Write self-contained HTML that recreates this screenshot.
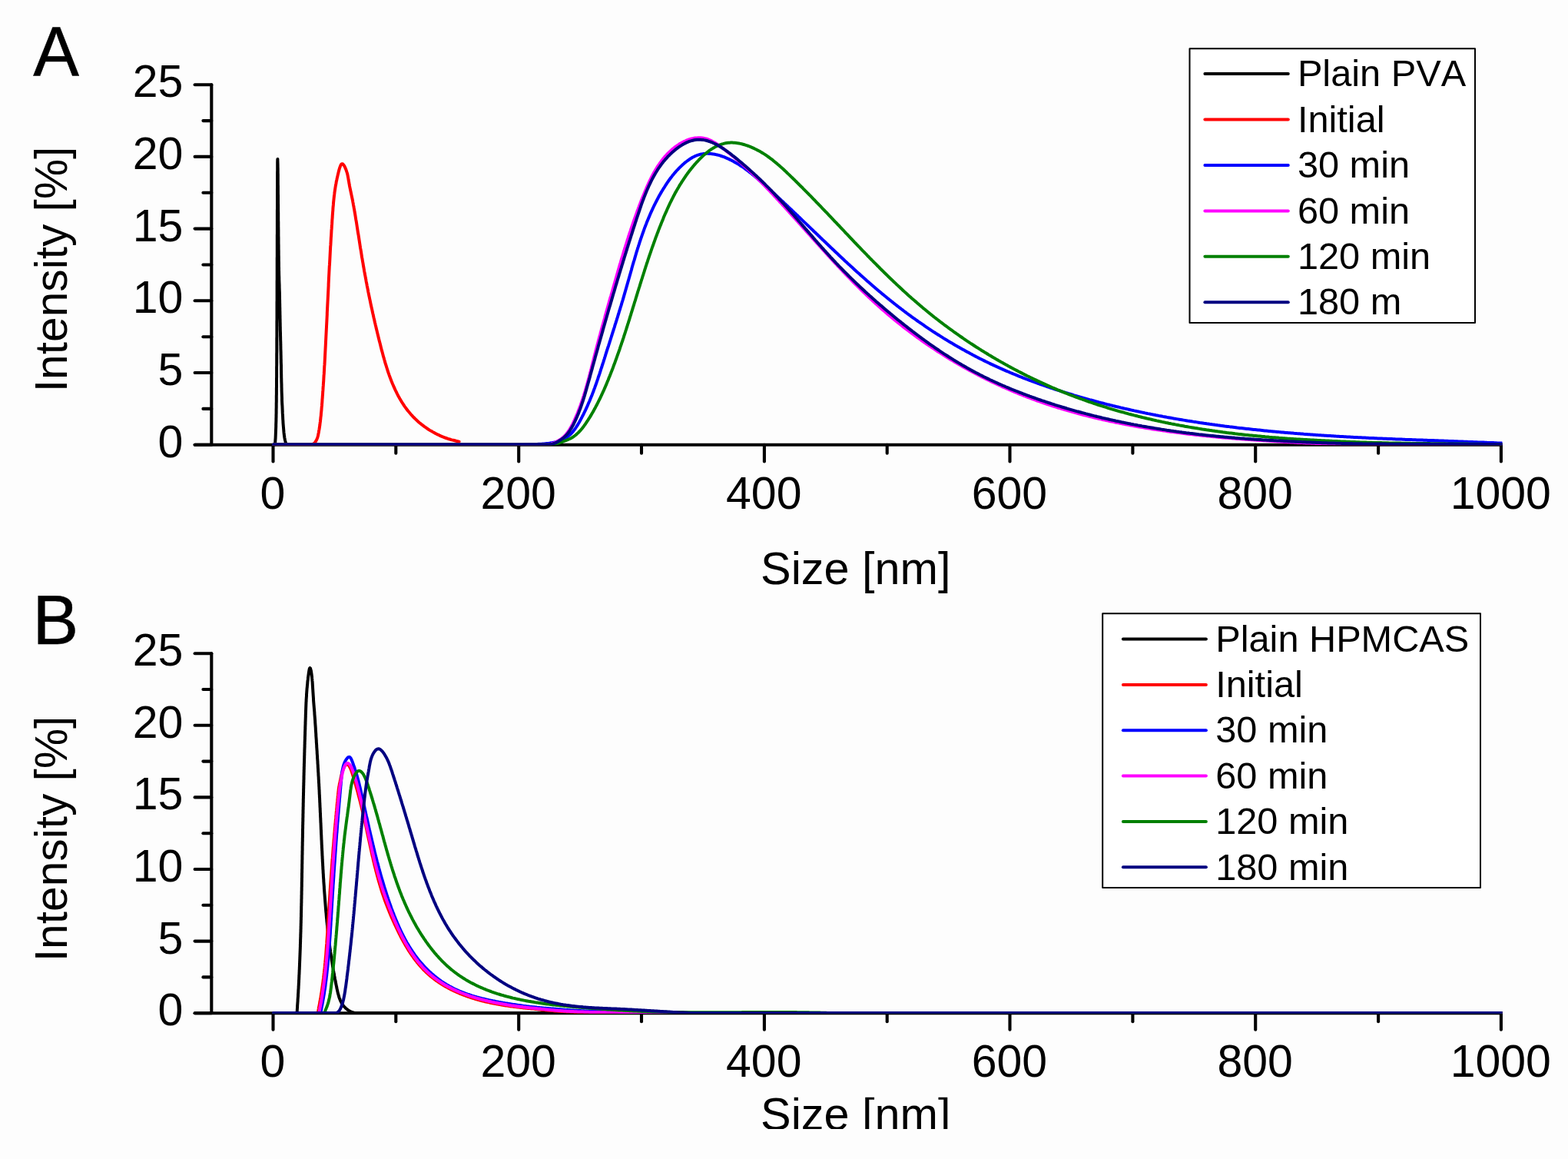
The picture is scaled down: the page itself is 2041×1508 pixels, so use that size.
<!DOCTYPE html>
<html lang="en"><head><meta charset="utf-8"><title>Particle size distributions</title>
<style>
html,body{margin:0;padding:0;background:#fdfdfd;overflow:hidden}
svg{display:block;font-family:"Liberation Sans",sans-serif;font-kerning:none;fill:#000}
.tk{font-size:59.0px}
.lg{font-size:48.7px}
.pl{font-size:89.5px;stroke:#000;stroke-width:0.5px}
.ti{font-size:58.7px}
.xt{font-size:59.4px}
</style></head>
<body>
<svg width="2041" height="1508" viewBox="0 0 2041 1508">
<defs><clipPath id="cb"><rect x="900" y="1427.8" width="440" height="41.2"/></clipPath>
<clipPath id="clipA"><rect x="270" y="100" width="1685.5" height="479.25"/></clipPath>
<clipPath id="clipB"><rect x="270" y="840" width="1685.5" height="478.85"/></clipPath></defs>
<rect width="2041" height="1508" fill="#fdfdfd"/>
<!-- Panel A -->
<g stroke="#000" stroke-width="4.1" stroke-linecap="round" fill="none">
<path d="M253.6,578.8 H1953.9"/>
<path d="M275.3,578.1 V110.2"/>
<path d="M253.6,578.8 H275.3"/>
<path d="M253.6,485.0 H275.3"/>
<path d="M253.6,391.3 H275.3"/>
<path d="M253.6,297.6 H275.3"/>
<path d="M253.6,203.9 H275.3"/>
<path d="M253.6,110.2 H275.3"/>
<path d="M264.4,531.9 H275.3"/>
<path d="M264.4,438.2 H275.3"/>
<path d="M264.4,344.5 H275.3"/>
<path d="M264.4,250.8 H275.3"/>
<path d="M264.4,157.1 H275.3"/>
<path d="M355.5,578.8 V600.4"/>
<path d="M675.2,578.8 V600.4"/>
<path d="M994.9,578.8 V600.4"/>
<path d="M1314.5,578.8 V600.4"/>
<path d="M1634.2,578.8 V600.4"/>
<path d="M1953.9,578.8 V600.4"/>
<path d="M515.3,578.8 V589.8"/>
<path d="M835.0,578.8 V589.8"/>
<path d="M1154.7,578.8 V589.8"/>
<path d="M1474.4,578.8 V589.8"/>
<path d="M1794.1,578.8 V589.8"/>
</g>
<text class="tk" transform="translate(238.30,594.75) scale(1,1.012)" text-anchor="end">0</text>
<text class="tk" transform="translate(238.30,501.04) scale(1,1.012)" text-anchor="end">5</text>
<text class="tk" transform="translate(238.30,407.33) scale(1,1.012)" text-anchor="end">10</text>
<text class="tk" transform="translate(238.30,313.62) scale(1,1.012)" text-anchor="end">15</text>
<text class="tk" transform="translate(238.30,219.91) scale(1,1.012)" text-anchor="end">20</text>
<text class="tk" transform="translate(238.30,126.20) scale(1,1.012)" text-anchor="end">25</text>
<text class="tk" transform="translate(354.90,661.75) scale(1,1.012)" text-anchor="middle">0</text>
<text class="tk" transform="translate(674.58,661.75) scale(1,1.012)" text-anchor="middle">200</text>
<text class="tk" transform="translate(994.26,661.75) scale(1,1.012)" text-anchor="middle">400</text>
<text class="tk" transform="translate(1313.94,661.75) scale(1,1.012)" text-anchor="middle">600</text>
<text class="tk" transform="translate(1633.62,661.75) scale(1,1.012)" text-anchor="middle">800</text>
<text class="tk" transform="translate(1953.30,661.75) scale(1,1.012)" text-anchor="middle">1000</text>
<g fill="none" stroke-width="4.0" stroke-linejoin="round" stroke-linecap="round" clip-path="url(#clipA)">
<path stroke="#000000" d="M358.0,578.5 L358.2,575.3 L358.4,572.4 L358.6,570.0 L358.7,567.5 L358.8,565.0 L358.9,562.5 L359.0,560.0 L359.1,557.5 L359.2,555.1 L359.2,552.6 L359.3,550.1 L359.4,547.6 L359.4,545.1 L359.5,542.6 L359.5,540.1 L359.6,537.6 L359.6,535.2 L359.6,532.7 L359.7,530.2 L359.7,527.7 L359.7,525.2 L359.8,522.7 L359.8,520.2 L359.8,517.7 L359.8,515.3 L359.9,512.8 L359.9,510.3 L359.9,507.8 L359.9,505.3 L360.0,502.8 L360.0,500.3 L360.0,497.8 L360.0,495.4 L360.0,492.9 L360.1,490.4 L360.1,487.9 L360.1,485.4 L360.1,482.9 L360.1,480.4 L360.1,478.0 L360.2,475.5 L360.2,473.0 L360.2,470.5 L360.2,468.0 L360.2,465.5 L360.2,463.0 L360.2,460.5 L360.3,458.1 L360.3,455.6 L360.3,453.1 L360.3,450.6 L360.3,448.1 L360.3,445.6 L360.3,443.1 L360.3,440.6 L360.4,438.2 L360.4,435.7 L360.4,433.2 L360.4,430.7 L360.4,428.2 L360.4,425.7 L360.4,423.2 L360.4,420.7 L360.4,418.3 L360.5,415.8 L360.5,413.3 L360.5,410.8 L360.5,408.3 L360.5,405.8 L360.5,403.3 L360.5,400.8 L360.5,398.4 L360.5,395.9 L360.5,393.4 L360.6,390.9 L360.6,388.4 L360.6,385.9 L360.6,383.4 L360.6,380.9 L360.6,378.5 L360.6,376.0 L360.6,373.5 L360.6,371.0 L360.6,368.5 L360.6,366.0 L360.7,363.5 L360.7,361.1 L360.7,358.6 L360.7,356.1 L360.7,353.6 L360.7,351.1 L360.7,348.6 L360.7,346.1 L360.7,343.6 L360.7,341.2 L360.7,338.7 L360.7,336.2 L360.8,333.7 L360.8,331.2 L360.8,328.7 L360.8,326.2 L360.8,323.7 L360.8,321.3 L360.8,318.8 L360.8,316.3 L360.8,313.8 L360.8,311.3 L360.8,308.8 L360.8,306.3 L360.9,303.8 L360.9,301.4 L360.9,298.9 L360.9,296.4 L360.9,293.9 L360.9,291.4 L360.9,288.9 L360.9,286.4 L360.9,283.9 L360.9,281.5 L360.9,279.0 L360.9,276.5 L360.9,274.0 L361.0,271.5 L361.0,269.0 L361.0,266.5 L361.0,264.0 L361.0,261.6 L361.0,259.1 L361.0,256.6 L361.0,254.1 L361.0,251.6 L361.0,249.1 L361.0,246.6 L361.1,244.1 L361.1,241.7 L361.1,239.2 L361.1,236.7 L361.1,234.2 L361.1,231.7 L361.1,229.2 L361.1,226.7 L361.1,224.3 L361.2,221.8 L361.2,219.3 L361.2,216.8 L361.2,214.2 L361.2,211.1 L361.3,208.2 L361.4,207.0 L361.4,208.5 L361.5,211.5 L361.6,214.6 L361.6,217.1 L361.7,219.6 L361.7,222.1 L361.7,224.6 L361.8,227.1 L361.8,229.5 L361.8,232.0 L361.8,234.5 L361.8,237.0 L361.8,239.5 L361.9,242.0 L361.9,244.5 L361.9,246.9 L361.9,249.4 L361.9,251.9 L362.0,254.4 L362.0,256.9 L362.0,259.4 L362.0,261.9 L362.0,264.4 L362.1,266.8 L362.1,269.3 L362.1,271.8 L362.1,274.3 L362.2,276.8 L362.2,279.3 L362.2,281.8 L362.2,284.3 L362.2,286.7 L362.3,289.2 L362.3,291.7 L362.3,294.2 L362.3,296.7 L362.4,299.2 L362.4,301.7 L362.4,304.2 L362.4,306.6 L362.5,309.1 L362.5,311.6 L362.5,314.1 L362.5,316.6 L362.6,319.1 L362.6,321.6 L362.6,324.1 L362.7,326.5 L362.7,329.0 L362.7,331.5 L362.8,334.0 L362.8,336.5 L362.8,339.0 L362.9,341.5 L362.9,343.9 L362.9,346.4 L363.0,348.9 L363.0,351.4 L363.1,353.9 L363.1,356.4 L363.2,358.9 L363.3,361.4 L363.3,363.8 L363.4,366.3 L363.5,368.8 L363.6,371.3 L363.6,373.8 L363.7,376.3 L363.8,378.8 L363.9,381.2 L363.9,383.7 L364.0,386.2 L364.0,388.7 L364.1,391.2 L364.1,393.7 L364.2,396.2 L364.2,398.7 L364.3,401.1 L364.3,403.6 L364.4,406.1 L364.4,408.6 L364.5,411.1 L364.5,413.6 L364.6,416.1 L364.6,418.5 L364.7,421.0 L364.7,423.5 L364.8,426.0 L364.8,428.5 L364.9,431.0 L365.0,433.5 L365.0,436.0 L365.1,438.4 L365.1,440.9 L365.2,443.4 L365.3,445.9 L365.3,448.4 L365.4,450.9 L365.4,453.4 L365.5,455.8 L365.6,458.3 L365.6,460.8 L365.7,463.3 L365.7,465.8 L365.8,468.3 L365.8,470.8 L365.9,473.3 L366.0,475.7 L366.0,478.2 L366.0,480.7 L366.1,483.2 L366.1,485.7 L366.2,488.2 L366.2,490.7 L366.3,493.1 L366.3,495.6 L366.4,498.1 L366.5,500.6 L366.5,503.1 L366.6,505.6 L366.6,508.1 L366.7,510.6 L366.8,513.0 L366.9,515.5 L367.0,518.0 L367.0,520.5 L367.1,523.0 L367.2,525.5 L367.4,528.0 L367.5,530.4 L367.6,532.9 L367.7,535.4 L367.8,537.9 L368.0,540.4 L368.1,542.9 L368.2,545.3 L368.4,547.8 L368.5,550.3 L368.7,552.8 L368.9,555.3 L369.1,557.7 L369.3,560.2 L369.5,562.7 L369.8,565.2 L370.1,567.7 L370.5,570.1 L371.0,572.6 L371.8,575.9 L373.0,578.0 L375.5,578.5"/>
<path stroke="#ff0000" d="M356.0,578.5 L405.0,578.5 L407.0,577.9 L408.7,576.9 L410.1,575.6 L411.2,573.9 L412.1,572.2 L412.9,570.5 L413.5,568.6 L414.0,566.7 L414.4,564.6 L414.8,562.6 L415.1,560.6 L415.5,558.6 L415.8,556.6 L416.1,554.6 L416.4,552.6 L416.6,550.6 L416.9,548.7 L417.1,546.7 L417.3,544.7 L417.5,542.8 L417.8,540.8 L417.9,538.9 L418.1,536.9 L418.3,535.0 L418.5,533.0 L418.6,531.1 L418.8,529.1 L419.0,527.2 L419.1,525.3 L419.3,523.3 L419.4,521.4 L419.5,519.4 L419.7,517.5 L419.8,515.5 L420.0,513.6 L420.1,511.6 L420.2,509.7 L420.4,507.7 L420.5,505.8 L420.6,503.8 L420.8,501.9 L420.9,499.9 L421.0,498.0 L421.2,496.0 L421.3,494.0 L421.4,492.1 L421.5,490.1 L421.6,488.2 L421.8,486.2 L421.9,484.2 L422.0,482.3 L422.1,480.3 L422.2,478.3 L422.3,476.4 L422.5,474.4 L422.6,472.4 L422.7,470.5 L422.8,468.5 L422.9,466.5 L423.0,464.6 L423.1,462.6 L423.2,460.6 L423.3,458.7 L423.4,456.7 L423.5,454.7 L423.6,452.7 L423.7,450.8 L423.8,448.8 L423.9,446.8 L424.0,444.8 L424.1,442.9 L424.2,440.9 L424.3,438.9 L424.4,436.9 L424.5,435.0 L424.6,433.0 L424.7,431.0 L424.8,429.0 L424.9,427.1 L425.0,425.1 L425.1,423.1 L425.2,421.1 L425.3,419.2 L425.4,417.2 L425.5,415.2 L425.6,413.2 L425.7,411.2 L425.8,409.3 L425.8,407.3 L425.9,405.3 L426.0,403.3 L426.1,401.4 L426.2,399.4 L426.3,397.4 L426.4,395.4 L426.5,393.5 L426.6,391.5 L426.7,389.5 L426.8,387.5 L426.9,385.6 L427.0,383.6 L427.1,381.6 L427.2,379.6 L427.3,377.7 L427.4,375.7 L427.5,373.7 L427.6,371.7 L427.6,369.8 L427.7,367.8 L427.8,365.8 L427.9,363.9 L428.0,361.9 L428.1,359.9 L428.2,357.9 L428.3,356.0 L428.4,354.0 L428.5,352.0 L428.6,350.1 L428.7,348.1 L428.8,346.1 L429.0,344.2 L429.1,342.2 L429.2,340.2 L429.3,338.3 L429.4,336.3 L429.5,334.3 L429.6,332.4 L429.7,330.4 L429.8,328.5 L429.9,326.5 L430.0,324.5 L430.1,322.6 L430.2,320.6 L430.4,318.7 L430.5,316.7 L430.6,314.8 L430.7,312.8 L430.8,310.9 L430.9,308.9 L431.1,307.0 L431.2,305.0 L431.3,303.1 L431.4,301.1 L431.5,299.2 L431.7,297.2 L431.8,295.3 L431.9,293.3 L432.1,291.4 L432.2,289.5 L432.3,287.5 L432.4,285.6 L432.6,283.6 L432.7,281.7 L432.8,279.8 L433.0,277.8 L433.1,275.9 L433.3,274.0 L433.4,272.0 L433.5,270.1 L433.7,268.2 L433.9,266.2 L434.0,264.3 L434.2,262.3 L434.4,260.4 L434.6,258.4 L434.8,256.5 L435.0,254.5 L435.3,252.5 L435.5,250.5 L435.8,248.5 L436.1,246.5 L436.4,244.5 L436.7,242.5 L437.1,240.4 L437.5,238.4 L437.8,236.3 L438.3,234.2 L438.7,232.1 L439.2,230.0 L439.7,227.9 L440.2,225.7 L440.7,223.6 L441.3,221.4 L441.9,219.2 L442.6,217.2 L443.3,215.4 L444.0,214.0 L444.8,213.3 L445.8,213.2 L446.7,213.9 L447.8,215.3 L448.8,217.0 L449.7,219.1 L450.6,221.3 L451.3,223.5 L452.0,225.7 L452.5,227.8 L452.9,229.9 L453.3,232.0 L453.6,234.0 L454.0,236.0 L454.3,238.0 L454.7,239.9 L455.0,241.9 L455.4,243.8 L455.8,245.7 L456.2,247.6 L456.6,249.5 L457.0,251.4 L457.4,253.3 L457.8,255.2 L458.2,257.1 L458.6,259.0 L459.0,260.9 L459.3,262.8 L459.7,264.7 L460.0,266.6 L460.4,268.5 L460.7,270.4 L461.1,272.4 L461.4,274.3 L461.7,276.2 L462.1,278.2 L462.4,280.1 L462.7,282.0 L463.0,284.0 L463.3,285.9 L463.7,287.9 L464.0,289.8 L464.3,291.8 L464.6,293.7 L464.9,295.7 L465.2,297.6 L465.5,299.6 L465.8,301.6 L466.1,303.5 L466.5,305.5 L466.8,307.4 L467.1,309.4 L467.4,311.4 L467.7,313.3 L468.0,315.3 L468.3,317.2 L468.6,319.2 L468.9,321.2 L469.2,323.1 L469.6,325.1 L469.9,327.0 L470.2,329.0 L470.5,330.9 L470.8,332.9 L471.1,334.9 L471.5,336.8 L471.8,338.8 L472.1,340.7 L472.5,342.6 L472.8,344.6 L473.1,346.5 L473.5,348.5 L473.8,350.4 L474.1,352.3 L474.5,354.3 L474.8,356.2 L475.2,358.1 L475.6,360.1 L475.9,362.0 L476.3,363.9 L476.6,365.8 L477.0,367.8 L477.4,369.7 L477.7,371.6 L478.1,373.5 L478.5,375.4 L478.9,377.3 L479.2,379.3 L479.6,381.2 L480.0,383.1 L480.4,385.0 L480.8,386.9 L481.2,388.8 L481.6,390.7 L482.0,392.6 L482.4,394.6 L482.8,396.5 L483.2,398.4 L483.6,400.3 L484.1,402.2 L484.5,404.1 L484.9,406.0 L485.3,407.9 L485.8,409.8 L486.2,411.8 L486.6,413.7 L487.1,415.6 L487.5,417.5 L487.9,419.4 L488.4,421.3 L488.8,423.2 L489.3,425.1 L489.7,427.1 L490.2,429.0 L490.7,430.9 L491.1,432.8 L491.6,434.7 L492.1,436.7 L492.5,438.6 L493.0,440.5 L493.5,442.4 L494.0,444.4 L494.5,446.3 L495.0,448.2 L495.4,450.1 L495.9,452.1 L496.4,454.0 L496.9,455.9 L497.5,457.9 L498.0,459.8 L498.5,461.7 L499.0,463.7 L499.6,465.6 L500.1,467.5 L500.7,469.4 L501.2,471.4 L501.8,473.3 L502.4,475.2 L503.0,477.1 L503.6,479.0 L504.2,480.9 L504.8,482.8 L505.4,484.7 L506.1,486.5 L506.7,488.4 L507.4,490.3 L508.1,492.1 L508.8,494.0 L509.5,495.8 L510.3,497.7 L511.0,499.5 L511.8,501.3 L512.6,503.1 L513.4,504.9 L514.2,506.7 L515.0,508.4 L515.9,510.2 L516.7,511.9 L517.6,513.6 L518.5,515.4 L519.5,517.1 L520.4,518.8 L521.4,520.4 L522.4,522.1 L523.4,523.7 L524.5,525.4 L525.5,527.0 L526.6,528.6 L527.7,530.1 L528.9,531.7 L530.0,533.2 L531.2,534.8 L532.5,536.3 L533.7,537.7 L535.0,539.2 L536.3,540.7 L537.6,542.1 L539.0,543.5 L540.4,544.9 L541.8,546.2 L543.2,547.6 L544.7,548.9 L546.2,550.2 L547.7,551.4 L549.3,552.7 L550.9,553.9 L552.5,555.1 L554.1,556.2 L555.8,557.4 L557.4,558.5 L559.1,559.6 L560.8,560.6 L562.6,561.6 L564.3,562.6 L566.1,563.6 L567.9,564.5 L569.7,565.4 L571.5,566.2 L573.3,567.1 L575.1,567.9 L577.0,568.6 L578.8,569.3 L580.7,570.0 L582.5,570.7 L584.4,571.3 L586.3,571.8 L588.2,572.4 L590.1,572.8 L592.0,573.3 L593.8,573.8 L595.7,574.2 L597.6,574.6"/>
<path stroke="#0000ff" d="M356.0,578.5 L681.0,578.5 L682.8,578.3 L684.6,578.3 L686.4,578.2 L688.2,578.1 L690.0,578.1 L691.8,578.1 L693.6,578.0 L695.4,578.0 L697.3,577.9 L699.1,577.9 L700.9,577.8 L702.7,577.8 L704.5,577.7 L706.3,577.6 L708.1,577.5 L709.9,577.3 L711.8,577.1 L713.6,576.9 L715.4,576.6 L717.3,576.3 L719.1,576.0 L720.9,575.6 L722.8,575.2 L724.6,574.7 L726.4,574.1 L728.2,573.5 L729.9,572.9 L731.6,572.2 L733.3,571.5 L734.9,570.7 L736.4,569.8 L737.9,568.9 L739.3,567.9 L740.6,566.8 L742.0,565.6 L743.2,564.4 L744.4,563.1 L745.6,561.7 L746.7,560.4 L747.8,558.9 L748.9,557.5 L749.9,556.0 L750.9,554.4 L751.9,552.9 L752.8,551.3 L753.8,549.7 L754.7,548.1 L755.6,546.5 L756.4,544.8 L757.3,543.2 L758.1,541.6 L759.0,540.0 L759.8,538.3 L760.6,536.7 L761.4,535.0 L762.2,533.4 L763.0,531.7 L763.7,530.1 L764.5,528.4 L765.2,526.8 L765.9,525.1 L766.6,523.4 L767.4,521.8 L768.1,520.1 L768.7,518.4 L769.4,516.7 L770.1,515.1 L770.8,513.4 L771.4,511.7 L772.1,510.0 L772.7,508.3 L773.3,506.6 L774.0,504.9 L774.6,503.2 L775.2,501.5 L775.8,499.8 L776.4,498.1 L777.0,496.4 L777.6,494.7 L778.2,492.9 L778.7,491.2 L779.3,489.5 L779.9,487.8 L780.5,486.1 L781.0,484.4 L781.6,482.6 L782.1,480.9 L782.7,479.2 L783.3,477.5 L783.8,475.7 L784.4,474.0 L784.9,472.3 L785.5,470.6 L786.0,468.8 L786.6,467.1 L787.1,465.4 L787.7,463.6 L788.2,461.9 L788.7,460.2 L789.3,458.5 L789.8,456.7 L790.4,455.0 L790.9,453.3 L791.5,451.5 L792.1,449.8 L792.6,448.1 L793.2,446.4 L793.7,444.6 L794.3,442.9 L794.8,441.2 L795.4,439.4 L795.9,437.7 L796.5,436.0 L797.0,434.2 L797.6,432.5 L798.1,430.8 L798.7,429.0 L799.2,427.3 L799.8,425.6 L800.3,423.8 L800.8,422.1 L801.4,420.4 L801.9,418.6 L802.5,416.9 L803.0,415.2 L803.6,413.4 L804.1,411.7 L804.6,410.0 L805.2,408.2 L805.7,406.5 L806.2,404.7 L806.8,403.0 L807.3,401.3 L807.8,399.5 L808.4,397.8 L808.9,396.1 L809.4,394.3 L809.9,392.6 L810.5,390.8 L811.0,389.1 L811.5,387.4 L812.0,385.6 L812.5,383.9 L813.0,382.1 L813.5,380.4 L814.0,378.7 L814.5,376.9 L815.0,375.2 L815.5,373.4 L816.0,371.7 L816.5,369.9 L817.0,368.2 L817.5,366.4 L818.0,364.7 L818.5,363.0 L819.0,361.2 L819.5,359.5 L820.0,357.7 L820.5,356.0 L821.0,354.2 L821.5,352.5 L822.0,350.8 L822.4,349.0 L822.9,347.3 L823.4,345.5 L823.9,343.8 L824.4,342.1 L824.9,340.3 L825.5,338.6 L826.0,336.9 L826.5,335.1 L827.0,333.4 L827.5,331.7 L828.0,329.9 L828.5,328.2 L829.1,326.5 L829.6,324.8 L830.1,323.0 L830.7,321.3 L831.2,319.6 L831.8,317.9 L832.3,316.2 L832.9,314.4 L833.5,312.7 L834.0,311.0 L834.6,309.3 L835.2,307.6 L835.8,305.9 L836.4,304.2 L837.0,302.5 L837.6,300.8 L838.2,299.1 L838.8,297.4 L839.4,295.7 L840.1,294.1 L840.7,292.4 L841.4,290.7 L842.0,289.0 L842.7,287.4 L843.4,285.7 L844.1,284.0 L844.8,282.4 L845.5,280.7 L846.2,279.0 L846.9,277.4 L847.7,275.7 L848.4,274.1 L849.2,272.4 L849.9,270.8 L850.7,269.2 L851.5,267.5 L852.3,265.9 L853.1,264.3 L853.9,262.7 L854.8,261.0 L855.6,259.4 L856.5,257.8 L857.3,256.2 L858.2,254.6 L859.1,253.0 L860.0,251.4 L860.9,249.9 L861.9,248.3 L862.8,246.7 L863.8,245.1 L864.8,243.6 L865.8,242.0 L866.8,240.4 L867.8,238.9 L868.8,237.4 L869.9,235.8 L871.0,234.3 L872.1,232.8 L873.2,231.3 L874.3,229.9 L875.4,228.4 L876.6,227.0 L877.8,225.5 L879.0,224.1 L880.2,222.7 L881.5,221.4 L882.8,220.0 L884.1,218.7 L885.4,217.4 L886.7,216.1 L888.1,214.8 L889.5,213.6 L890.9,212.3 L892.3,211.1 L893.8,210.0 L895.3,208.9 L896.8,207.8 L898.3,206.7 L899.9,205.8 L901.5,204.8 L903.1,204.0 L904.7,203.2 L906.3,202.5 L907.9,201.9 L909.6,201.4 L911.3,200.9 L912.9,200.5 L914.6,200.3 L916.3,200.0 L918.1,199.9 L919.8,199.8 L921.5,199.8 L923.2,199.9 L925.0,200.0 L926.7,200.2 L928.4,200.4 L930.2,200.7 L931.9,201.1 L933.6,201.5 L935.4,201.9 L937.1,202.4 L938.8,203.0 L940.5,203.6 L942.3,204.2 L944.0,204.9 L945.6,205.6 L947.3,206.3 L949.0,207.1 L950.6,207.9 L952.3,208.7 L953.9,209.6 L955.5,210.5 L957.1,211.4 L958.7,212.3 L960.3,213.2 L961.8,214.2 L963.3,215.2 L964.9,216.2 L966.4,217.2 L967.9,218.2 L969.3,219.2 L970.8,220.3 L972.3,221.4 L973.7,222.5 L975.2,223.6 L976.6,224.7 L978.0,225.8 L979.4,226.9 L980.8,228.1 L982.2,229.3 L983.6,230.4 L985.0,231.6 L986.4,232.8 L987.7,234.0 L989.1,235.2 L990.5,236.4 L991.8,237.6 L993.2,238.8 L994.5,240.0 L995.9,241.2 L997.3,242.4 L998.6,243.6 L999.9,244.8 L1001.3,246.1 L1002.6,247.3 L1004.0,248.5 L1005.3,249.7 L1006.7,251.0 L1008.0,252.2 L1009.3,253.4 L1010.7,254.7 L1012.0,255.9 L1013.3,257.1 L1014.7,258.4 L1016.0,259.6 L1017.3,260.9 L1018.7,262.1 L1020.0,263.3 L1021.3,264.6 L1022.6,265.8 L1024.0,267.1 L1025.3,268.3 L1026.6,269.6 L1027.9,270.8 L1029.2,272.1 L1030.6,273.3 L1031.9,274.6 L1033.2,275.8 L1034.5,277.1 L1035.8,278.3 L1037.1,279.6 L1038.5,280.8 L1039.8,282.1 L1041.1,283.3 L1042.4,284.6 L1043.7,285.9 L1045.0,287.1 L1046.3,288.4 L1047.6,289.6 L1049.0,290.9 L1050.3,292.1 L1051.6,293.4 L1052.9,294.7 L1054.2,295.9 L1055.5,297.2 L1056.8,298.4 L1058.1,299.7 L1059.4,301.0 L1060.8,302.2 L1062.1,303.5 L1063.4,304.7 L1064.7,306.0 L1066.0,307.2 L1067.3,308.5 L1068.6,309.8 L1069.9,311.0 L1071.2,312.3 L1072.6,313.5 L1073.9,314.8 L1075.2,316.0 L1076.5,317.3 L1077.8,318.5 L1079.1,319.8 L1080.4,321.0 L1081.7,322.3 L1083.1,323.5 L1084.4,324.8 L1085.7,326.0 L1087.0,327.3 L1088.3,328.5 L1089.7,329.8 L1091.0,331.0 L1092.3,332.3 L1093.6,333.5 L1094.9,334.7 L1096.3,336.0 L1097.6,337.2 L1098.9,338.5 L1100.2,339.7 L1101.6,340.9 L1102.9,342.2 L1104.2,343.4 L1105.6,344.6 L1106.9,345.8 L1108.2,347.1 L1109.6,348.3 L1110.9,349.5 L1112.2,350.7 L1113.6,352.0 L1114.9,353.2 L1116.3,354.4 L1117.6,355.6 L1119.0,356.8 L1120.3,358.0 L1121.7,359.2 L1123.0,360.4 L1124.4,361.6 L1125.7,362.8 L1127.1,364.0 L1128.4,365.2 L1129.8,366.4 L1131.2,367.6 L1132.5,368.8 L1133.9,370.0 L1135.3,371.2 L1136.6,372.4 L1138.0,373.5 L1139.4,374.7 L1140.8,375.9 L1142.1,377.1 L1143.5,378.2 L1144.9,379.4 L1146.3,380.5 L1147.7,381.7 L1149.1,382.9 L1150.5,384.0 L1151.9,385.2 L1153.3,386.3 L1154.7,387.5 L1156.1,388.6 L1157.5,389.7 L1158.9,390.9 L1160.3,392.0 L1161.7,393.1 L1163.1,394.3 L1164.5,395.4 L1166.0,396.5 L1167.4,397.6 L1168.8,398.7 L1170.2,399.8 L1171.7,400.9 L1173.1,402.0 L1174.6,403.1 L1176.0,404.2 L1177.4,405.3 L1178.9,406.4 L1180.3,407.5 L1181.8,408.6 L1183.3,409.6 L1184.7,410.7 L1186.2,411.8 L1187.6,412.8 L1189.1,413.9 L1190.6,414.9 L1192.1,416.0 L1193.5,417.0 L1195.0,418.1 L1196.5,419.1 L1198.0,420.2 L1199.5,421.2 L1201.0,422.2 L1202.5,423.2 L1204.0,424.3 L1205.5,425.3 L1207.0,426.3 L1208.5,427.3 L1210.0,428.3 L1211.5,429.3 L1213.0,430.3 L1214.5,431.3 L1216.0,432.3 L1217.6,433.3 L1219.1,434.3 L1220.6,435.2 L1222.2,436.2 L1223.7,437.2 L1225.2,438.1 L1226.8,439.1 L1228.3,440.1 L1229.8,441.0 L1231.4,441.9 L1232.9,442.9 L1234.5,443.8 L1236.0,444.8 L1237.6,445.7 L1239.2,446.6 L1240.7,447.5 L1242.3,448.5 L1243.9,449.4 L1245.4,450.3 L1247.0,451.2 L1248.6,452.1 L1250.2,453.0 L1251.7,453.9 L1253.3,454.7 L1254.9,455.6 L1256.5,456.5 L1258.1,457.4 L1259.7,458.2 L1261.3,459.1 L1262.9,460.0 L1264.5,460.8 L1266.1,461.7 L1267.7,462.5 L1269.3,463.4 L1270.9,464.2 L1272.5,465.0 L1274.1,465.9 L1275.8,466.7 L1277.4,467.5 L1279.0,468.3 L1280.6,469.1 L1282.2,469.9 L1283.9,470.7 L1285.5,471.5 L1287.1,472.3 L1288.8,473.1 L1290.4,473.9 L1292.1,474.6 L1293.7,475.4 L1295.4,476.2 L1297.0,476.9 L1298.7,477.7 L1300.3,478.4 L1302.0,479.2 L1303.6,479.9 L1305.3,480.6 L1307.0,481.4 L1308.6,482.1 L1310.3,482.8 L1312.0,483.5 L1313.6,484.2 L1315.3,485.0 L1317.0,485.7 L1318.7,486.4 L1320.3,487.0 L1322.0,487.7 L1323.7,488.4 L1325.4,489.1 L1327.1,489.8 L1328.8,490.4 L1330.5,491.1 L1332.2,491.8 L1333.8,492.4 L1335.5,493.1 L1337.2,493.7 L1338.9,494.4 L1340.6,495.0 L1342.3,495.7 L1344.1,496.3 L1345.8,496.9 L1347.5,497.5 L1349.2,498.2 L1350.9,498.8 L1352.6,499.4 L1354.3,500.0 L1356.0,500.6 L1357.7,501.2 L1359.5,501.8 L1361.2,502.4 L1362.9,503.0 L1364.6,503.6 L1366.3,504.2 L1368.1,504.7 L1369.8,505.3 L1371.5,505.9 L1373.2,506.5 L1375.0,507.0 L1376.7,507.6 L1378.4,508.1 L1380.1,508.7 L1381.9,509.2 L1383.6,509.8 L1385.3,510.3 L1387.1,510.9 L1388.8,511.4 L1390.5,512.0 L1392.3,512.5 L1394.0,513.0 L1395.7,513.5 L1397.5,514.1 L1399.2,514.6 L1401.0,515.1 L1402.7,515.6 L1404.4,516.1 L1406.2,516.6 L1407.9,517.1 L1409.7,517.6 L1411.4,518.1 L1413.2,518.6 L1414.9,519.1 L1416.6,519.6 L1418.4,520.1 L1420.1,520.5 L1421.9,521.0 L1423.6,521.5 L1425.4,522.0 L1427.1,522.4 L1428.9,522.9 L1430.6,523.4 L1432.4,523.8 L1434.1,524.3 L1435.9,524.7 L1437.6,525.2 L1439.4,525.6 L1441.2,526.1 L1442.9,526.5 L1444.7,527.0 L1446.4,527.4 L1448.2,527.8 L1449.9,528.3 L1451.7,528.7 L1453.5,529.1 L1455.2,529.5 L1457.0,529.9 L1458.7,530.4 L1460.5,530.8 L1462.3,531.2 L1464.0,531.6 L1465.8,532.0 L1467.6,532.4 L1469.3,532.8 L1471.1,533.2 L1472.8,533.6 L1474.6,534.0 L1476.4,534.4 L1478.2,534.7 L1479.9,535.1 L1481.7,535.5 L1483.5,535.9 L1485.2,536.3 L1487.0,536.6 L1488.8,537.0 L1490.5,537.4 L1492.3,537.7 L1494.1,538.1 L1495.9,538.4 L1497.6,538.8 L1499.4,539.1 L1501.2,539.5 L1503.0,539.8 L1504.7,540.2 L1506.5,540.5 L1508.3,540.9 L1510.1,541.2 L1511.8,541.5 L1513.6,541.9 L1515.4,542.2 L1517.2,542.5 L1519.0,542.9 L1520.7,543.2 L1522.5,543.5 L1524.3,543.8 L1526.1,544.1 L1527.9,544.5 L1529.7,544.8 L1531.4,545.1 L1533.2,545.4 L1535.0,545.7 L1536.8,546.0 L1538.6,546.3 L1540.4,546.6 L1542.2,546.9 L1543.9,547.2 L1545.7,547.5 L1547.5,547.7 L1549.3,548.0 L1551.1,548.3 L1552.9,548.6 L1554.7,548.9 L1556.5,549.1 L1558.2,549.4 L1560.0,549.7 L1561.8,550.0 L1563.6,550.2 L1565.4,550.5 L1567.2,550.8 L1569.0,551.0 L1570.8,551.3 L1572.6,551.5 L1574.4,551.8 L1576.2,552.0 L1578.0,552.3 L1579.8,552.5 L1581.6,552.8 L1583.4,553.0 L1585.2,553.3 L1587.0,553.5 L1588.7,553.8 L1590.5,554.0 L1592.3,554.2 L1594.1,554.5 L1595.9,554.7 L1597.7,554.9 L1599.5,555.1 L1601.3,555.4 L1603.1,555.6 L1604.9,555.8 L1606.7,556.0 L1608.5,556.2 L1610.3,556.5 L1612.1,556.7 L1613.9,556.9 L1615.7,557.1 L1617.6,557.3 L1619.4,557.5 L1621.2,557.7 L1623.0,557.9 L1624.8,558.1 L1626.6,558.3 L1628.4,558.5 L1630.2,558.7 L1632.0,558.9 L1633.8,559.1 L1635.6,559.3 L1637.4,559.5 L1639.2,559.6 L1641.0,559.8 L1642.8,560.0 L1644.6,560.2 L1646.4,560.4 L1648.2,560.5 L1650.1,560.7 L1651.9,560.9 L1653.7,561.1 L1655.5,561.2 L1657.3,561.4 L1659.1,561.6 L1660.9,561.7 L1662.7,561.9 L1664.5,562.1 L1666.3,562.2 L1668.1,562.4 L1670.0,562.5 L1671.8,562.7 L1673.6,562.9 L1675.4,563.0 L1677.2,563.2 L1679.0,563.3 L1680.8,563.5 L1682.6,563.6 L1684.4,563.8 L1686.3,563.9 L1688.1,564.1 L1689.9,564.2 L1691.7,564.3 L1693.5,564.5 L1695.3,564.6 L1697.1,564.8 L1698.9,564.9 L1700.8,565.0 L1702.6,565.2 L1704.4,565.3 L1706.2,565.4 L1708.0,565.5 L1709.8,565.7 L1711.6,565.8 L1713.5,565.9 L1715.3,566.1 L1717.1,566.2 L1718.9,566.3 L1720.7,566.4 L1722.5,566.5 L1724.3,566.7 L1726.2,566.8 L1728.0,566.9 L1729.8,567.0 L1731.6,567.1 L1733.4,567.2 L1735.2,567.3 L1737.1,567.4 L1738.9,567.6 L1740.7,567.7 L1742.5,567.8 L1744.3,567.9 L1746.1,568.0 L1748.0,568.1 L1749.8,568.2 L1751.6,568.3 L1753.4,568.4 L1755.2,568.5 L1757.0,568.6 L1758.9,568.7 L1760.7,568.8 L1762.5,568.9 L1764.3,569.0 L1766.1,569.1 L1767.9,569.2 L1769.8,569.3 L1771.6,569.3 L1773.4,569.4 L1775.2,569.5 L1777.0,569.6 L1778.8,569.7 L1780.7,569.8 L1782.5,569.9 L1784.3,570.0 L1786.1,570.0 L1787.9,570.1 L1789.7,570.2 L1791.6,570.3 L1793.4,570.4 L1795.2,570.5 L1797.0,570.5 L1798.8,570.6 L1800.6,570.7 L1802.5,570.8 L1804.3,570.8 L1806.1,570.9 L1807.9,571.0 L1809.7,571.1 L1811.5,571.1 L1813.4,571.2 L1815.2,571.3 L1817.0,571.4 L1818.8,571.4 L1820.6,571.5 L1822.4,571.6 L1824.3,571.6 L1826.1,571.7 L1827.9,571.8 L1829.7,571.9 L1831.5,571.9 L1833.3,572.0 L1835.1,572.1 L1837.0,572.1 L1838.8,572.2 L1840.6,572.3 L1842.4,572.3 L1844.2,572.4 L1846.0,572.4 L1847.9,572.5 L1849.7,572.6 L1851.5,572.6 L1853.3,572.7 L1855.1,572.8 L1856.9,572.8 L1858.7,572.9 L1860.6,572.9 L1862.4,573.0 L1864.2,573.1 L1866.0,573.1 L1867.8,573.2 L1869.6,573.2 L1871.4,573.3 L1873.2,573.4 L1875.1,573.4 L1876.9,573.5 L1878.7,573.6 L1880.5,573.7 L1882.3,573.7 L1884.1,573.8 L1885.9,573.9 L1887.7,573.9 L1889.6,574.0 L1891.4,574.1 L1893.2,574.2 L1895.0,574.2 L1896.8,574.3 L1898.6,574.4 L1900.4,574.4 L1902.2,574.5 L1904.0,574.6 L1905.8,574.7 L1907.7,574.7 L1909.5,574.8 L1911.3,574.9 L1913.1,574.9 L1914.9,575.0 L1916.7,575.1 L1918.5,575.2 L1920.3,575.2 L1922.1,575.3 L1923.9,575.4 L1925.7,575.4 L1927.5,575.5 L1929.3,575.6 L1931.1,575.6 L1933.0,575.7 L1934.8,575.8 L1936.6,575.9 L1938.4,575.9 L1940.2,576.0 L1942.0,576.1 L1943.8,576.1 L1945.6,576.2 L1947.4,576.3 L1949.2,576.4 L1951.0,576.4 L1952.8,576.5 L1954.6,576.6 L1956.4,576.7 L1958.2,576.7 L1960.0,576.8"/>
<path stroke="#ff00ff" d="M356.0,578.5 L711.9,578.4 L713.8,578.3 L715.7,578.0 L717.5,577.6 L719.4,577.0 L721.2,576.3 L722.9,575.6 L724.6,574.7 L726.2,573.7 L727.8,572.7 L729.4,571.8 L730.8,570.7 L732.2,569.6 L733.6,568.4 L734.9,567.2 L736.1,565.9 L737.3,564.5 L738.4,563.1 L739.4,561.7 L740.5,560.2 L741.5,558.6 L742.4,557.0 L743.3,555.4 L744.2,553.8 L745.1,552.2 L745.9,550.5 L746.7,548.8 L747.5,547.1 L748.3,545.5 L749.0,543.8 L749.7,542.1 L750.5,540.4 L751.2,538.7 L751.9,537.0 L752.6,535.3 L753.2,533.5 L753.9,531.8 L754.5,530.1 L755.2,528.4 L755.8,526.7 L756.4,525.0 L757.0,523.2 L757.6,521.5 L758.2,519.8 L758.8,518.0 L759.3,516.3 L759.9,514.6 L760.4,512.8 L760.9,511.1 L761.5,509.4 L762.0,507.6 L762.5,505.9 L763.0,504.1 L763.5,502.4 L764.0,500.6 L764.5,498.9 L765.0,497.1 L765.4,495.3 L765.9,493.6 L766.4,491.8 L766.9,490.1 L767.3,488.3 L767.8,486.5 L768.2,484.8 L768.7,483.0 L769.1,481.2 L769.6,479.5 L770.0,477.7 L770.5,475.9 L770.9,474.2 L771.4,472.4 L771.8,470.6 L772.3,468.8 L772.7,467.1 L773.2,465.3 L773.6,463.5 L774.1,461.7 L774.6,459.9 L775.0,458.2 L775.5,456.4 L775.9,454.6 L776.4,452.8 L776.9,451.1 L777.3,449.3 L777.8,447.5 L778.3,445.7 L778.8,443.9 L779.2,442.2 L779.7,440.4 L780.2,438.6 L780.7,436.8 L781.2,435.0 L781.6,433.2 L782.1,431.5 L782.6,429.7 L783.1,427.9 L783.6,426.1 L784.1,424.3 L784.6,422.6 L785.1,420.8 L785.6,419.0 L786.1,417.2 L786.6,415.5 L787.1,413.7 L787.5,411.9 L788.0,410.1 L788.5,408.3 L789.0,406.6 L789.5,404.8 L790.0,403.0 L790.5,401.2 L791.0,399.5 L791.5,397.7 L792.0,395.9 L792.5,394.2 L793.0,392.4 L793.5,390.6 L794.0,388.9 L794.5,387.1 L795.1,385.3 L795.6,383.6 L796.1,381.8 L796.6,380.1 L797.1,378.3 L797.6,376.5 L798.1,374.8 L798.6,373.0 L799.1,371.3 L799.6,369.5 L800.1,367.8 L800.6,366.0 L801.1,364.3 L801.6,362.5 L802.1,360.8 L802.6,359.0 L803.1,357.3 L803.6,355.5 L804.1,353.8 L804.6,352.0 L805.1,350.3 L805.6,348.6 L806.1,346.8 L806.6,345.1 L807.1,343.3 L807.7,341.6 L808.2,339.9 L808.7,338.1 L809.2,336.4 L809.7,334.7 L810.3,332.9 L810.8,331.2 L811.3,329.5 L811.8,327.7 L812.4,326.0 L812.9,324.3 L813.4,322.5 L814.0,320.8 L814.5,319.1 L815.1,317.3 L815.6,315.6 L816.2,313.9 L816.7,312.1 L817.3,310.4 L817.8,308.7 L818.4,307.0 L818.9,305.2 L819.5,303.5 L820.1,301.8 L820.7,300.1 L821.2,298.3 L821.8,296.6 L822.4,294.9 L823.0,293.1 L823.6,291.4 L824.2,289.7 L824.8,288.0 L825.4,286.2 L826.0,284.5 L826.6,282.8 L827.2,281.1 L827.9,279.3 L828.5,277.6 L829.1,275.9 L829.7,274.1 L830.4,272.4 L831.0,270.7 L831.7,269.0 L832.3,267.2 L833.0,265.5 L833.7,263.8 L834.3,262.0 L835.0,260.3 L835.7,258.6 L836.4,256.8 L837.1,255.1 L837.8,253.4 L838.5,251.6 L839.2,249.9 L839.9,248.2 L840.7,246.5 L841.4,244.7 L842.1,243.0 L842.9,241.3 L843.7,239.6 L844.5,237.9 L845.2,236.2 L846.1,234.5 L846.9,232.8 L847.7,231.2 L848.6,229.5 L849.4,227.8 L850.3,226.2 L851.2,224.6 L852.1,223.0 L853.0,221.4 L854.0,219.8 L854.9,218.2 L855.9,216.6 L856.9,215.1 L858.0,213.6 L859.0,212.1 L860.1,210.6 L861.2,209.1 L862.3,207.7 L863.4,206.2 L864.6,204.8 L865.8,203.4 L867.0,202.1 L868.2,200.7 L869.5,199.4 L870.8,198.1 L872.1,196.9 L873.5,195.6 L874.8,194.4 L876.3,193.2 L877.7,192.1 L879.2,190.9 L880.7,189.9 L882.2,188.8 L883.7,187.8 L885.3,186.8 L886.9,185.9 L888.5,185.0 L890.1,184.2 L891.7,183.5 L893.4,182.7 L895.0,182.1 L896.7,181.5 L898.4,181.0 L900.1,180.5 L901.8,180.1 L903.5,179.8 L905.2,179.5 L907.0,179.4 L908.7,179.3 L910.4,179.2 L912.1,179.3 L913.9,179.5 L915.6,179.7 L917.3,180.1 L919.0,180.5 L920.7,181.0 L922.4,181.6 L924.1,182.3 L925.8,183.1 L927.4,184.0 L929.1,184.9 L930.7,185.8 L932.4,186.9 L934.0,187.9 L935.6,189.0 L937.2,190.2 L938.8,191.3 L940.4,192.5 L942.0,193.7 L943.5,195.0 L945.1,196.2 L946.6,197.4 L948.1,198.6 L949.6,199.8 L951.1,201.0 L952.5,202.2 L954.0,203.4 L955.5,204.5 L956.9,205.7 L958.3,206.9 L959.7,208.1 L961.1,209.3 L962.5,210.4 L963.9,211.6 L965.3,212.8 L966.7,214.0 L968.0,215.3 L969.4,216.5 L970.8,217.7 L972.1,218.9 L973.5,220.2 L974.8,221.4 L976.1,222.7 L977.4,223.9 L978.8,225.2 L980.1,226.4 L981.4,227.7 L982.7,229.0 L984.0,230.2 L985.3,231.5 L986.6,232.8 L987.8,234.1 L989.1,235.4 L990.4,236.7 L991.7,238.0 L992.9,239.3 L994.2,240.6 L995.5,241.9 L996.7,243.2 L998.0,244.5 L999.3,245.8 L1000.5,247.1 L1001.8,248.4 L1003.0,249.8 L1004.3,251.1 L1005.5,252.4 L1006.8,253.7 L1008.0,255.1 L1009.2,256.4 L1010.5,257.7 L1011.7,259.1 L1013.0,260.4 L1014.2,261.7 L1015.4,263.1 L1016.7,264.4 L1017.9,265.8 L1019.1,267.1 L1020.4,268.5 L1021.6,269.8 L1022.8,271.2 L1024.0,272.5 L1025.3,273.9 L1026.5,275.2 L1027.7,276.6 L1028.9,277.9 L1030.2,279.3 L1031.4,280.6 L1032.6,282.0 L1033.8,283.4 L1035.1,284.7 L1036.3,286.1 L1037.5,287.4 L1038.7,288.8 L1039.9,290.2 L1041.2,291.5 L1042.4,292.9 L1043.6,294.3 L1044.8,295.6 L1046.0,297.0 L1047.3,298.3 L1048.5,299.7 L1049.7,301.1 L1050.9,302.4 L1052.1,303.8 L1053.4,305.2 L1054.6,306.5 L1055.8,307.9 L1057.0,309.3 L1058.2,310.6 L1059.5,312.0 L1060.7,313.4 L1061.9,314.7 L1063.1,316.1 L1064.4,317.4 L1065.6,318.8 L1066.8,320.2 L1068.0,321.5 L1069.3,322.9 L1070.5,324.2 L1071.7,325.6 L1073.0,327.0 L1074.2,328.3 L1075.4,329.7 L1076.7,331.0 L1077.9,332.4 L1079.1,333.7 L1080.4,335.1 L1081.6,336.4 L1082.9,337.8 L1084.1,339.1 L1085.3,340.5 L1086.6,341.8 L1087.8,343.1 L1089.1,344.5 L1090.3,345.8 L1091.6,347.2 L1092.8,348.5 L1094.1,349.8 L1095.4,351.2 L1096.6,352.5 L1097.9,353.8 L1099.1,355.1 L1100.4,356.5 L1101.7,357.8 L1103.0,359.1 L1104.2,360.4 L1105.5,361.7 L1106.8,363.0 L1108.1,364.4 L1109.3,365.7 L1110.6,367.0 L1111.9,368.3 L1113.2,369.6 L1114.5,370.9 L1115.8,372.1 L1117.1,373.4 L1118.4,374.7 L1119.7,376.0 L1121.0,377.3 L1122.3,378.6 L1123.6,379.8 L1124.9,381.1 L1126.3,382.4 L1127.6,383.7 L1128.9,384.9 L1130.2,386.2 L1131.6,387.4 L1132.9,388.7 L1134.3,389.9 L1135.6,391.2 L1136.9,392.4 L1138.3,393.6 L1139.6,394.9 L1141.0,396.1 L1142.4,397.3 L1143.7,398.6 L1145.1,399.8 L1146.5,401.0 L1147.8,402.2 L1149.2,403.4 L1150.6,404.6 L1152.0,405.8 L1153.4,407.0 L1154.8,408.2 L1156.2,409.4 L1157.6,410.6 L1159.0,411.7 L1160.4,412.9 L1161.8,414.1 L1163.2,415.2 L1164.6,416.4 L1166.0,417.6 L1167.5,418.7 L1168.9,419.9 L1170.3,421.0 L1171.8,422.2 L1173.2,423.3 L1174.6,424.4 L1176.1,425.6 L1177.5,426.7 L1179.0,427.8 L1180.4,428.9 L1181.9,430.0 L1183.4,431.1 L1184.8,432.2 L1186.3,433.3 L1187.8,434.4 L1189.2,435.5 L1190.7,436.6 L1192.2,437.7 L1193.7,438.8 L1195.2,439.9 L1196.7,440.9 L1198.2,442.0 L1199.6,443.1 L1201.1,444.1 L1202.6,445.2 L1204.2,446.2 L1205.7,447.3 L1207.2,448.3 L1208.7,449.3 L1210.2,450.4 L1211.7,451.4 L1213.2,452.4 L1214.8,453.4 L1216.3,454.4 L1217.8,455.4 L1219.4,456.5 L1220.9,457.5 L1222.5,458.4 L1224.0,459.4 L1225.5,460.4 L1227.1,461.4 L1228.6,462.4 L1230.2,463.4 L1231.8,464.3 L1233.3,465.3 L1234.9,466.3 L1236.4,467.2 L1238.0,468.2 L1239.6,469.1 L1241.2,470.0 L1242.7,471.0 L1244.3,471.9 L1245.9,472.8 L1247.5,473.8 L1249.1,474.7 L1250.7,475.6 L1252.2,476.5 L1253.8,477.4 L1255.4,478.3 L1257.0,479.2 L1258.6,480.1 L1260.3,481.0 L1261.9,481.9 L1263.5,482.7 L1265.1,483.6 L1266.7,484.5 L1268.3,485.3 L1269.9,486.2 L1271.6,487.0 L1273.2,487.9 L1274.8,488.7 L1276.4,489.6 L1278.1,490.4 L1279.7,491.2 L1281.3,492.0 L1283.0,492.9 L1284.6,493.7 L1286.3,494.5 L1287.9,495.3 L1289.6,496.1 L1291.2,496.9 L1292.9,497.7 L1294.5,498.5 L1296.2,499.2 L1297.8,500.0 L1299.5,500.8 L1301.2,501.5 L1302.8,502.3 L1304.5,503.1 L1306.2,503.8 L1307.8,504.5 L1309.5,505.3 L1311.2,506.0 L1312.9,506.7 L1314.5,507.5 L1316.2,508.2 L1317.9,508.9 L1319.6,509.6 L1321.3,510.3 L1323.0,511.0 L1324.6,511.7 L1326.3,512.4 L1328.0,513.1 L1329.7,513.7 L1331.4,514.4 L1333.1,515.1 L1334.8,515.7 L1336.5,516.4 L1338.2,517.1 L1340.0,517.7 L1341.7,518.3 L1343.4,519.0 L1345.1,519.6 L1346.8,520.2 L1348.5,520.9 L1350.2,521.5 L1352.0,522.1 L1353.7,522.7 L1355.4,523.3 L1357.1,523.9 L1358.9,524.5 L1360.6,525.1 L1362.3,525.7 L1364.1,526.2 L1365.8,526.8 L1367.5,527.4 L1369.3,528.0 L1371.0,528.5 L1372.7,529.1 L1374.5,529.6 L1376.2,530.2 L1378.0,530.7 L1379.7,531.2 L1381.5,531.8 L1383.2,532.3 L1385.0,532.8 L1386.7,533.4 L1388.5,533.9 L1390.2,534.4 L1392.0,534.9 L1393.7,535.4 L1395.5,535.9 L1397.2,536.4 L1399.0,536.9 L1400.8,537.4 L1402.5,537.8 L1404.3,538.3 L1406.1,538.8 L1407.8,539.3 L1409.6,539.7 L1411.4,540.2 L1413.1,540.6 L1414.9,541.1 L1416.7,541.5 L1418.5,542.0 L1420.2,542.4 L1422.0,542.9 L1423.8,543.3 L1425.6,543.7 L1427.3,544.1 L1429.1,544.6 L1430.9,545.0 L1432.7,545.4 L1434.5,545.8 L1436.3,546.2 L1438.1,546.6 L1439.8,547.0 L1441.6,547.4 L1443.4,547.8 L1445.2,548.2 L1447.0,548.6 L1448.8,548.9 L1450.6,549.3 L1452.4,549.7 L1454.2,550.1 L1456.0,550.4 L1457.8,550.8 L1459.6,551.1 L1461.4,551.5 L1463.2,551.9 L1465.0,552.2 L1466.8,552.5 L1468.6,552.9 L1470.4,553.2 L1472.2,553.6 L1474.0,553.9 L1475.8,554.2 L1477.6,554.5 L1479.4,554.9 L1481.2,555.2 L1483.0,555.5 L1484.8,555.8 L1486.6,556.1 L1488.4,556.4 L1490.3,556.7 L1492.1,557.0 L1493.9,557.3 L1495.7,557.6 L1497.5,557.9 L1499.3,558.2 L1501.1,558.5 L1502.9,558.8 L1504.8,559.0 L1506.6,559.3 L1508.4,559.6 L1510.2,559.8 L1512.0,560.1 L1513.8,560.4 L1515.7,560.6 L1517.5,560.9 L1519.3,561.2 L1521.1,561.4 L1522.9,561.7 L1524.7,561.9 L1526.6,562.1 L1528.4,562.4 L1530.2,562.6 L1532.0,562.9 L1533.9,563.1 L1535.7,563.3 L1537.5,563.6 L1539.3,563.8 L1541.1,564.0 L1543.0,564.2 L1544.8,564.5 L1546.6,564.7 L1548.4,564.9 L1550.3,565.1 L1552.1,565.3 L1553.9,565.5 L1555.7,565.7 L1557.5,565.9 L1559.4,566.1 L1561.2,566.3 L1563.0,566.5 L1564.8,566.7 L1566.7,566.9 L1568.5,567.1 L1570.3,567.3 L1572.1,567.5 L1574.0,567.6 L1575.8,567.8 L1577.6,568.0 L1579.4,568.2 L1581.3,568.3 L1583.1,568.5 L1584.9,568.7 L1586.7,568.9 L1588.6,569.0 L1590.4,569.2 L1592.2,569.4 L1594.0,569.5 L1595.9,569.7 L1597.7,569.8 L1599.5,570.0 L1601.3,570.1 L1603.2,570.3 L1605.0,570.4 L1606.8,570.6 L1608.6,570.7 L1610.5,570.9 L1612.3,571.0 L1614.1,571.1 L1615.9,571.3 L1617.8,571.4 L1619.6,571.5 L1621.4,571.7 L1623.2,571.8 L1625.1,571.9 L1626.9,572.1 L1628.7,572.2 L1630.5,572.3 L1632.4,572.4 L1634.2,572.5 L1636.0,572.7 L1637.8,572.8 L1639.7,572.9 L1641.5,573.0 L1643.3,573.1 L1645.2,573.2 L1647.0,573.3 L1648.8,573.4 L1650.6,573.6 L1652.5,573.7 L1654.3,573.8 L1656.1,573.9 L1657.9,574.1 L1659.8,574.2 L1661.6,574.3 L1663.4,574.4 L1665.2,574.5 L1667.1,574.7 L1668.9,574.8 L1670.7,574.9 L1672.6,575.0 L1674.4,575.1 L1676.2,575.2 L1678.0,575.3 L1679.9,575.4 L1681.7,575.5 L1683.5,575.6 L1685.3,575.7 L1687.2,575.8 L1689.0,575.9 L1690.8,575.9 L1692.7,576.0 L1694.5,576.1 L1696.3,576.2 L1698.1,576.3 L1700.0,576.4 L1701.8,576.4 L1703.6,576.5 L1705.5,576.6 L1707.3,576.7 L1709.1,576.7 L1710.9,576.8 L1712.8,576.9 L1714.6,577.0 L1716.4,577.0 L1718.3,577.1 L1720.1,577.1 L1721.9,577.2 L1723.7,577.3 L1725.6,577.3 L1727.4,577.4 L1729.2,577.4 L1731.1,577.5 L1732.9,577.6 L1734.7,577.6 L1736.5,577.7 L1738.4,577.7 L1740.2,577.8 L1742.0,577.8 L1743.9,577.8 L1745.7,577.9 L1747.5,577.9 L1749.3,578.0 L1751.2,578.0 L1753.0,578.1 L1754.8,578.1 L1756.7,578.1 L1758.5,578.2 L1760.3,578.2 L1762.2,578.2 L1764.0,578.3 L1765.8,578.3 L1767.6,578.3 L1769.5,578.4 L1771.3,578.4 L1773.1,578.4 L1775.0,578.4 L1776.8,578.5 L1778.6,578.5 L1780.5,578.5 L1782.3,578.5 L1784.1,578.5 L1785.9,578.5 L1787.8,578.5 L1789.6,578.5 L1791.4,578.5 L1793.3,578.5 L1795.1,578.5 L1796.9,578.5 L1798.8,578.5 L1800.6,578.5 L1802.4,578.5 L1804.2,578.5 L1806.1,578.5 L1807.9,578.5 L1809.7,578.5 L1811.6,578.5 L1813.4,578.5 L1815.2,578.5 L1817.1,578.5 L1818.9,578.5 L1820.7,578.5 L1822.6,578.5 L1824.4,578.5 L1826.2,578.5 L1828.0,578.5 L1829.9,578.5 L1831.7,578.5 L1833.5,578.5 L1835.4,578.5 L1837.2,578.5 L1839.0,578.5 L1840.9,578.5 L1842.7,578.5 L1844.5,578.5 L1846.4,578.5 L1848.2,578.5 L1850.0,578.5 L1851.9,578.5 L1853.7,578.5 L1855.5,578.5 L1857.4,578.5 L1859.2,578.5 L1861.0,578.5 L1862.9,578.5 L1864.7,578.5 L1866.5,578.5 L1868.3,578.5 L1870.2,578.5 L1872.0,578.5 L1873.8,578.5 L1875.7,578.5 L1877.5,578.5 L1879.3,578.5 L1881.2,578.5 L1883.0,578.5 L1884.8,578.5 L1886.7,578.5 L1888.5,578.5 L1890.3,578.5 L1892.2,578.5 L1894.0,578.5 L1895.8,578.5 L1897.7,578.5 L1899.5,578.5 L1901.3,578.5 L1903.2,578.5 L1905.0,578.5 L1906.8,578.5 L1908.7,578.5 L1910.5,578.5 L1912.3,578.5 L1914.2,578.5 L1916.0,578.5 L1917.8,578.5 L1919.7,578.5 L1921.5,578.5 L1923.3,578.5 L1925.2,578.5 L1927.0,578.5 L1928.8,578.5 L1930.7,578.5 L1932.5,578.5 L1934.3,578.5 L1936.2,578.5 L1938.0,578.5 L1939.8,578.5 L1941.7,578.5 L1943.5,578.5 L1945.3,578.5 L1947.2,578.5 L1949.0,578.5 L1950.8,578.5 L1952.7,578.4 L1954.5,578.4 L1956.3,578.4 L1958.2,578.4 L1960.0,578.5"/>
<path stroke="#008000" d="M356.0,578.5 L720.9,578.4 L722.6,577.9 L724.3,577.4 L726.1,576.8 L727.8,576.3 L729.6,575.7 L731.4,575.1 L733.1,574.4 L734.9,573.7 L736.6,573.1 L738.3,572.4 L740.0,571.7 L741.6,571.0 L743.2,570.2 L744.8,569.3 L746.2,568.3 L747.7,567.3 L749.1,566.2 L750.4,565.1 L751.7,563.9 L753.0,562.7 L754.2,561.5 L755.4,560.2 L756.6,558.8 L757.7,557.5 L758.8,556.1 L759.9,554.6 L760.9,553.2 L762.0,551.7 L763.0,550.2 L764.0,548.7 L765.0,547.2 L765.9,545.7 L766.9,544.2 L767.9,542.6 L768.8,541.1 L769.7,539.6 L770.6,538.0 L771.5,536.5 L772.4,534.9 L773.3,533.3 L774.1,531.8 L775.0,530.2 L775.8,528.6 L776.7,527.0 L777.5,525.4 L778.3,523.8 L779.1,522.2 L779.9,520.6 L780.7,519.0 L781.5,517.4 L782.2,515.8 L783.0,514.2 L783.7,512.5 L784.5,510.9 L785.2,509.3 L786.0,507.6 L786.7,506.0 L787.4,504.4 L788.1,502.7 L788.8,501.1 L789.5,499.4 L790.2,497.8 L790.9,496.1 L791.6,494.5 L792.2,492.8 L792.9,491.1 L793.6,489.5 L794.2,487.8 L794.9,486.2 L795.5,484.5 L796.2,482.8 L796.8,481.2 L797.5,479.5 L798.1,477.8 L798.7,476.1 L799.3,474.5 L800.0,472.8 L800.6,471.1 L801.2,469.4 L801.8,467.8 L802.4,466.1 L803.0,464.4 L803.6,462.7 L804.2,461.0 L804.8,459.4 L805.4,457.7 L806.0,456.0 L806.6,454.3 L807.1,452.6 L807.7,450.9 L808.3,449.2 L808.9,447.5 L809.4,445.8 L810.0,444.2 L810.6,442.5 L811.1,440.8 L811.7,439.1 L812.2,437.4 L812.8,435.7 L813.3,434.0 L813.9,432.3 L814.4,430.6 L815.0,428.9 L815.5,427.2 L816.1,425.5 L816.6,423.8 L817.1,422.1 L817.7,420.4 L818.2,418.7 L818.8,417.0 L819.3,415.3 L819.8,413.6 L820.3,411.9 L820.9,410.1 L821.4,408.4 L821.9,406.7 L822.5,405.0 L823.0,403.3 L823.5,401.6 L824.0,399.9 L824.6,398.2 L825.1,396.5 L825.6,394.8 L826.1,393.1 L826.7,391.4 L827.2,389.7 L827.7,388.0 L828.2,386.3 L828.8,384.5 L829.3,382.8 L829.8,381.1 L830.3,379.4 L830.9,377.7 L831.4,376.0 L831.9,374.3 L832.5,372.6 L833.0,370.9 L833.5,369.2 L834.1,367.5 L834.6,365.8 L835.1,364.1 L835.7,362.4 L836.2,360.7 L836.7,359.0 L837.3,357.3 L837.8,355.6 L838.4,353.9 L838.9,352.2 L839.4,350.5 L840.0,348.8 L840.5,347.1 L841.1,345.4 L841.6,343.7 L842.2,342.0 L842.8,340.3 L843.3,338.6 L843.9,336.9 L844.5,335.2 L845.0,333.5 L845.6,331.8 L846.2,330.1 L846.8,328.4 L847.3,326.8 L847.9,325.1 L848.5,323.4 L849.1,321.7 L849.7,320.0 L850.3,318.3 L850.9,316.6 L851.5,315.0 L852.1,313.3 L852.7,311.6 L853.3,309.9 L853.9,308.3 L854.6,306.6 L855.2,304.9 L855.8,303.2 L856.5,301.6 L857.1,299.9 L857.7,298.2 L858.4,296.6 L859.0,294.9 L859.7,293.2 L860.4,291.6 L861.0,289.9 L861.7,288.2 L862.4,286.6 L863.1,284.9 L863.7,283.3 L864.4,281.6 L865.1,280.0 L865.8,278.3 L866.6,276.7 L867.3,275.1 L868.0,273.4 L868.7,271.8 L869.5,270.2 L870.2,268.5 L871.0,266.9 L871.7,265.3 L872.5,263.7 L873.3,262.1 L874.1,260.5 L874.9,258.9 L875.7,257.3 L876.5,255.7 L877.4,254.1 L878.2,252.5 L879.0,250.9 L879.9,249.4 L880.8,247.8 L881.7,246.3 L882.6,244.7 L883.5,243.2 L884.4,241.6 L885.3,240.1 L886.3,238.6 L887.2,237.1 L888.2,235.6 L889.2,234.1 L890.2,232.6 L891.2,231.1 L892.2,229.6 L893.2,228.1 L894.3,226.7 L895.3,225.2 L896.4,223.8 L897.5,222.3 L898.6,220.9 L899.7,219.5 L900.9,218.1 L902.0,216.7 L903.2,215.3 L904.4,213.9 L905.6,212.5 L906.8,211.2 L908.1,209.8 L909.3,208.5 L910.6,207.2 L911.9,205.9 L913.2,204.6 L914.5,203.3 L915.9,202.1 L917.2,200.9 L918.6,199.7 L920.0,198.6 L921.4,197.5 L922.8,196.4 L924.2,195.3 L925.7,194.3 L927.2,193.4 L928.7,192.5 L930.2,191.6 L931.7,190.8 L933.2,190.0 L934.8,189.3 L936.4,188.7 L938.0,188.1 L939.6,187.5 L941.2,187.1 L942.8,186.6 L944.5,186.3 L946.2,186.0 L947.9,185.8 L949.6,185.7 L951.3,185.6 L953.0,185.6 L954.8,185.7 L956.5,185.8 L958.3,186.0 L960.0,186.2 L961.8,186.5 L963.6,186.9 L965.4,187.3 L967.1,187.7 L968.9,188.2 L970.7,188.8 L972.4,189.4 L974.2,190.0 L975.9,190.7 L977.6,191.4 L979.3,192.1 L981.0,192.9 L982.7,193.7 L984.4,194.5 L986.0,195.4 L987.7,196.2 L989.3,197.1 L990.8,198.0 L992.4,199.0 L993.9,199.9 L995.5,200.9 L997.0,201.9 L998.5,202.9 L999.9,204.0 L1001.4,205.0 L1002.8,206.1 L1004.3,207.2 L1005.7,208.2 L1007.1,209.4 L1008.4,210.5 L1009.8,211.6 L1011.2,212.7 L1012.5,213.9 L1013.9,215.1 L1015.2,216.2 L1016.5,217.4 L1017.9,218.6 L1019.2,219.8 L1020.5,221.0 L1021.8,222.2 L1023.1,223.4 L1024.3,224.7 L1025.6,225.9 L1026.9,227.1 L1028.2,228.3 L1029.5,229.6 L1030.7,230.8 L1032.0,232.0 L1033.3,233.3 L1034.6,234.5 L1035.8,235.8 L1037.1,237.0 L1038.4,238.3 L1039.6,239.5 L1040.9,240.8 L1042.1,242.0 L1043.4,243.3 L1044.7,244.5 L1045.9,245.8 L1047.2,247.1 L1048.4,248.3 L1049.7,249.6 L1050.9,250.8 L1052.2,252.1 L1053.4,253.4 L1054.7,254.7 L1055.9,255.9 L1057.1,257.2 L1058.4,258.5 L1059.6,259.8 L1060.9,261.0 L1062.1,262.3 L1063.3,263.6 L1064.6,264.9 L1065.8,266.2 L1067.0,267.4 L1068.3,268.7 L1069.5,270.0 L1070.7,271.3 L1072.0,272.6 L1073.2,273.9 L1074.4,275.2 L1075.7,276.4 L1076.9,277.7 L1078.1,279.0 L1079.4,280.3 L1080.6,281.6 L1081.8,282.9 L1083.0,284.2 L1084.3,285.5 L1085.5,286.8 L1086.7,288.1 L1088.0,289.4 L1089.2,290.7 L1090.4,292.0 L1091.6,293.2 L1092.9,294.5 L1094.1,295.8 L1095.3,297.1 L1096.5,298.4 L1097.8,299.7 L1099.0,301.0 L1100.2,302.3 L1101.4,303.6 L1102.7,304.9 L1103.9,306.2 L1105.1,307.5 L1106.4,308.8 L1107.6,310.1 L1108.8,311.4 L1110.0,312.7 L1111.3,314.0 L1112.5,315.3 L1113.7,316.5 L1115.0,317.8 L1116.2,319.1 L1117.4,320.4 L1118.7,321.7 L1119.9,323.0 L1121.2,324.3 L1122.4,325.6 L1123.6,326.8 L1124.9,328.1 L1126.1,329.4 L1127.4,330.7 L1128.6,332.0 L1129.8,333.3 L1131.1,334.5 L1132.3,335.8 L1133.6,337.1 L1134.8,338.4 L1136.1,339.6 L1137.3,340.9 L1138.6,342.2 L1139.9,343.4 L1141.1,344.7 L1142.4,346.0 L1143.6,347.2 L1144.9,348.5 L1146.2,349.8 L1147.4,351.0 L1148.7,352.3 L1150.0,353.5 L1151.2,354.8 L1152.5,356.0 L1153.8,357.3 L1155.1,358.5 L1156.3,359.8 L1157.6,361.0 L1158.9,362.3 L1160.2,363.5 L1161.5,364.7 L1162.8,366.0 L1164.1,367.2 L1165.4,368.4 L1166.7,369.7 L1168.0,370.9 L1169.3,372.1 L1170.6,373.3 L1171.9,374.5 L1173.2,375.7 L1174.5,377.0 L1175.8,378.2 L1177.1,379.4 L1178.4,380.6 L1179.8,381.8 L1181.1,383.0 L1182.4,384.2 L1183.8,385.4 L1185.1,386.5 L1186.4,387.7 L1187.8,388.9 L1189.1,390.1 L1190.5,391.3 L1191.8,392.4 L1193.2,393.6 L1194.5,394.8 L1195.9,395.9 L1197.2,397.1 L1198.6,398.3 L1200.0,399.4 L1201.3,400.6 L1202.7,401.7 L1204.1,402.8 L1205.5,404.0 L1206.9,405.1 L1208.2,406.3 L1209.6,407.4 L1211.0,408.5 L1212.4,409.6 L1213.8,410.7 L1215.2,411.9 L1216.6,413.0 L1218.1,414.1 L1219.5,415.2 L1220.9,416.3 L1222.3,417.4 L1223.7,418.5 L1225.2,419.6 L1226.6,420.6 L1228.0,421.7 L1229.4,422.8 L1230.9,423.9 L1232.3,424.9 L1233.8,426.0 L1235.2,427.1 L1236.7,428.1 L1238.1,429.2 L1239.6,430.2 L1241.0,431.3 L1242.5,432.3 L1244.0,433.4 L1245.4,434.4 L1246.9,435.4 L1248.4,436.5 L1249.8,437.5 L1251.3,438.5 L1252.8,439.5 L1254.3,440.6 L1255.8,441.6 L1257.2,442.6 L1258.7,443.6 L1260.2,444.6 L1261.7,445.6 L1263.2,446.6 L1264.7,447.5 L1266.2,448.5 L1267.7,449.5 L1269.2,450.5 L1270.7,451.5 L1272.3,452.4 L1273.8,453.4 L1275.3,454.4 L1276.8,455.3 L1278.3,456.3 L1279.9,457.2 L1281.4,458.2 L1282.9,459.1 L1284.5,460.0 L1286.0,461.0 L1287.5,461.9 L1289.1,462.8 L1290.6,463.7 L1292.2,464.7 L1293.7,465.6 L1295.3,466.5 L1296.8,467.4 L1298.4,468.3 L1299.9,469.2 L1301.5,470.1 L1303.0,471.0 L1304.6,471.8 L1306.2,472.7 L1307.7,473.6 L1309.3,474.5 L1310.9,475.3 L1312.4,476.2 L1314.0,477.1 L1315.6,477.9 L1317.2,478.8 L1318.8,479.6 L1320.3,480.5 L1321.9,481.3 L1323.5,482.1 L1325.1,483.0 L1326.7,483.8 L1328.3,484.6 L1329.9,485.4 L1331.5,486.2 L1333.1,487.1 L1334.7,487.9 L1336.3,488.7 L1337.9,489.5 L1339.5,490.2 L1341.1,491.0 L1342.7,491.8 L1344.3,492.6 L1345.9,493.4 L1347.6,494.1 L1349.2,494.9 L1350.8,495.7 L1352.4,496.4 L1354.0,497.2 L1355.7,497.9 L1357.3,498.7 L1358.9,499.4 L1360.5,500.1 L1362.2,500.9 L1363.8,501.6 L1365.4,502.3 L1367.1,503.0 L1368.7,503.8 L1370.4,504.5 L1372.0,505.2 L1373.6,505.9 L1375.3,506.6 L1376.9,507.3 L1378.6,507.9 L1380.2,508.6 L1381.9,509.3 L1383.5,510.0 L1385.2,510.6 L1386.8,511.3 L1388.5,512.0 L1390.1,512.6 L1391.8,513.3 L1393.4,513.9 L1395.1,514.6 L1396.8,515.2 L1398.4,515.8 L1400.1,516.5 L1401.8,517.1 L1403.4,517.7 L1405.1,518.3 L1406.8,518.9 L1408.4,519.5 L1410.1,520.1 L1411.8,520.7 L1413.5,521.3 L1415.1,521.9 L1416.8,522.5 L1418.5,523.1 L1420.2,523.6 L1421.9,524.2 L1423.5,524.8 L1425.2,525.3 L1426.9,525.9 L1428.6,526.5 L1430.3,527.0 L1432.0,527.6 L1433.7,528.1 L1435.4,528.6 L1437.0,529.2 L1438.7,529.7 L1440.4,530.2 L1442.1,530.8 L1443.8,531.3 L1445.5,531.8 L1447.2,532.3 L1448.9,532.8 L1450.6,533.3 L1452.3,533.8 L1454.0,534.3 L1455.7,534.8 L1457.4,535.3 L1459.2,535.8 L1460.9,536.2 L1462.6,536.7 L1464.3,537.2 L1466.0,537.6 L1467.7,538.1 L1469.4,538.6 L1471.1,539.0 L1472.9,539.5 L1474.6,539.9 L1476.3,540.4 L1478.0,540.8 L1479.7,541.2 L1481.4,541.7 L1483.2,542.1 L1484.9,542.5 L1486.6,543.0 L1488.3,543.4 L1490.1,543.8 L1491.8,544.2 L1493.5,544.6 L1495.3,545.0 L1497.0,545.4 L1498.7,545.8 L1500.4,546.2 L1502.2,546.6 L1503.9,547.0 L1505.6,547.4 L1507.4,547.7 L1509.1,548.1 L1510.9,548.5 L1512.6,548.9 L1514.3,549.2 L1516.1,549.6 L1517.8,550.0 L1519.6,550.3 L1521.3,550.7 L1523.0,551.0 L1524.8,551.4 L1526.5,551.7 L1528.3,552.0 L1530.0,552.4 L1531.8,552.7 L1533.5,553.0 L1535.3,553.4 L1537.0,553.7 L1538.8,554.0 L1540.5,554.3 L1542.3,554.7 L1544.0,555.0 L1545.8,555.3 L1547.5,555.6 L1549.3,555.9 L1551.1,556.2 L1552.8,556.5 L1554.6,556.8 L1556.3,557.1 L1558.1,557.3 L1559.9,557.6 L1561.6,557.9 L1563.4,558.2 L1565.1,558.5 L1566.9,558.7 L1568.7,559.0 L1570.4,559.3 L1572.2,559.5 L1574.0,559.8 L1575.7,560.1 L1577.5,560.3 L1579.3,560.6 L1581.0,560.8 L1582.8,561.1 L1584.6,561.3 L1586.3,561.6 L1588.1,561.8 L1589.9,562.0 L1591.7,562.3 L1593.4,562.5 L1595.2,562.7 L1597.0,563.0 L1598.8,563.2 L1600.5,563.4 L1602.3,563.6 L1604.1,563.8 L1605.9,564.0 L1607.6,564.3 L1609.4,564.5 L1611.2,564.7 L1613.0,564.9 L1614.8,565.1 L1616.5,565.3 L1618.3,565.5 L1620.1,565.7 L1621.9,565.9 L1623.7,566.0 L1625.4,566.2 L1627.2,566.4 L1629.0,566.6 L1630.8,566.8 L1632.6,567.0 L1634.4,567.1 L1636.2,567.3 L1637.9,567.5 L1639.7,567.6 L1641.5,567.8 L1643.3,568.0 L1645.1,568.1 L1646.9,568.3 L1648.7,568.4 L1650.5,568.6 L1652.2,568.8 L1654.0,568.9 L1655.8,569.1 L1657.6,569.2 L1659.4,569.3 L1661.2,569.5 L1663.0,569.6 L1664.8,569.8 L1666.6,569.9 L1668.4,570.0 L1670.2,570.2 L1671.9,570.3 L1673.7,570.4 L1675.5,570.6 L1677.3,570.7 L1679.1,570.8 L1680.9,570.9 L1682.7,571.0 L1684.5,571.2 L1686.3,571.3 L1688.1,571.4 L1689.9,571.5 L1691.7,571.6 L1693.5,571.7 L1695.3,571.8 L1697.1,571.9 L1698.9,572.0 L1700.7,572.1 L1702.5,572.2 L1704.3,572.3 L1706.1,572.4 L1707.9,572.5 L1709.7,572.6 L1711.5,572.7 L1713.3,572.8 L1715.1,572.9 L1716.9,573.0 L1718.7,573.1 L1720.5,573.2 L1722.3,573.2 L1724.0,573.3 L1725.8,573.4 L1727.6,573.5 L1729.4,573.6 L1731.2,573.7 L1733.0,573.8 L1734.8,573.9 L1736.6,574.0 L1738.4,574.0 L1740.2,574.1 L1742.0,574.2 L1743.8,574.3 L1745.6,574.4 L1747.4,574.5 L1749.2,574.5 L1751.0,574.6 L1752.8,574.7 L1754.6,574.8 L1756.4,574.8 L1758.2,574.9 L1760.0,575.0 L1761.8,575.1 L1763.6,575.1 L1765.4,575.2 L1767.2,575.2 L1769.0,575.3 L1770.8,575.4 L1772.6,575.4 L1774.4,575.5 L1776.2,575.5 L1778.0,575.6 L1779.8,575.7 L1781.6,575.7 L1783.4,575.8 L1785.2,575.8 L1787.0,575.9 L1788.8,575.9 L1790.6,576.0 L1792.4,576.0 L1794.2,576.0 L1796.0,576.1 L1797.8,576.1 L1799.6,576.2 L1801.4,576.2 L1803.2,576.3 L1805.0,576.3 L1806.8,576.3 L1808.6,576.4 L1810.4,576.4 L1812.2,576.4 L1814.0,576.5 L1815.8,576.5 L1817.6,576.5 L1819.4,576.6 L1821.2,576.6 L1823.0,576.6 L1824.8,576.7 L1826.6,576.7 L1828.4,576.7 L1830.2,576.8 L1832.0,576.8 L1833.8,576.8 L1835.6,576.8 L1837.3,576.9 L1839.1,576.9 L1840.9,576.9 L1842.7,576.9 L1844.5,577.0 L1846.3,577.0 L1848.1,577.0 L1849.9,577.0 L1851.7,577.0 L1853.5,577.1 L1855.3,577.1 L1857.1,577.1 L1858.8,577.1 L1860.6,577.1 L1862.4,577.2 L1864.2,577.2 L1866.0,577.2 L1867.8,577.2 L1869.6,577.2 L1871.4,577.3 L1873.1,577.3 L1874.9,577.3 L1876.7,577.3 L1878.5,577.3 L1880.3,577.3 L1882.1,577.4 L1883.9,577.4 L1885.6,577.4 L1887.4,577.4 L1889.2,577.4 L1891.0,577.4 L1892.8,577.5 L1894.5,577.5 L1896.3,577.5 L1898.1,577.5 L1899.9,577.5 L1901.7,577.5 L1903.4,577.6 L1905.2,577.6 L1907.0,577.6 L1908.8,577.6 L1910.5,577.6 L1912.3,577.7 L1914.1,577.7 L1915.9,577.7 L1917.6,577.7 L1919.4,577.7 L1921.2,577.8 L1923.0,577.8 L1924.7,577.8 L1926.5,577.8 L1928.3,577.8 L1930.0,577.9 L1931.8,577.9 L1933.6,577.9 L1935.3,577.9 L1937.1,578.0 L1938.9,578.0 L1940.6,578.0 L1942.4,578.0 L1944.2,578.1 L1945.9,578.1 L1947.7,578.1 L1949.4,578.1 L1951.2,578.2 L1953.0,578.2 L1954.7,578.2 L1956.5,578.3 L1958.2,578.3 L1960.0,578.3"/>
<path stroke="#000080" d="M356.0,578.5 L713.3,578.4 L715.2,578.3 L717.2,578.0 L719.0,577.6 L720.9,577.0 L722.6,576.4 L724.4,575.6 L726.0,574.7 L727.6,573.6 L729.2,572.7 L730.7,571.7 L732.1,570.7 L733.5,569.6 L734.8,568.4 L736.1,567.2 L737.3,565.9 L738.5,564.6 L739.6,563.2 L740.7,561.7 L741.7,560.3 L742.7,558.7 L743.7,557.2 L744.6,555.6 L745.5,554.0 L746.4,552.4 L747.2,550.7 L748.0,549.0 L748.8,547.4 L749.6,545.7 L750.3,544.0 L751.1,542.3 L751.8,540.6 L752.5,538.9 L753.2,537.2 L753.8,535.5 L754.5,533.8 L755.2,532.0 L755.8,530.3 L756.4,528.6 L757.0,526.8 L757.6,525.1 L758.2,523.4 L758.8,521.6 L759.3,519.9 L759.9,518.1 L760.4,516.4 L761.0,514.6 L761.5,512.8 L762.0,511.1 L762.5,509.3 L763.0,507.6 L763.5,505.8 L764.0,504.0 L764.5,502.3 L765.0,500.5 L765.5,498.7 L766.0,497.0 L766.5,495.2 L767.0,493.4 L767.5,491.7 L768.0,489.9 L768.4,488.1 L768.9,486.4 L769.4,484.6 L769.9,482.8 L770.4,481.1 L770.9,479.3 L771.3,477.6 L771.8,475.8 L772.3,474.1 L772.8,472.3 L773.3,470.5 L773.8,468.8 L774.3,467.0 L774.7,465.3 L775.2,463.5 L775.7,461.8 L776.2,460.0 L776.7,458.3 L777.2,456.5 L777.7,454.8 L778.2,453.0 L778.6,451.3 L779.1,449.5 L779.6,447.8 L780.1,446.1 L780.6,444.3 L781.1,442.6 L781.6,440.8 L782.1,439.1 L782.6,437.3 L783.1,435.6 L783.6,433.8 L784.1,432.1 L784.6,430.4 L785.0,428.6 L785.5,426.9 L786.0,425.1 L786.5,423.4 L787.0,421.7 L787.5,419.9 L788.0,418.2 L788.5,416.4 L789.0,414.7 L789.5,413.0 L790.0,411.2 L790.5,409.5 L791.0,407.7 L791.5,406.0 L792.0,404.3 L792.5,402.5 L793.0,400.8 L793.5,399.1 L794.1,397.3 L794.6,395.6 L795.1,393.8 L795.6,392.1 L796.1,390.4 L796.6,388.6 L797.1,386.9 L797.6,385.2 L798.1,383.4 L798.6,381.7 L799.2,379.9 L799.7,378.2 L800.2,376.5 L800.7,374.7 L801.2,373.0 L801.7,371.2 L802.3,369.5 L802.8,367.8 L803.3,366.0 L803.8,364.3 L804.3,362.5 L804.9,360.8 L805.4,359.1 L805.9,357.3 L806.4,355.6 L807.0,353.8 L807.5,352.1 L808.0,350.3 L808.6,348.6 L809.1,346.9 L809.6,345.1 L810.2,343.4 L810.7,341.6 L811.2,339.9 L811.8,338.1 L812.3,336.4 L812.8,334.6 L813.4,332.9 L813.9,331.1 L814.5,329.4 L815.0,327.6 L815.6,325.9 L816.1,324.1 L816.6,322.4 L817.2,320.6 L817.7,318.9 L818.3,317.1 L818.8,315.4 L819.4,313.6 L820.0,311.8 L820.5,310.1 L821.1,308.3 L821.6,306.6 L822.2,304.8 L822.8,303.0 L823.3,301.3 L823.9,299.5 L824.4,297.8 L825.0,296.0 L825.6,294.2 L826.2,292.5 L826.7,290.7 L827.3,288.9 L827.9,287.1 L828.4,285.4 L829.0,283.6 L829.6,281.8 L830.2,280.1 L830.8,278.3 L831.4,276.5 L832.0,274.8 L832.6,273.0 L833.2,271.2 L833.8,269.5 L834.4,267.7 L835.0,265.9 L835.6,264.2 L836.3,262.4 L836.9,260.7 L837.6,259.0 L838.2,257.2 L838.9,255.5 L839.6,253.8 L840.3,252.1 L841.0,250.3 L841.7,248.6 L842.4,247.0 L843.1,245.3 L843.9,243.6 L844.6,241.9 L845.4,240.3 L846.2,238.6 L847.0,237.0 L847.8,235.3 L848.6,233.7 L849.5,232.1 L850.3,230.5 L851.2,228.9 L852.1,227.4 L853.0,225.8 L853.9,224.3 L854.9,222.7 L855.8,221.2 L856.8,219.7 L857.8,218.2 L858.8,216.8 L859.9,215.3 L860.9,213.9 L862.0,212.4 L863.1,211.0 L864.2,209.6 L865.4,208.3 L866.6,206.9 L867.8,205.6 L869.0,204.2 L870.2,202.9 L871.5,201.7 L872.8,200.4 L874.1,199.2 L875.4,197.9 L876.8,196.7 L878.2,195.6 L879.6,194.4 L881.0,193.3 L882.5,192.2 L884.0,191.1 L885.5,190.1 L887.1,189.1 L888.6,188.1 L890.2,187.3 L891.8,186.4 L893.4,185.6 L895.1,184.9 L896.7,184.2 L898.4,183.6 L900.1,183.1 L901.8,182.7 L903.5,182.3 L905.2,182.0 L906.9,181.8 L908.7,181.7 L910.4,181.7 L912.1,181.8 L913.9,181.9 L915.6,182.1 L917.4,182.4 L919.1,182.8 L920.8,183.2 L922.5,183.8 L924.3,184.4 L926.0,185.0 L927.7,185.7 L929.3,186.5 L931.0,187.3 L932.7,188.1 L934.3,189.0 L936.0,190.0 L937.6,191.0 L939.2,192.0 L940.8,193.0 L942.4,194.1 L944.0,195.2 L945.6,196.3 L947.1,197.4 L948.6,198.5 L950.2,199.7 L951.7,200.8 L953.1,202.0 L954.6,203.1 L956.1,204.3 L957.5,205.4 L959.0,206.6 L960.4,207.8 L961.8,209.0 L963.2,210.2 L964.7,211.3 L966.1,212.5 L967.5,213.7 L968.9,214.9 L970.3,216.1 L971.6,217.3 L973.0,218.5 L974.4,219.7 L975.7,220.9 L977.1,222.2 L978.5,223.4 L979.8,224.6 L981.1,225.8 L982.5,227.1 L983.8,228.3 L985.1,229.5 L986.4,230.8 L987.8,232.0 L989.1,233.2 L990.4,234.5 L991.7,235.8 L993.0,237.0 L994.3,238.3 L995.6,239.5 L996.8,240.8 L998.1,242.1 L999.4,243.4 L1000.7,244.6 L1001.9,245.9 L1003.2,247.2 L1004.5,248.5 L1005.7,249.8 L1007.0,251.1 L1008.2,252.4 L1009.5,253.8 L1010.7,255.1 L1011.9,256.4 L1013.2,257.7 L1014.4,259.1 L1015.6,260.4 L1016.9,261.7 L1018.1,263.1 L1019.3,264.4 L1020.5,265.7 L1021.8,267.1 L1023.0,268.4 L1024.2,269.8 L1025.4,271.2 L1026.6,272.5 L1027.8,273.9 L1029.0,275.2 L1030.2,276.6 L1031.4,278.0 L1032.6,279.3 L1033.8,280.7 L1035.0,282.1 L1036.2,283.5 L1037.4,284.8 L1038.6,286.2 L1039.8,287.6 L1041.0,289.0 L1042.2,290.3 L1043.4,291.7 L1044.6,293.1 L1045.8,294.5 L1047.0,295.9 L1048.2,297.3 L1049.4,298.6 L1050.6,300.0 L1051.8,301.4 L1053.0,302.8 L1054.2,304.2 L1055.4,305.5 L1056.6,306.9 L1057.8,308.3 L1059.0,309.7 L1060.2,311.1 L1061.4,312.5 L1062.6,313.8 L1063.8,315.2 L1065.0,316.6 L1066.2,318.0 L1067.5,319.3 L1068.7,320.7 L1069.9,322.1 L1071.1,323.4 L1072.3,324.8 L1073.5,326.2 L1074.8,327.5 L1076.0,328.9 L1077.2,330.2 L1078.5,331.6 L1079.7,332.9 L1080.9,334.3 L1082.2,335.6 L1083.4,337.0 L1084.7,338.3 L1085.9,339.7 L1087.2,341.0 L1088.4,342.3 L1089.7,343.6 L1090.9,345.0 L1092.2,346.3 L1093.5,347.6 L1094.8,348.9 L1096.0,350.2 L1097.3,351.5 L1098.6,352.8 L1099.9,354.1 L1101.2,355.4 L1102.5,356.7 L1103.8,358.0 L1105.1,359.3 L1106.4,360.6 L1107.7,361.9 L1109.0,363.1 L1110.3,364.4 L1111.6,365.7 L1112.9,366.9 L1114.2,368.2 L1115.6,369.5 L1116.9,370.7 L1118.2,372.0 L1119.5,373.2 L1120.9,374.5 L1122.2,375.7 L1123.6,377.0 L1124.9,378.2 L1126.2,379.5 L1127.6,380.7 L1128.9,381.9 L1130.3,383.1 L1131.6,384.4 L1133.0,385.6 L1134.4,386.8 L1135.7,388.0 L1137.1,389.2 L1138.5,390.4 L1139.8,391.7 L1141.2,392.9 L1142.6,394.1 L1144.0,395.3 L1145.3,396.5 L1146.7,397.6 L1148.1,398.8 L1149.5,400.0 L1150.9,401.2 L1152.3,402.4 L1153.7,403.6 L1155.1,404.7 L1156.5,405.9 L1157.9,407.1 L1159.3,408.3 L1160.7,409.4 L1162.1,410.6 L1163.5,411.7 L1164.9,412.9 L1166.3,414.1 L1167.7,415.2 L1169.1,416.4 L1170.6,417.5 L1172.0,418.6 L1173.4,419.8 L1174.8,420.9 L1176.3,422.1 L1177.7,423.2 L1179.1,424.3 L1180.5,425.4 L1182.0,426.6 L1183.4,427.7 L1184.9,428.8 L1186.3,429.9 L1187.7,431.0 L1189.2,432.1 L1190.6,433.2 L1192.1,434.3 L1193.5,435.4 L1195.0,436.5 L1196.5,437.6 L1197.9,438.7 L1199.4,439.8 L1200.8,440.9 L1202.3,441.9 L1203.8,443.0 L1205.3,444.1 L1206.7,445.1 L1208.2,446.2 L1209.7,447.3 L1211.2,448.3 L1212.7,449.3 L1214.2,450.4 L1215.7,451.4 L1217.1,452.5 L1218.6,453.5 L1220.2,454.5 L1221.7,455.5 L1223.2,456.6 L1224.7,457.6 L1226.2,458.6 L1227.7,459.6 L1229.2,460.6 L1230.7,461.6 L1232.3,462.5 L1233.8,463.5 L1235.3,464.5 L1236.9,465.5 L1238.4,466.4 L1240.0,467.4 L1241.5,468.4 L1243.1,469.3 L1244.6,470.3 L1246.2,471.2 L1247.7,472.1 L1249.3,473.1 L1250.9,474.0 L1252.4,474.9 L1254.0,475.8 L1255.6,476.7 L1257.2,477.6 L1258.7,478.5 L1260.3,479.4 L1261.9,480.3 L1263.5,481.2 L1265.1,482.1 L1266.7,482.9 L1268.3,483.8 L1270.0,484.7 L1271.6,485.5 L1273.2,486.3 L1274.8,487.2 L1276.4,488.0 L1278.1,488.8 L1279.7,489.7 L1281.3,490.5 L1283.0,491.3 L1284.6,492.1 L1286.3,492.9 L1287.9,493.7 L1289.6,494.5 L1291.2,495.2 L1292.9,496.0 L1294.6,496.8 L1296.2,497.5 L1297.9,498.3 L1299.6,499.1 L1301.2,499.8 L1302.9,500.5 L1304.6,501.3 L1306.3,502.0 L1308.0,502.7 L1309.7,503.5 L1311.4,504.2 L1313.0,504.9 L1314.7,505.6 L1316.4,506.3 L1318.1,507.0 L1319.8,507.7 L1321.5,508.3 L1323.3,509.0 L1325.0,509.7 L1326.7,510.4 L1328.4,511.0 L1330.1,511.7 L1331.8,512.4 L1333.5,513.0 L1335.3,513.7 L1337.0,514.3 L1338.7,514.9 L1340.4,515.6 L1342.1,516.2 L1343.9,516.8 L1345.6,517.4 L1347.3,518.0 L1349.1,518.7 L1350.8,519.3 L1352.5,519.9 L1354.3,520.5 L1356.0,521.1 L1357.7,521.6 L1359.5,522.2 L1361.2,522.8 L1362.9,523.4 L1364.7,524.0 L1366.4,524.5 L1368.2,525.1 L1369.9,525.7 L1371.6,526.2 L1373.4,526.8 L1375.1,527.3 L1376.9,527.9 L1378.6,528.4 L1380.4,528.9 L1382.1,529.5 L1383.9,530.0 L1385.6,530.5 L1387.4,531.0 L1389.1,531.6 L1390.9,532.1 L1392.6,532.6 L1394.4,533.1 L1396.1,533.6 L1397.9,534.1 L1399.6,534.6 L1401.4,535.1 L1403.1,535.5 L1404.9,536.0 L1406.7,536.5 L1408.4,537.0 L1410.2,537.4 L1411.9,537.9 L1413.7,538.4 L1415.5,538.8 L1417.2,539.3 L1419.0,539.7 L1420.8,540.2 L1422.5,540.6 L1424.3,541.1 L1426.1,541.5 L1427.8,542.0 L1429.6,542.4 L1431.4,542.8 L1433.1,543.2 L1434.9,543.7 L1436.7,544.1 L1438.4,544.5 L1440.2,544.9 L1442.0,545.3 L1443.8,545.7 L1445.5,546.1 L1447.3,546.5 L1449.1,546.9 L1450.9,547.3 L1452.6,547.7 L1454.4,548.0 L1456.2,548.4 L1458.0,548.8 L1459.8,549.2 L1461.5,549.5 L1463.3,549.9 L1465.1,550.3 L1466.9,550.6 L1468.7,551.0 L1470.5,551.3 L1472.2,551.7 L1474.0,552.0 L1475.8,552.4 L1477.6,552.7 L1479.4,553.0 L1481.2,553.4 L1483.0,553.7 L1484.7,554.0 L1486.5,554.4 L1488.3,554.7 L1490.1,555.0 L1491.9,555.3 L1493.7,555.6 L1495.5,555.9 L1497.3,556.2 L1499.1,556.5 L1500.9,556.8 L1502.7,557.1 L1504.5,557.4 L1506.3,557.7 L1508.1,558.0 L1509.8,558.3 L1511.6,558.6 L1513.4,558.9 L1515.2,559.1 L1517.0,559.4 L1518.8,559.7 L1520.6,559.9 L1522.4,560.2 L1524.2,560.5 L1526.0,560.7 L1527.8,561.0 L1529.6,561.2 L1531.4,561.5 L1533.3,561.7 L1535.1,562.0 L1536.9,562.2 L1538.7,562.5 L1540.5,562.7 L1542.3,562.9 L1544.1,563.2 L1545.9,563.4 L1547.7,563.6 L1549.5,563.9 L1551.3,564.1 L1553.1,564.3 L1554.9,564.5 L1556.7,564.7 L1558.5,564.9 L1560.4,565.2 L1562.2,565.4 L1564.0,565.6 L1565.8,565.8 L1567.6,566.0 L1569.4,566.2 L1571.2,566.4 L1573.0,566.6 L1574.9,566.7 L1576.7,566.9 L1578.5,567.1 L1580.3,567.3 L1582.1,567.5 L1583.9,567.7 L1585.7,567.8 L1587.6,568.0 L1589.4,568.2 L1591.2,568.3 L1593.0,568.5 L1594.8,568.7 L1596.6,568.8 L1598.5,569.0 L1600.3,569.2 L1602.1,569.3 L1603.9,569.5 L1605.7,569.6 L1607.6,569.8 L1609.4,569.9 L1611.2,570.1 L1613.0,570.2 L1614.8,570.4 L1616.7,570.5 L1618.5,570.6 L1620.3,570.8 L1622.1,570.9 L1624.0,571.0 L1625.8,571.2 L1627.6,571.3 L1629.4,571.4 L1631.2,571.5 L1633.1,571.7 L1634.9,571.8 L1636.7,571.9 L1638.5,572.0 L1640.4,572.1 L1642.2,572.2 L1644.0,572.4 L1645.8,572.5 L1647.7,572.6 L1649.5,572.7 L1651.3,572.8 L1653.1,572.9 L1655.0,573.0 L1656.8,573.1 L1658.6,573.2 L1660.5,573.3 L1662.3,573.4 L1664.1,573.5 L1665.9,573.6 L1667.8,573.7 L1669.6,573.8 L1671.4,573.9 L1673.3,574.0 L1675.1,574.1 L1676.9,574.2 L1678.7,574.3 L1680.6,574.4 L1682.4,574.5 L1684.2,574.6 L1686.1,574.7 L1687.9,574.8 L1689.7,574.9 L1691.6,575.0 L1693.4,575.1 L1695.2,575.2 L1697.0,575.2 L1698.9,575.3 L1700.7,575.4 L1702.5,575.5 L1704.4,575.5 L1706.2,575.6 L1708.0,575.7 L1709.9,575.8 L1711.7,575.8 L1713.5,575.9 L1715.4,576.0 L1717.2,576.0 L1719.0,576.1 L1720.9,576.2 L1722.7,576.2 L1724.5,576.3 L1726.4,576.3 L1728.2,576.4 L1730.0,576.4 L1731.9,576.5 L1733.7,576.5 L1735.5,576.6 L1737.4,576.6 L1739.2,576.7 L1741.0,576.7 L1742.8,576.8 L1744.7,576.8 L1746.5,576.9 L1748.3,576.9 L1750.2,576.9 L1752.0,577.0 L1753.8,577.0 L1755.7,577.0 L1757.5,577.1 L1759.3,577.1 L1761.2,577.2 L1763.0,577.2 L1764.8,577.2 L1766.7,577.2 L1768.5,577.3 L1770.3,577.3 L1772.2,577.3 L1774.0,577.4 L1775.8,577.4 L1777.7,577.4 L1779.5,577.4 L1781.3,577.4 L1783.2,577.5 L1785.0,577.5 L1786.8,577.5 L1788.7,577.5 L1790.5,577.5 L1792.3,577.6 L1794.2,577.6 L1796.0,577.6 L1797.8,577.6 L1799.7,577.6 L1801.5,577.6 L1803.3,577.6 L1805.2,577.7 L1807.0,577.7 L1808.8,577.7 L1810.6,577.7 L1812.5,577.7 L1814.3,577.7 L1816.1,577.7 L1818.0,577.7 L1819.8,577.7 L1821.6,577.7 L1823.5,577.7 L1825.3,577.8 L1827.1,577.8 L1828.9,577.8 L1830.8,577.8 L1832.6,577.8 L1834.4,577.8 L1836.3,577.8 L1838.1,577.8 L1839.9,577.8 L1841.8,577.8 L1843.6,577.8 L1845.4,577.8 L1847.2,577.8 L1849.1,577.8 L1850.9,577.8 L1852.7,577.8 L1854.5,577.8 L1856.4,577.8 L1858.2,577.8 L1860.0,577.8 L1861.8,577.8 L1863.7,577.8 L1865.5,577.8 L1867.3,577.8 L1869.2,577.8 L1871.0,577.8 L1872.8,577.8 L1874.6,577.8 L1876.4,577.8 L1878.3,577.8 L1880.1,577.8 L1881.9,577.8 L1883.7,577.8 L1885.6,577.8 L1887.4,577.8 L1889.2,577.8 L1891.0,577.8 L1892.9,577.9 L1894.7,577.9 L1896.5,577.9 L1898.3,577.9 L1900.1,577.9 L1902.0,577.9 L1903.8,577.9 L1905.6,577.9 L1907.4,577.9 L1909.2,577.9 L1911.1,577.9 L1912.9,577.9 L1914.7,577.9 L1916.5,577.9 L1918.3,577.9 L1920.1,577.9 L1922.0,578.0 L1923.8,578.0 L1925.6,578.0 L1927.4,578.0 L1929.2,578.0 L1931.0,578.0 L1932.8,578.0 L1934.7,578.0 L1936.5,578.1 L1938.3,578.1 L1940.1,578.1 L1941.9,578.1 L1943.7,578.1 L1945.5,578.1 L1947.3,578.2 L1949.1,578.2 L1951.0,578.2 L1952.8,578.2 L1954.6,578.2 L1956.4,578.3 L1958.2,578.3 L1960.0,578.3"/>
</g>
<text class="pl" transform="translate(43.30,98.40) scale(1,1.008)">A</text>
<text class="ti" transform="translate(87.20,350.40) rotate(-90) scale(1,1.02)" text-anchor="middle">Intensity [%]</text>
<text class="xt" transform="translate(1113.80,760.30) scale(1,1.012)" text-anchor="middle">Size [nm]</text>
<rect x="1548.5" y="63.2" width="371.5" height="356.8" fill="#fff" stroke="#000" stroke-width="2" stroke-linejoin="round"/>
<path d="M1568.4,96.0 H1676.8" stroke="#000000" stroke-width="4.0" stroke-linecap="round"/>
<text class="lg" transform="translate(1688.90,112.20)">Plain PVA</text>
<path d="M1568.4,155.4 H1676.8" stroke="#ff0000" stroke-width="4.0" stroke-linecap="round"/>
<text class="lg" transform="translate(1688.90,171.65)">Initial</text>
<path d="M1568.4,214.9 H1676.8" stroke="#0000ff" stroke-width="4.0" stroke-linecap="round"/>
<text class="lg" transform="translate(1688.90,231.10)">30 min</text>
<path d="M1568.4,274.4 H1676.8" stroke="#ff00ff" stroke-width="4.0" stroke-linecap="round"/>
<text class="lg" transform="translate(1688.90,290.55)">60 min</text>
<path d="M1568.4,333.8 H1676.8" stroke="#008000" stroke-width="4.0" stroke-linecap="round"/>
<text class="lg" transform="translate(1688.90,350.00)">120 min</text>
<path d="M1568.4,393.2 H1676.8" stroke="#000080" stroke-width="4.0" stroke-linecap="round"/>
<text class="lg" transform="translate(1688.90,409.45)">180 m</text>
<!-- Panel B -->
<g stroke="#000" stroke-width="4.1" stroke-linecap="round" fill="none">
<path d="M253.6,1318.2 H1953.9"/>
<path d="M275.3,1317.7 V850.2"/>
<path d="M253.6,1318.2 H275.3"/>
<path d="M253.6,1224.6 H275.3"/>
<path d="M253.6,1131.0 H275.3"/>
<path d="M253.6,1037.4 H275.3"/>
<path d="M253.6,943.8 H275.3"/>
<path d="M253.6,850.2 H275.3"/>
<path d="M264.4,1271.4 H275.3"/>
<path d="M264.4,1177.8 H275.3"/>
<path d="M264.4,1084.2 H275.3"/>
<path d="M264.4,990.6 H275.3"/>
<path d="M264.4,897.0 H275.3"/>
<path d="M355.5,1318.2 V1339.8"/>
<path d="M675.2,1318.2 V1339.8"/>
<path d="M994.9,1318.2 V1339.8"/>
<path d="M1314.5,1318.2 V1339.8"/>
<path d="M1634.2,1318.2 V1339.8"/>
<path d="M1953.9,1318.2 V1339.8"/>
<path d="M515.3,1318.2 V1329.2"/>
<path d="M835.0,1318.2 V1329.2"/>
<path d="M1154.7,1318.2 V1329.2"/>
<path d="M1474.4,1318.2 V1329.2"/>
<path d="M1794.1,1318.2 V1329.2"/>
</g>
<text class="tk" transform="translate(238.30,1334.25) scale(1,1.012)" text-anchor="end">0</text>
<text class="tk" transform="translate(238.30,1240.64) scale(1,1.012)" text-anchor="end">5</text>
<text class="tk" transform="translate(238.30,1147.03) scale(1,1.012)" text-anchor="end">10</text>
<text class="tk" transform="translate(238.30,1053.42) scale(1,1.012)" text-anchor="end">15</text>
<text class="tk" transform="translate(238.30,959.81) scale(1,1.012)" text-anchor="end">20</text>
<text class="tk" transform="translate(238.30,866.20) scale(1,1.012)" text-anchor="end">25</text>
<text class="tk" transform="translate(354.90,1401.25) scale(1,1.012)" text-anchor="middle">0</text>
<text class="tk" transform="translate(674.58,1401.25) scale(1,1.012)" text-anchor="middle">200</text>
<text class="tk" transform="translate(994.26,1401.25) scale(1,1.012)" text-anchor="middle">400</text>
<text class="tk" transform="translate(1313.94,1401.25) scale(1,1.012)" text-anchor="middle">600</text>
<text class="tk" transform="translate(1633.62,1401.25) scale(1,1.012)" text-anchor="middle">800</text>
<text class="tk" transform="translate(1953.30,1401.25) scale(1,1.012)" text-anchor="middle">1000</text>
<g fill="none" stroke-width="4.0" stroke-linejoin="round" stroke-linecap="round" clip-path="url(#clipB)">
<path stroke="#000000" d="M356.0,1318.0 L386.6,1318.0 L386.7,1316.2 L386.8,1314.5 L386.9,1312.7 L387.0,1311.4 L387.1,1310.1 L387.1,1308.8 L387.2,1307.5 L387.3,1306.2 L387.4,1304.9 L387.5,1303.6 L387.6,1302.3 L387.6,1301.0 L387.7,1299.7 L387.8,1298.4 L387.9,1297.1 L388.0,1295.8 L388.0,1294.5 L388.1,1293.2 L388.2,1291.8 L388.3,1290.5 L388.3,1289.2 L388.4,1287.9 L388.5,1286.6 L388.6,1285.3 L388.6,1284.0 L388.7,1282.7 L388.8,1281.4 L388.8,1280.1 L388.9,1278.8 L389.0,1277.5 L389.0,1276.2 L389.1,1274.9 L389.2,1273.6 L389.2,1272.3 L389.3,1271.0 L389.3,1269.7 L389.4,1268.4 L389.5,1267.1 L389.5,1265.8 L389.6,1264.5 L389.6,1263.2 L389.7,1261.9 L389.8,1260.6 L389.8,1259.2 L389.9,1257.9 L389.9,1256.6 L390.0,1255.3 L390.0,1254.0 L390.1,1252.7 L390.1,1251.4 L390.2,1250.1 L390.2,1248.8 L390.3,1247.5 L390.3,1246.2 L390.4,1244.9 L390.4,1243.6 L390.5,1242.3 L390.5,1241.0 L390.6,1239.7 L390.6,1238.4 L390.7,1237.1 L390.7,1235.8 L390.8,1234.5 L390.8,1233.1 L390.9,1231.8 L390.9,1230.5 L390.9,1229.2 L391.0,1227.9 L391.0,1226.6 L391.1,1225.3 L391.1,1224.0 L391.1,1222.7 L391.2,1221.4 L391.2,1220.1 L391.3,1218.8 L391.3,1217.5 L391.3,1216.2 L391.4,1214.9 L391.4,1213.6 L391.5,1212.3 L391.5,1210.9 L391.5,1209.6 L391.6,1208.3 L391.6,1207.0 L391.6,1205.7 L391.7,1204.4 L391.7,1203.1 L391.7,1201.8 L391.8,1200.5 L391.8,1199.2 L391.8,1197.9 L391.9,1196.6 L391.9,1195.3 L391.9,1194.0 L392.0,1192.7 L392.0,1191.4 L392.0,1190.1 L392.0,1188.7 L392.1,1187.4 L392.1,1186.1 L392.1,1184.8 L392.2,1183.5 L392.2,1182.2 L392.2,1180.9 L392.2,1179.6 L392.3,1178.3 L392.3,1177.0 L392.3,1175.7 L392.4,1174.4 L392.4,1173.1 L392.4,1171.8 L392.4,1170.5 L392.5,1169.1 L392.5,1167.8 L392.5,1166.5 L392.5,1165.2 L392.6,1163.9 L392.6,1162.6 L392.6,1161.3 L392.6,1160.0 L392.7,1158.7 L392.7,1157.4 L392.7,1156.1 L392.7,1154.8 L392.8,1153.5 L392.8,1152.2 L392.8,1150.9 L392.8,1149.6 L392.8,1148.2 L392.9,1146.9 L392.9,1145.6 L392.9,1144.3 L392.9,1143.0 L393.0,1141.7 L393.0,1140.4 L393.0,1139.1 L393.0,1137.8 L393.0,1136.5 L393.1,1135.2 L393.1,1133.9 L393.1,1132.6 L393.1,1131.3 L393.2,1130.0 L393.2,1128.6 L393.2,1127.3 L393.2,1126.0 L393.2,1124.7 L393.3,1123.4 L393.3,1122.1 L393.3,1120.8 L393.3,1119.5 L393.4,1118.2 L393.4,1116.9 L393.4,1115.6 L393.4,1114.3 L393.4,1113.0 L393.5,1111.7 L393.5,1110.4 L393.5,1109.1 L393.5,1107.7 L393.6,1106.4 L393.6,1105.1 L393.6,1103.8 L393.6,1102.5 L393.6,1101.2 L393.7,1099.9 L393.7,1098.6 L393.7,1097.3 L393.7,1096.0 L393.8,1094.7 L393.8,1093.4 L393.8,1092.1 L393.8,1090.8 L393.9,1089.5 L393.9,1088.2 L393.9,1086.8 L393.9,1085.5 L394.0,1084.2 L394.0,1082.9 L394.0,1081.6 L394.0,1080.3 L394.0,1079.0 L394.1,1077.7 L394.1,1076.4 L394.1,1075.1 L394.1,1073.8 L394.2,1072.5 L394.2,1071.2 L394.2,1069.9 L394.3,1068.6 L394.3,1067.3 L394.3,1066.0 L394.3,1064.7 L394.4,1063.3 L394.4,1062.0 L394.4,1060.7 L394.4,1059.4 L394.5,1058.1 L394.5,1056.8 L394.5,1055.5 L394.5,1054.2 L394.6,1052.9 L394.6,1051.6 L394.6,1050.3 L394.7,1049.0 L394.7,1047.7 L394.7,1046.4 L394.7,1045.1 L394.8,1043.8 L394.8,1042.5 L394.8,1041.2 L394.8,1039.9 L394.9,1038.5 L394.9,1037.2 L394.9,1035.9 L395.0,1034.6 L395.0,1033.3 L395.0,1032.0 L395.1,1030.7 L395.1,1029.4 L395.1,1028.1 L395.1,1026.8 L395.2,1025.5 L395.2,1024.2 L395.2,1022.9 L395.3,1021.6 L395.3,1020.3 L395.3,1019.0 L395.4,1017.7 L395.4,1016.4 L395.4,1015.1 L395.5,1013.8 L395.5,1012.5 L395.5,1011.1 L395.5,1009.8 L395.6,1008.5 L395.6,1007.2 L395.6,1005.9 L395.7,1004.6 L395.7,1003.3 L395.7,1002.0 L395.8,1000.7 L395.8,999.4 L395.8,998.1 L395.9,996.8 L395.9,995.5 L395.9,994.2 L396.0,992.9 L396.0,991.6 L396.1,990.3 L396.1,989.0 L396.1,987.7 L396.2,986.4 L396.2,985.1 L396.2,983.8 L396.3,982.5 L396.3,981.2 L396.3,979.9 L396.4,978.5 L396.4,977.2 L396.4,975.9 L396.5,974.6 L396.5,973.3 L396.6,972.0 L396.6,970.7 L396.6,969.4 L396.7,968.1 L396.7,966.8 L396.7,965.5 L396.8,964.2 L396.8,962.9 L396.9,961.6 L396.9,960.3 L396.9,959.0 L397.0,957.7 L397.0,956.4 L397.1,955.1 L397.1,953.8 L397.1,952.5 L397.2,951.2 L397.2,949.9 L397.3,948.6 L397.3,947.3 L397.3,946.0 L397.4,944.7 L397.4,943.4 L397.5,942.1 L397.5,940.8 L397.5,939.5 L397.6,938.2 L397.6,936.9 L397.7,935.6 L397.7,934.2 L397.8,932.9 L397.8,931.6 L397.8,930.3 L397.9,929.0 L397.9,927.7 L398.0,926.4 L398.0,925.1 L398.1,923.8 L398.1,922.5 L398.2,921.2 L398.2,919.9 L398.3,918.6 L398.3,917.3 L398.4,915.9 L398.4,914.6 L398.5,913.3 L398.6,912.0 L398.6,910.6 L398.7,909.3 L398.8,907.9 L398.9,906.6 L399.0,905.2 L399.0,903.9 L399.1,902.5 L399.2,901.1 L399.3,899.7 L399.4,898.3 L399.5,896.9 L399.6,895.5 L399.8,894.1 L399.9,892.7 L400.0,891.3 L400.2,889.8 L400.3,888.4 L400.4,886.9 L400.6,885.5 L400.8,884.0 L400.9,882.5 L401.1,881.0 L401.3,879.5 L401.5,878.0 L401.7,876.6 L401.9,875.1 L402.1,873.8 L402.3,872.6 L402.5,871.5 L402.7,870.6 L402.9,869.9 L403.2,869.4 L403.4,869.1 L403.6,869.1 L403.9,869.3 L404.1,869.8 L404.3,870.4 L404.5,871.3 L404.8,872.3 L405.0,873.4 L405.2,874.7 L405.4,876.1 L405.6,877.5 L405.8,879.1 L406.0,880.6 L406.1,882.2 L406.3,883.8 L406.4,885.4 L406.6,887.0 L406.7,888.7 L406.8,890.3 L406.9,892.0 L407.0,893.6 L407.1,895.3 L407.2,896.9 L407.3,898.5 L407.4,900.1 L407.5,901.7 L407.6,903.2 L407.7,904.7 L407.8,906.2 L407.9,907.6 L408.0,909.0 L408.0,910.3 L408.1,911.7 L408.2,913.0 L408.3,914.3 L408.4,915.5 L408.5,916.8 L408.6,918.0 L408.7,919.2 L408.8,920.4 L408.9,921.6 L409.0,922.7 L409.1,923.9 L409.2,925.1 L409.3,926.3 L409.4,927.4 L409.4,928.6 L409.5,929.8 L409.6,931.0 L409.7,932.2 L409.8,933.4 L409.9,934.7 L410.0,935.9 L410.1,937.2 L410.2,938.5 L410.2,939.7 L410.3,941.0 L410.4,942.3 L410.5,943.6 L410.6,945.0 L410.7,946.3 L410.8,947.6 L410.8,948.9 L410.9,950.3 L411.0,951.6 L411.1,952.9 L411.2,954.3 L411.3,955.6 L411.3,957.0 L411.4,958.3 L411.5,959.6 L411.6,961.0 L411.7,962.3 L411.8,963.6 L411.8,965.0 L411.9,966.3 L412.0,967.6 L412.1,968.9 L412.2,970.3 L412.2,971.6 L412.3,972.9 L412.4,974.2 L412.5,975.5 L412.6,976.8 L412.7,978.1 L412.7,979.5 L412.8,980.8 L412.9,982.1 L413.0,983.4 L413.1,984.7 L413.1,986.0 L413.2,987.3 L413.3,988.6 L413.4,989.9 L413.5,991.2 L413.5,992.5 L413.6,993.8 L413.7,995.1 L413.8,996.4 L413.8,997.6 L413.9,998.9 L414.0,1000.2 L414.1,1001.5 L414.1,1002.8 L414.2,1004.1 L414.3,1005.4 L414.4,1006.7 L414.4,1008.0 L414.5,1009.3 L414.6,1010.6 L414.7,1011.9 L414.7,1013.2 L414.8,1014.5 L414.9,1015.8 L414.9,1017.0 L415.0,1018.3 L415.1,1019.6 L415.2,1020.9 L415.2,1022.2 L415.3,1023.5 L415.4,1024.8 L415.4,1026.1 L415.5,1027.4 L415.6,1028.7 L415.6,1030.0 L415.7,1031.3 L415.7,1032.6 L415.8,1033.9 L415.9,1035.2 L415.9,1036.5 L416.0,1037.8 L416.1,1039.1 L416.1,1040.4 L416.2,1041.7 L416.2,1043.0 L416.3,1044.4 L416.4,1045.7 L416.4,1047.0 L416.5,1048.3 L416.5,1049.6 L416.6,1050.9 L416.7,1052.2 L416.7,1053.5 L416.8,1054.8 L416.8,1056.1 L416.9,1057.4 L417.0,1058.7 L417.0,1060.0 L417.1,1061.3 L417.1,1062.6 L417.2,1063.9 L417.3,1065.3 L417.3,1066.6 L417.4,1067.9 L417.4,1069.2 L417.5,1070.5 L417.6,1071.8 L417.6,1073.1 L417.7,1074.4 L417.7,1075.7 L417.8,1077.0 L417.8,1078.3 L417.9,1079.7 L418.0,1081.0 L418.0,1082.3 L418.1,1083.6 L418.1,1084.9 L418.2,1086.2 L418.3,1087.5 L418.3,1088.8 L418.4,1090.1 L418.4,1091.5 L418.5,1092.8 L418.6,1094.1 L418.6,1095.4 L418.7,1096.7 L418.7,1098.0 L418.8,1099.3 L418.9,1100.6 L418.9,1101.9 L419.0,1103.3 L419.1,1104.6 L419.1,1105.9 L419.2,1107.2 L419.3,1108.5 L419.3,1109.8 L419.4,1111.1 L419.4,1112.4 L419.5,1113.7 L419.6,1115.0 L419.6,1116.4 L419.7,1117.7 L419.8,1119.0 L419.8,1120.3 L419.9,1121.6 L420.0,1122.9 L420.1,1124.2 L420.1,1125.5 L420.2,1126.8 L420.3,1128.1 L420.3,1129.4 L420.4,1130.8 L420.5,1132.1 L420.6,1133.4 L420.6,1134.7 L420.7,1136.0 L420.8,1137.3 L420.9,1138.6 L420.9,1139.9 L421.0,1141.2 L421.1,1142.5 L421.2,1143.8 L421.3,1145.1 L421.3,1146.4 L421.4,1147.7 L421.5,1149.0 L421.6,1150.3 L421.7,1151.7 L421.8,1153.0 L421.9,1154.3 L421.9,1155.6 L422.0,1156.9 L422.1,1158.2 L422.2,1159.5 L422.3,1160.8 L422.4,1162.1 L422.5,1163.4 L422.6,1164.7 L422.7,1166.0 L422.8,1167.3 L422.9,1168.6 L423.0,1169.9 L423.1,1171.2 L423.2,1172.5 L423.3,1173.8 L423.4,1175.1 L423.5,1176.4 L423.6,1177.6 L423.7,1178.9 L423.8,1180.2 L423.9,1181.5 L424.0,1182.8 L424.1,1184.1 L424.2,1185.4 L424.3,1186.7 L424.5,1188.0 L424.6,1189.3 L424.7,1190.6 L424.8,1191.9 L424.9,1193.2 L425.0,1194.4 L425.2,1195.7 L425.3,1197.0 L425.4,1198.3 L425.5,1199.6 L425.7,1200.9 L425.8,1202.2 L425.9,1203.5 L426.1,1204.7 L426.2,1206.0 L426.3,1207.3 L426.5,1208.6 L426.6,1209.9 L426.8,1211.2 L426.9,1212.5 L427.0,1213.7 L427.2,1215.0 L427.3,1216.3 L427.5,1217.6 L427.6,1218.9 L427.8,1220.2 L427.9,1221.5 L428.1,1222.8 L428.3,1224.0 L428.4,1225.3 L428.6,1226.6 L428.7,1227.9 L428.9,1229.2 L429.1,1230.5 L429.2,1231.8 L429.4,1233.1 L429.6,1234.3 L429.8,1235.6 L430.0,1236.9 L430.1,1238.2 L430.3,1239.5 L430.5,1240.8 L430.7,1242.1 L430.9,1243.4 L431.1,1244.7 L431.3,1246.0 L431.5,1247.3 L431.7,1248.6 L431.9,1249.9 L432.1,1251.2 L432.3,1252.5 L432.5,1253.8 L432.7,1255.1 L432.9,1256.4 L433.1,1257.7 L433.4,1259.0 L433.6,1260.3 L433.8,1261.6 L434.0,1262.9 L434.3,1264.2 L434.5,1265.5 L434.7,1266.8 L435.0,1268.1 L435.2,1269.4 L435.5,1270.7 L435.7,1272.1 L435.9,1273.4 L436.2,1274.7 L436.5,1276.0 L436.7,1277.3 L437.0,1278.6 L437.2,1280.0 L437.5,1281.3 L437.8,1282.6 L438.1,1283.9 L438.3,1285.3 L438.6,1286.6 L438.9,1287.9 L439.2,1289.2 L439.5,1290.6 L439.8,1291.9 L440.1,1293.2 L440.5,1294.4 L440.9,1295.7 L441.2,1297.0 L441.6,1298.2 L442.1,1299.4 L442.5,1300.6 L443.0,1301.8 L443.5,1302.9 L444.1,1304.0 L444.6,1305.1 L445.2,1306.1 L445.9,1307.1 L446.6,1308.1 L447.3,1309.0 L448.1,1309.9 L448.9,1310.7 L449.7,1311.5 L450.6,1312.3 L451.6,1313.1 L452.6,1313.9 L453.7,1314.7 L454.8,1315.4 L456.0,1316.0 L457.2,1316.6 L458.5,1317.0 L459.9,1317.4 L461.3,1317.7 L462.8,1317.9 L464.4,1318.0 L466.0,1318.0 L1960.0,1318.0"/>
<path stroke="#ff0000" d="M356.0,1318.0 L413.8,1318.0 L414.1,1316.1 L414.4,1314.3 L414.7,1312.5 L414.9,1311.1 L415.2,1309.7 L415.5,1308.4 L415.8,1307.0 L416.0,1305.6 L416.3,1304.2 L416.5,1302.9 L416.8,1301.5 L417.0,1300.1 L417.2,1298.7 L417.5,1297.4 L417.7,1296.0 L417.9,1294.6 L418.2,1293.2 L418.4,1291.8 L418.6,1290.5 L418.8,1289.1 L419.0,1287.7 L419.2,1286.3 L419.4,1284.9 L419.6,1283.6 L419.8,1282.2 L420.0,1280.8 L420.2,1279.4 L420.4,1278.0 L420.6,1276.6 L420.7,1275.2 L420.9,1273.9 L421.1,1272.5 L421.2,1271.1 L421.4,1269.7 L421.6,1268.3 L421.7,1266.9 L421.9,1265.5 L422.0,1264.2 L422.2,1262.8 L422.3,1261.4 L422.5,1260.0 L422.6,1258.6 L422.8,1257.2 L422.9,1255.8 L423.0,1254.4 L423.2,1253.0 L423.3,1251.6 L423.4,1250.3 L423.6,1248.9 L423.7,1247.5 L423.8,1246.1 L423.9,1244.7 L424.1,1243.3 L424.2,1241.9 L424.3,1240.5 L424.4,1239.1 L424.5,1237.7 L424.6,1236.3 L424.7,1234.9 L424.8,1233.5 L424.9,1232.1 L425.0,1230.7 L425.1,1229.4 L425.3,1228.0 L425.4,1226.6 L425.4,1225.2 L425.5,1223.8 L425.6,1222.4 L425.7,1221.0 L425.8,1219.6 L425.9,1218.2 L426.0,1216.8 L426.1,1215.4 L426.2,1214.0 L426.3,1212.6 L426.4,1211.2 L426.5,1209.8 L426.6,1208.4 L426.6,1207.0 L426.7,1205.6 L426.8,1204.2 L426.9,1202.8 L427.0,1201.4 L427.1,1200.0 L427.2,1198.6 L427.2,1197.2 L427.3,1195.8 L427.4,1194.4 L427.5,1193.0 L427.6,1191.6 L427.7,1190.2 L427.8,1188.8 L427.8,1187.4 L427.9,1186.0 L428.0,1184.7 L428.1,1183.3 L428.2,1181.9 L428.3,1180.5 L428.4,1179.1 L428.5,1177.7 L428.5,1176.3 L428.6,1174.9 L428.7,1173.5 L428.8,1172.1 L428.9,1170.7 L429.0,1169.3 L429.1,1167.9 L429.2,1166.5 L429.3,1165.1 L429.4,1163.7 L429.5,1162.3 L429.5,1160.9 L429.6,1159.5 L429.7,1158.1 L429.8,1156.7 L429.9,1155.3 L430.0,1153.9 L430.1,1152.5 L430.2,1151.1 L430.3,1149.7 L430.4,1148.3 L430.5,1146.9 L430.6,1145.5 L430.7,1144.1 L430.8,1142.7 L430.9,1141.3 L431.0,1139.9 L431.1,1138.6 L431.2,1137.2 L431.3,1135.8 L431.4,1134.4 L431.5,1133.0 L431.6,1131.6 L431.7,1130.2 L431.8,1128.8 L431.9,1127.4 L432.0,1126.0 L432.1,1124.6 L432.2,1123.2 L432.3,1121.8 L432.4,1120.4 L432.5,1119.0 L432.6,1117.6 L432.8,1116.2 L432.9,1114.8 L433.0,1113.4 L433.1,1112.0 L433.2,1110.7 L433.3,1109.3 L433.4,1107.9 L433.5,1106.5 L433.6,1105.1 L433.7,1103.7 L433.8,1102.3 L434.0,1100.9 L434.1,1099.5 L434.2,1098.1 L434.3,1096.7 L434.4,1095.3 L434.5,1093.9 L434.6,1092.5 L434.8,1091.1 L434.9,1089.8 L435.0,1088.4 L435.1,1087.0 L435.2,1085.6 L435.3,1084.2 L435.5,1082.8 L435.6,1081.4 L435.7,1080.0 L435.8,1078.6 L435.9,1077.2 L436.1,1075.8 L436.2,1074.4 L436.3,1073.1 L436.4,1071.7 L436.6,1070.3 L436.7,1068.9 L436.8,1067.5 L436.9,1066.1 L437.1,1064.7 L437.2,1063.3 L437.3,1061.9 L437.4,1060.5 L437.6,1059.2 L437.7,1057.8 L437.8,1056.4 L438.0,1055.0 L438.1,1053.6 L438.2,1052.2 L438.4,1050.8 L438.5,1049.4 L438.6,1048.0 L438.7,1046.7 L438.9,1045.3 L439.0,1043.9 L439.2,1042.5 L439.3,1041.1 L439.4,1039.7 L439.6,1038.3 L439.7,1036.9 L439.8,1035.6 L440.0,1034.2 L440.1,1032.8 L440.3,1031.4 L440.4,1030.0 L440.6,1028.6 L440.7,1027.3 L440.9,1025.9 L441.1,1024.5 L441.3,1023.2 L441.6,1021.9 L441.8,1020.5 L442.1,1019.2 L442.4,1017.9 L442.7,1016.5 L443.0,1015.1 L443.3,1013.6 L443.6,1012.1 L444.0,1010.6 L444.3,1009.1 L444.7,1007.5 L445.1,1005.9 L445.6,1004.3 L446.1,1002.8 L446.7,1001.2 L447.3,999.8 L447.9,998.4 L448.6,997.1 L449.3,996.1 L450.0,995.2 L450.8,994.7 L451.5,994.5 L452.3,994.6 L453.1,995.0 L453.8,995.8 L454.5,996.8 L455.2,998.0 L455.9,999.3 L456.5,1000.7 L457.1,1002.2 L457.6,1003.7 L458.2,1005.2 L458.6,1006.7 L459.1,1008.1 L459.5,1009.6 L460.0,1011.0 L460.4,1012.5 L460.8,1013.9 L461.2,1015.3 L461.6,1016.7 L462.1,1018.1 L462.5,1019.5 L462.9,1020.9 L463.3,1022.3 L463.6,1023.7 L464.0,1025.0 L464.4,1026.4 L464.8,1027.8 L465.2,1029.1 L465.5,1030.4 L465.9,1031.8 L466.2,1033.1 L466.6,1034.5 L466.9,1035.8 L467.3,1037.1 L467.6,1038.4 L468.0,1039.8 L468.3,1041.1 L468.7,1042.4 L469.0,1043.7 L469.3,1045.0 L469.6,1046.3 L470.0,1047.6 L470.3,1049.0 L470.6,1050.3 L470.9,1051.6 L471.2,1052.9 L471.6,1054.2 L471.9,1055.6 L472.2,1056.9 L472.5,1058.2 L472.8,1059.5 L473.1,1060.9 L473.4,1062.2 L473.7,1063.5 L474.0,1064.9 L474.3,1066.2 L474.6,1067.6 L474.9,1068.9 L475.2,1070.2 L475.5,1071.6 L475.8,1072.9 L476.1,1074.3 L476.4,1075.6 L476.7,1077.0 L477.0,1078.4 L477.3,1079.7 L477.6,1081.1 L477.8,1082.4 L478.1,1083.8 L478.4,1085.1 L478.7,1086.5 L479.0,1087.9 L479.3,1089.2 L479.6,1090.6 L479.9,1092.0 L480.2,1093.3 L480.5,1094.7 L480.8,1096.1 L481.1,1097.4 L481.4,1098.8 L481.7,1100.2 L482.0,1101.6 L482.3,1102.9 L482.6,1104.3 L482.9,1105.7 L483.2,1107.0 L483.5,1108.4 L483.8,1109.8 L484.1,1111.2 L484.4,1112.5 L484.7,1113.9 L485.1,1115.3 L485.4,1116.6 L485.7,1118.0 L486.0,1119.4 L486.3,1120.7 L486.7,1122.1 L487.0,1123.5 L487.3,1124.9 L487.6,1126.2 L488.0,1127.6 L488.3,1128.9 L488.7,1130.3 L489.0,1131.7 L489.3,1133.0 L489.7,1134.4 L490.1,1135.8 L490.4,1137.1 L490.8,1138.5 L491.1,1139.8 L491.5,1141.2 L491.9,1142.5 L492.2,1143.9 L492.6,1145.2 L493.0,1146.6 L493.4,1147.9 L493.8,1149.3 L494.2,1150.6 L494.6,1152.0 L495.0,1153.3 L495.4,1154.6 L495.8,1156.0 L496.2,1157.3 L496.6,1158.6 L497.0,1159.9 L497.4,1161.3 L497.9,1162.6 L498.3,1163.9 L498.8,1165.2 L499.2,1166.5 L499.7,1167.8 L500.1,1169.2 L500.6,1170.5 L501.0,1171.8 L501.5,1173.1 L502.0,1174.4 L502.5,1175.7 L503.0,1176.9 L503.5,1178.2 L504.0,1179.5 L504.5,1180.8 L505.0,1182.1 L505.5,1183.4 L506.0,1184.6 L506.5,1185.9 L507.0,1187.2 L507.6,1188.5 L508.1,1189.7 L508.6,1191.0 L509.2,1192.3 L509.7,1193.6 L510.3,1194.8 L510.9,1196.1 L511.4,1197.4 L512.0,1198.6 L512.6,1199.9 L513.1,1201.1 L513.7,1202.4 L514.3,1203.7 L514.9,1204.9 L515.5,1206.2 L516.1,1207.5 L516.7,1208.7 L517.3,1210.0 L517.9,1211.2 L518.5,1212.5 L519.1,1213.7 L519.7,1215.0 L520.4,1216.2 L521.0,1217.5 L521.6,1218.7 L522.3,1220.0 L522.9,1221.2 L523.6,1222.4 L524.3,1223.7 L524.9,1224.9 L525.6,1226.1 L526.3,1227.3 L527.0,1228.5 L527.7,1229.7 L528.4,1230.9 L529.1,1232.1 L529.8,1233.3 L530.6,1234.5 L531.3,1235.7 L532.0,1236.9 L532.8,1238.1 L533.6,1239.2 L534.3,1240.4 L535.1,1241.5 L535.9,1242.7 L536.7,1243.8 L537.5,1244.9 L538.3,1246.1 L539.1,1247.2 L539.9,1248.3 L540.8,1249.4 L541.6,1250.5 L542.5,1251.6 L543.3,1252.7 L544.2,1253.7 L545.1,1254.8 L546.0,1255.8 L546.9,1256.9 L547.8,1257.9 L548.8,1258.9 L549.7,1260.0 L550.6,1261.0 L551.6,1262.0 L552.6,1262.9 L553.5,1263.9 L554.5,1264.9 L555.5,1265.8 L556.6,1266.8 L557.6,1267.7 L558.6,1268.6 L559.7,1269.5 L560.7,1270.4 L561.8,1271.3 L562.9,1272.2 L564.0,1273.0 L565.1,1273.9 L566.2,1274.7 L567.4,1275.6 L568.5,1276.4 L569.7,1277.2 L570.8,1278.0 L572.0,1278.7 L573.2,1279.5 L574.4,1280.3 L575.6,1281.0 L576.8,1281.8 L578.0,1282.5 L579.2,1283.2 L580.4,1283.9 L581.7,1284.6 L582.9,1285.3 L584.1,1285.9 L585.4,1286.6 L586.7,1287.2 L587.9,1287.9 L589.2,1288.5 L590.5,1289.1 L591.7,1289.7 L593.0,1290.3 L594.3,1290.9 L595.6,1291.5 L596.9,1292.0 L598.2,1292.6 L599.5,1293.1 L600.8,1293.6 L602.1,1294.1 L603.4,1294.7 L604.7,1295.2 L606.0,1295.6 L607.3,1296.1 L608.7,1296.6 L610.0,1297.0 L611.3,1297.5 L612.6,1297.9 L613.9,1298.4 L615.3,1298.8 L616.6,1299.2 L617.9,1299.6 L619.3,1300.0 L620.6,1300.4 L621.9,1300.8 L623.3,1301.1 L624.6,1301.5 L625.9,1301.9 L627.3,1302.2 L628.6,1302.5 L630.0,1302.9 L631.3,1303.2 L632.7,1303.5 L634.0,1303.8 L635.4,1304.1 L636.7,1304.4 L638.1,1304.7 L639.4,1305.0 L640.8,1305.3 L642.1,1305.6 L643.5,1305.8 L644.8,1306.1 L646.2,1306.3 L647.6,1306.6 L648.9,1306.8 L650.3,1307.1 L651.7,1307.3 L653.0,1307.5 L654.4,1307.8 L655.8,1308.0 L657.1,1308.2 L658.5,1308.4 L659.9,1308.6 L661.2,1308.8 L662.6,1309.0 L664.0,1309.2 L665.4,1309.4 L666.7,1309.6 L668.1,1309.7 L669.5,1309.9 L670.9,1310.1 L672.2,1310.3 L673.6,1310.4 L675.0,1310.6 L676.4,1310.8 L677.8,1310.9 L679.1,1311.1 L680.5,1311.2 L681.9,1311.4 L683.3,1311.5 L684.7,1311.7 L686.1,1311.8 L687.4,1312.0 L688.8,1312.1 L690.2,1312.2 L691.6,1312.4 L693.0,1312.5 L694.4,1312.6 L695.8,1312.8 L697.2,1313.0 L698.5,1313.1 L699.9,1313.3 L701.3,1313.4 L702.7,1313.6 L704.1,1313.7 L705.5,1313.9 L706.9,1314.0 L708.3,1314.1 L709.7,1314.3 L711.1,1314.4 L712.5,1314.5 L713.8,1314.7 L715.2,1314.8 L716.6,1314.9 L718.0,1315.0 L719.4,1315.1 L720.8,1315.3 L722.2,1315.4 L723.6,1315.5 L725.0,1315.6 L726.4,1315.7 L727.8,1315.8 L729.2,1315.9 L730.6,1316.0 L732.0,1316.0 L733.4,1316.1 L734.8,1316.2 L736.2,1316.3 L737.6,1316.4 L739.0,1316.4 L740.4,1316.5 L741.8,1316.6 L743.2,1316.7 L744.6,1316.7 L746.0,1316.8 L747.4,1316.9 L748.8,1316.9 L750.2,1317.0 L751.6,1317.0 L753.0,1317.1 L754.4,1317.1 L755.8,1317.2 L757.2,1317.2 L758.6,1317.3 L760.0,1317.3 L761.4,1317.4 L762.8,1317.4 L764.2,1317.5 L765.6,1317.5 L767.0,1317.5 L768.4,1317.6 L769.8,1317.6 L771.2,1317.6 L772.6,1317.7 L774.1,1317.7 L775.5,1317.7 L776.9,1317.7 L778.3,1317.8 L779.7,1317.8 L781.1,1317.8 L782.5,1317.8 L783.9,1317.8 L785.3,1317.9 L786.7,1317.9 L788.1,1317.9 L789.5,1317.9 L790.9,1317.9 L792.3,1317.9 L793.7,1317.9 L795.1,1317.9 L796.5,1318.0 L797.9,1318.0 L799.3,1318.0 L800.7,1318.0 L802.2,1318.0 L803.6,1318.0 L805.0,1318.0 L806.4,1318.0 L807.8,1318.0 L809.2,1318.0 L810.6,1318.0 L812.0,1318.0 L813.4,1318.0 L814.8,1318.0 L816.2,1318.0 L817.6,1318.0 L819.0,1318.0 L820.4,1318.0 L821.8,1318.0 L823.2,1317.9 L824.6,1317.9 L826.0,1317.9 L827.4,1317.9 L828.8,1317.9 L830.2,1317.9 L831.6,1317.9 L833.0,1317.9 L834.4,1317.9 L835.8,1317.9 L837.2,1317.9 L838.7,1317.9 L840.1,1317.9 L841.5,1317.8 L842.9,1317.8 L844.3,1317.8 L845.7,1317.8 L847.1,1317.8 L848.5,1317.8 L849.9,1317.8 L851.3,1317.8 L852.7,1317.8 L854.1,1317.8 L855.5,1317.8 L856.8,1317.8 L858.2,1317.8 L859.6,1317.8 L861.0,1317.7 L862.4,1317.7 L863.8,1317.7 L865.2,1317.7 L866.6,1317.7 L868.0,1317.7 L869.4,1317.7 L870.8,1317.7 L872.2,1317.7 L873.6,1317.7 L875.0,1317.7 L876.4,1317.7 L877.8,1317.7 L879.2,1317.7 L880.6,1317.8 L882.0,1317.8 L883.3,1317.8 L884.7,1317.8 L886.1,1317.8 L887.5,1317.8 L888.9,1317.8 L890.3,1317.8 L891.7,1317.8 L893.1,1317.9 L894.5,1317.9 L895.8,1317.9 L897.2,1317.9 L898.6,1317.9 L900.0,1318.0 L1960.0,1318.0"/>
<path stroke="#0000ff" d="M356.0,1318.0 L417.5,1317.9 L417.8,1316.1 L418.1,1314.3 L418.4,1312.5 L418.6,1311.1 L418.9,1309.7 L419.2,1308.3 L419.5,1306.9 L419.7,1305.5 L420.0,1304.1 L420.2,1302.7 L420.5,1301.3 L420.7,1299.9 L421.0,1298.5 L421.2,1297.2 L421.4,1295.8 L421.7,1294.4 L421.9,1293.0 L422.1,1291.6 L422.3,1290.2 L422.5,1288.8 L422.8,1287.4 L423.0,1286.0 L423.2,1284.6 L423.4,1283.2 L423.6,1281.7 L423.7,1280.3 L423.9,1278.9 L424.1,1277.5 L424.3,1276.1 L424.5,1274.7 L424.7,1273.3 L424.8,1271.9 L425.0,1270.5 L425.2,1269.1 L425.3,1267.7 L425.5,1266.3 L425.6,1264.8 L425.8,1263.4 L425.9,1262.0 L426.1,1260.6 L426.2,1259.2 L426.4,1257.8 L426.5,1256.4 L426.7,1254.9 L426.8,1253.5 L426.9,1252.1 L427.1,1250.7 L427.2,1249.3 L427.3,1247.9 L427.4,1246.5 L427.6,1245.0 L427.7,1243.6 L427.8,1242.2 L427.9,1240.8 L428.0,1239.4 L428.2,1237.9 L428.3,1236.5 L428.4,1235.1 L428.5,1233.7 L428.6,1232.3 L428.7,1230.9 L428.8,1229.4 L428.9,1228.0 L429.0,1226.6 L429.1,1225.2 L429.2,1223.8 L429.3,1222.3 L429.4,1220.9 L429.5,1219.5 L429.6,1218.1 L429.7,1216.7 L429.8,1215.3 L429.9,1213.8 L429.9,1212.4 L430.0,1211.0 L430.1,1209.6 L430.2,1208.2 L430.3,1206.8 L430.4,1205.3 L430.5,1203.9 L430.6,1202.5 L430.6,1201.1 L430.7,1199.7 L430.8,1198.3 L430.9,1196.8 L431.0,1195.4 L431.1,1194.0 L431.1,1192.6 L431.2,1191.2 L431.3,1189.8 L431.4,1188.4 L431.5,1187.0 L431.6,1185.5 L431.6,1184.1 L431.7,1182.7 L431.8,1181.3 L431.9,1179.9 L432.0,1178.5 L432.1,1177.1 L432.1,1175.7 L432.2,1174.3 L432.3,1172.9 L432.4,1171.5 L432.5,1170.1 L432.6,1168.6 L432.7,1167.2 L432.7,1165.8 L432.8,1164.4 L432.9,1163.0 L433.0,1161.6 L433.1,1160.2 L433.2,1158.8 L433.3,1157.4 L433.4,1156.0 L433.5,1154.6 L433.5,1153.2 L433.6,1151.8 L433.7,1150.4 L433.8,1149.0 L433.9,1147.6 L434.0,1146.2 L434.1,1144.8 L434.2,1143.4 L434.3,1142.0 L434.4,1140.6 L434.5,1139.2 L434.5,1137.8 L434.6,1136.4 L434.7,1135.0 L434.8,1133.6 L434.9,1132.2 L435.0,1130.8 L435.1,1129.4 L435.2,1128.0 L435.3,1126.6 L435.4,1125.2 L435.5,1123.8 L435.6,1122.4 L435.7,1121.0 L435.8,1119.6 L435.9,1118.2 L436.0,1116.8 L436.1,1115.4 L436.2,1114.0 L436.3,1112.6 L436.4,1111.2 L436.5,1109.8 L436.6,1108.4 L436.7,1107.0 L436.8,1105.6 L436.9,1104.2 L437.0,1102.8 L437.1,1101.3 L437.2,1099.9 L437.3,1098.5 L437.4,1097.1 L437.5,1095.7 L437.6,1094.3 L437.7,1092.9 L437.8,1091.5 L437.9,1090.1 L438.0,1088.7 L438.1,1087.3 L438.2,1085.9 L438.3,1084.5 L438.5,1083.1 L438.6,1081.6 L438.7,1080.2 L438.8,1078.8 L438.9,1077.4 L439.0,1076.0 L439.1,1074.6 L439.2,1073.2 L439.3,1071.8 L439.4,1070.3 L439.6,1068.9 L439.7,1067.5 L439.8,1066.1 L439.9,1064.7 L440.0,1063.3 L440.1,1061.8 L440.2,1060.4 L440.4,1059.0 L440.5,1057.6 L440.6,1056.2 L440.7,1054.7 L440.8,1053.3 L440.9,1051.9 L441.1,1050.5 L441.2,1049.0 L441.3,1047.6 L441.4,1046.2 L441.5,1044.8 L441.7,1043.3 L441.8,1041.9 L441.9,1040.5 L442.0,1039.0 L442.2,1037.6 L442.3,1036.2 L442.4,1034.7 L442.5,1033.3 L442.7,1031.9 L442.8,1030.4 L442.9,1029.0 L443.0,1027.5 L443.2,1026.1 L443.3,1024.7 L443.4,1023.2 L443.6,1021.8 L443.7,1020.3 L443.8,1018.9 L444.0,1017.4 L444.1,1016.0 L444.2,1014.5 L444.4,1013.1 L444.5,1011.6 L444.6,1010.2 L444.8,1008.7 L444.9,1007.3 L445.1,1005.8 L445.3,1004.4 L445.5,1003.0 L445.8,1001.6 L446.1,1000.2 L446.4,998.8 L446.7,997.5 L447.1,996.1 L447.5,994.8 L448.0,993.5 L448.5,992.2 L449.1,991.0 L449.7,989.7 L450.4,988.6 L451.2,987.4 L452.0,986.4 L452.8,985.6 L453.7,985.1 L454.5,984.9 L455.4,985.2 L456.3,986.1 L457.1,987.5 L457.9,989.2 L458.7,991.2 L459.4,993.2 L460.0,995.0 L460.6,996.7 L461.2,998.3 L461.7,999.7 L462.1,1001.1 L462.6,1002.5 L463.0,1003.8 L463.4,1005.1 L463.8,1006.4 L464.2,1007.7 L464.6,1009.0 L465.0,1010.4 L465.3,1011.7 L465.7,1013.0 L466.1,1014.3 L466.4,1015.7 L466.8,1017.0 L467.1,1018.4 L467.5,1019.7 L467.8,1021.1 L468.1,1022.4 L468.4,1023.8 L468.8,1025.1 L469.1,1026.5 L469.4,1027.9 L469.7,1029.2 L470.0,1030.6 L470.3,1032.0 L470.6,1033.4 L471.0,1034.7 L471.3,1036.1 L471.6,1037.5 L471.9,1038.9 L472.2,1040.2 L472.5,1041.6 L472.8,1043.0 L473.1,1044.4 L473.4,1045.7 L473.7,1047.1 L474.0,1048.5 L474.3,1049.8 L474.6,1051.2 L474.9,1052.6 L475.2,1054.0 L475.5,1055.3 L475.8,1056.7 L476.1,1058.1 L476.4,1059.5 L476.7,1060.8 L477.0,1062.2 L477.4,1063.6 L477.7,1065.0 L478.0,1066.3 L478.3,1067.7 L478.6,1069.1 L478.9,1070.4 L479.2,1071.8 L479.5,1073.2 L479.8,1074.6 L480.1,1075.9 L480.4,1077.3 L480.7,1078.7 L481.0,1080.0 L481.4,1081.4 L481.7,1082.8 L482.0,1084.1 L482.3,1085.5 L482.6,1086.9 L482.9,1088.3 L483.3,1089.6 L483.6,1091.0 L483.9,1092.4 L484.2,1093.7 L484.5,1095.1 L484.9,1096.5 L485.2,1097.8 L485.5,1099.2 L485.8,1100.6 L486.2,1101.9 L486.5,1103.3 L486.8,1104.7 L487.2,1106.0 L487.5,1107.4 L487.8,1108.7 L488.2,1110.1 L488.5,1111.5 L488.9,1112.8 L489.2,1114.2 L489.5,1115.6 L489.9,1116.9 L490.2,1118.3 L490.6,1119.6 L490.9,1121.0 L491.3,1122.4 L491.7,1123.7 L492.0,1125.1 L492.4,1126.4 L492.7,1127.8 L493.1,1129.2 L493.5,1130.5 L493.8,1131.9 L494.2,1133.2 L494.6,1134.6 L495.0,1135.9 L495.3,1137.3 L495.7,1138.6 L496.1,1140.0 L496.5,1141.3 L496.9,1142.7 L497.3,1144.0 L497.7,1145.4 L498.1,1146.7 L498.5,1148.1 L498.9,1149.4 L499.3,1150.8 L499.7,1152.1 L500.1,1153.5 L500.5,1154.8 L500.9,1156.2 L501.4,1157.5 L501.8,1158.9 L502.2,1160.2 L502.6,1161.5 L503.1,1162.9 L503.5,1164.2 L504.0,1165.6 L504.4,1166.9 L504.9,1168.2 L505.3,1169.6 L505.8,1170.9 L506.2,1172.2 L506.7,1173.6 L507.1,1174.9 L507.6,1176.3 L508.1,1177.6 L508.6,1178.9 L509.0,1180.2 L509.5,1181.6 L510.0,1182.9 L510.5,1184.2 L511.0,1185.6 L511.5,1186.9 L512.0,1188.2 L512.5,1189.5 L513.0,1190.9 L513.5,1192.2 L514.1,1193.5 L514.6,1194.8 L515.1,1196.1 L515.7,1197.4 L516.2,1198.7 L516.8,1200.0 L517.3,1201.3 L517.9,1202.6 L518.5,1203.9 L519.0,1205.2 L519.6,1206.5 L520.2,1207.8 L520.8,1209.1 L521.4,1210.4 L522.0,1211.7 L522.6,1212.9 L523.2,1214.2 L523.9,1215.5 L524.5,1216.7 L525.1,1218.0 L525.8,1219.2 L526.4,1220.5 L527.1,1221.7 L527.8,1223.0 L528.5,1224.2 L529.1,1225.4 L529.8,1226.7 L530.5,1227.9 L531.3,1229.1 L532.0,1230.3 L532.7,1231.5 L533.4,1232.7 L534.2,1233.9 L535.0,1235.1 L535.7,1236.3 L536.5,1237.4 L537.3,1238.6 L538.1,1239.8 L538.9,1240.9 L539.7,1242.1 L540.5,1243.2 L541.4,1244.3 L542.2,1245.5 L543.1,1246.6 L543.9,1247.7 L544.8,1248.8 L545.7,1249.9 L546.6,1251.0 L547.5,1252.1 L548.4,1253.1 L549.4,1254.2 L550.3,1255.2 L551.3,1256.3 L552.2,1257.3 L553.2,1258.4 L554.2,1259.4 L555.2,1260.4 L556.2,1261.4 L557.2,1262.4 L558.2,1263.4 L559.3,1264.4 L560.3,1265.3 L561.4,1266.3 L562.4,1267.2 L563.5,1268.1 L564.6,1269.1 L565.7,1270.0 L566.8,1270.9 L567.9,1271.7 L569.0,1272.6 L570.1,1273.5 L571.3,1274.3 L572.4,1275.2 L573.6,1276.0 L574.7,1276.8 L575.9,1277.6 L577.1,1278.4 L578.3,1279.1 L579.5,1279.9 L580.7,1280.6 L581.9,1281.4 L583.1,1282.1 L584.3,1282.8 L585.5,1283.5 L586.8,1284.1 L588.0,1284.8 L589.3,1285.4 L590.5,1286.1 L591.8,1286.7 L593.1,1287.3 L594.3,1287.9 L595.6,1288.4 L596.9,1289.0 L598.2,1289.6 L599.5,1290.1 L600.8,1290.6 L602.1,1291.2 L603.4,1291.7 L604.7,1292.2 L606.0,1292.7 L607.4,1293.1 L608.7,1293.6 L610.0,1294.0 L611.4,1294.5 L612.7,1294.9 L614.0,1295.4 L615.4,1295.8 L616.7,1296.2 L618.1,1296.6 L619.5,1297.0 L620.8,1297.4 L622.2,1297.7 L623.6,1298.1 L624.9,1298.5 L626.3,1298.8 L627.7,1299.2 L629.1,1299.5 L630.4,1299.8 L631.8,1300.1 L633.2,1300.5 L634.6,1300.8 L636.0,1301.1 L637.4,1301.4 L638.8,1301.7 L640.1,1302.0 L641.5,1302.3 L642.9,1302.5 L644.3,1302.8 L645.7,1303.1 L647.1,1303.4 L648.5,1303.6 L649.9,1303.9 L651.3,1304.1 L652.7,1304.4 L654.1,1304.6 L655.5,1304.9 L656.9,1305.1 L658.3,1305.4 L659.7,1305.6 L661.1,1305.8 L662.5,1306.1 L663.9,1306.3 L665.3,1306.5 L666.7,1306.7 L668.1,1306.9 L669.5,1307.1 L670.9,1307.3 L672.3,1307.5 L673.7,1307.7 L675.1,1307.9 L676.5,1308.1 L677.9,1308.3 L679.3,1308.5 L680.7,1308.7 L682.1,1308.9 L683.5,1309.0 L684.9,1309.2 L686.3,1309.4 L687.7,1309.5 L689.1,1309.7 L690.5,1309.9 L692.0,1310.0 L693.4,1310.2 L694.8,1310.3 L696.2,1310.5 L697.6,1310.6 L699.0,1310.8 L700.4,1310.9 L701.8,1311.0 L703.2,1311.2 L704.6,1311.3 L706.0,1311.4 L707.4,1311.6 L708.9,1311.7 L710.3,1311.8 L711.7,1311.9 L713.1,1312.0 L714.5,1312.2 L715.9,1312.3 L717.3,1312.4 L718.7,1312.5 L720.1,1312.6 L721.6,1312.7 L723.0,1312.8 L724.4,1313.0 L725.8,1313.1 L727.2,1313.2 L728.6,1313.3 L730.0,1313.5 L731.4,1313.6 L732.9,1313.7 L734.3,1313.8 L735.7,1313.9 L737.1,1314.0 L738.5,1314.1 L739.9,1314.2 L741.3,1314.3 L742.8,1314.4 L744.2,1314.5 L745.6,1314.5 L747.0,1314.6 L748.4,1314.7 L749.8,1314.8 L751.2,1314.9 L752.7,1314.9 L754.1,1315.0 L755.5,1315.1 L756.9,1315.2 L758.3,1315.2 L759.7,1315.3 L761.2,1315.4 L762.6,1315.4 L764.0,1315.5 L765.4,1315.5 L766.8,1315.6 L768.2,1315.6 L769.7,1315.7 L771.1,1315.7 L772.5,1315.8 L773.9,1315.8 L775.3,1315.9 L776.7,1315.9 L778.2,1315.9 L779.6,1316.0 L781.0,1316.0 L782.4,1316.1 L783.8,1316.1 L785.3,1316.1 L786.7,1316.2 L788.1,1316.2 L789.5,1316.2 L790.9,1316.2 L792.3,1316.3 L793.8,1316.3 L795.2,1316.3 L796.6,1316.3 L798.0,1316.4 L799.4,1316.4 L800.9,1316.4 L802.3,1316.4 L803.7,1316.5 L805.1,1316.5 L806.5,1316.5 L808.0,1316.5 L809.4,1316.5 L810.8,1316.5 L812.2,1316.5 L813.6,1316.6 L815.0,1316.6 L816.5,1316.6 L817.9,1316.6 L819.3,1316.6 L820.7,1316.6 L822.1,1316.6 L823.6,1316.7 L825.0,1316.7 L826.4,1316.7 L827.8,1316.7 L829.2,1316.7 L830.6,1316.7 L832.1,1316.7 L833.5,1316.7 L834.9,1316.7 L836.3,1316.7 L837.7,1316.8 L839.2,1316.8 L840.6,1316.8 L842.0,1316.8 L843.4,1316.8 L844.8,1316.8 L846.2,1316.8 L847.7,1316.8 L849.1,1316.9 L850.5,1316.9 L851.9,1316.9 L853.3,1316.9 L854.7,1316.9 L856.2,1316.9 L857.6,1316.9 L859.0,1317.0 L860.4,1317.0 L861.8,1317.0 L863.2,1317.0 L864.7,1317.0 L866.1,1317.1 L867.5,1317.1 L868.9,1317.1 L870.3,1317.1 L871.7,1317.2 L873.2,1317.2 L874.6,1317.2 L876.0,1317.2 L877.4,1317.3 L878.8,1317.3 L880.2,1317.3 L881.6,1317.4 L883.1,1317.4 L884.5,1317.4 L885.9,1317.5 L887.3,1317.5 L888.7,1317.6 L890.1,1317.6 L891.5,1317.6 L892.9,1317.7 L894.4,1317.7 L895.8,1317.8 L897.2,1317.8 L898.6,1317.9 L900.0,1318.0 L1960.0,1318.0"/>
<path stroke="#ff00ff" d="M356.0,1318.0 L415.4,1318.0 L415.7,1316.1 L416.0,1314.3 L416.3,1312.5 L416.5,1311.1 L416.8,1309.8 L417.1,1308.4 L417.3,1307.0 L417.6,1305.6 L417.9,1304.3 L418.1,1302.9 L418.3,1301.5 L418.6,1300.1 L418.8,1298.8 L419.0,1297.4 L419.3,1296.0 L419.5,1294.6 L419.7,1293.2 L419.9,1291.8 L420.1,1290.4 L420.3,1289.1 L420.5,1287.7 L420.7,1286.3 L420.9,1284.9 L421.1,1283.5 L421.3,1282.1 L421.5,1280.7 L421.7,1279.3 L421.8,1278.0 L422.0,1276.6 L422.2,1275.2 L422.4,1273.8 L422.5,1272.4 L422.7,1271.0 L422.9,1269.6 L423.0,1268.2 L423.2,1266.8 L423.3,1265.4 L423.5,1264.1 L423.6,1262.7 L423.8,1261.3 L423.9,1259.9 L424.1,1258.5 L424.2,1257.1 L424.4,1255.7 L424.5,1254.3 L424.6,1252.9 L424.8,1251.5 L424.9,1250.1 L425.0,1248.8 L425.2,1247.4 L425.3,1246.0 L425.4,1244.6 L425.5,1243.2 L425.7,1241.8 L425.8,1240.4 L425.9,1239.0 L426.0,1237.6 L426.1,1236.2 L426.2,1234.8 L426.4,1233.4 L426.5,1232.1 L426.6,1230.7 L426.7,1229.3 L426.8,1227.9 L426.9,1226.5 L427.0,1225.1 L427.1,1223.7 L427.2,1222.3 L427.3,1220.9 L427.4,1219.5 L427.5,1218.1 L427.6,1216.7 L427.7,1215.3 L427.8,1213.9 L427.9,1212.5 L428.0,1211.1 L428.1,1209.7 L428.2,1208.4 L428.3,1207.0 L428.4,1205.6 L428.5,1204.2 L428.5,1202.8 L428.6,1201.4 L428.7,1200.0 L428.8,1198.6 L428.9,1197.2 L429.0,1195.8 L429.1,1194.4 L429.2,1193.0 L429.3,1191.6 L429.3,1190.2 L429.4,1188.8 L429.5,1187.4 L429.6,1186.0 L429.7,1184.6 L429.8,1183.2 L429.9,1181.8 L430.0,1180.4 L430.0,1179.0 L430.1,1177.6 L430.2,1176.2 L430.3,1174.8 L430.4,1173.4 L430.5,1172.0 L430.6,1170.6 L430.6,1169.2 L430.7,1167.8 L430.8,1166.4 L430.9,1165.0 L431.0,1163.6 L431.1,1162.2 L431.2,1160.8 L431.3,1159.4 L431.3,1158.0 L431.4,1156.6 L431.5,1155.2 L431.6,1153.8 L431.7,1152.4 L431.8,1151.0 L431.9,1149.6 L432.0,1148.2 L432.1,1146.8 L432.1,1145.4 L432.2,1144.0 L432.3,1142.6 L432.4,1141.2 L432.5,1139.8 L432.6,1138.4 L432.7,1137.0 L432.8,1135.6 L432.9,1134.2 L433.0,1132.8 L433.1,1131.4 L433.2,1130.0 L433.2,1128.6 L433.3,1127.2 L433.4,1125.8 L433.5,1124.4 L433.6,1123.0 L433.7,1121.6 L433.8,1120.2 L433.9,1118.8 L434.0,1117.4 L434.1,1116.0 L434.2,1114.6 L434.3,1113.2 L434.4,1111.8 L434.5,1110.4 L434.6,1109.0 L434.7,1107.6 L434.8,1106.2 L434.9,1104.8 L435.0,1103.4 L435.1,1102.0 L435.2,1100.6 L435.3,1099.2 L435.4,1097.8 L435.5,1096.4 L435.6,1095.0 L435.8,1093.6 L435.9,1092.2 L436.0,1090.8 L436.1,1089.4 L436.2,1088.0 L436.3,1086.6 L436.4,1085.2 L436.5,1083.8 L436.6,1082.4 L436.8,1081.0 L436.9,1079.6 L437.0,1078.3 L437.1,1076.9 L437.2,1075.5 L437.3,1074.1 L437.5,1072.7 L437.6,1071.3 L437.7,1069.9 L437.8,1068.5 L437.9,1067.1 L438.1,1065.7 L438.2,1064.3 L438.3,1062.9 L438.5,1061.6 L438.6,1060.2 L438.7,1058.8 L438.8,1057.4 L439.0,1056.0 L439.1,1054.6 L439.2,1053.2 L439.4,1051.9 L439.5,1050.5 L439.6,1049.1 L439.8,1047.7 L439.9,1046.3 L440.0,1044.9 L440.2,1043.5 L440.3,1042.2 L440.5,1040.8 L440.6,1039.4 L440.8,1038.0 L440.9,1036.6 L441.1,1035.3 L441.2,1033.9 L441.4,1032.5 L441.5,1031.1 L441.7,1029.8 L441.8,1028.4 L442.0,1027.0 L442.2,1025.6 L442.4,1024.3 L442.6,1022.9 L442.8,1021.6 L443.0,1020.2 L443.3,1018.9 L443.5,1017.5 L443.8,1016.1 L444.1,1014.7 L444.3,1013.3 L444.6,1011.8 L444.9,1010.2 L445.2,1008.7 L445.5,1007.1 L445.8,1005.5 L446.2,1003.9 L446.6,1002.4 L447.1,1000.8 L447.6,999.3 L448.2,997.9 L448.8,996.5 L449.4,995.3 L450.1,994.4 L450.8,993.6 L451.5,993.1 L452.3,993.0 L453.1,993.1 L453.9,993.6 L454.7,994.3 L455.5,995.2 L456.2,996.4 L457.0,997.6 L457.7,999.0 L458.3,1000.5 L458.9,1002.0 L459.5,1003.6 L460.0,1005.2 L460.5,1006.7 L461.0,1008.2 L461.5,1009.7 L462.0,1011.2 L462.4,1012.7 L462.8,1014.1 L463.3,1015.5 L463.7,1016.9 L464.1,1018.3 L464.4,1019.6 L464.8,1021.0 L465.2,1022.3 L465.5,1023.6 L465.9,1024.9 L466.2,1026.2 L466.5,1027.5 L466.9,1028.8 L467.2,1030.1 L467.5,1031.4 L467.8,1032.6 L468.1,1033.9 L468.4,1035.2 L468.7,1036.5 L469.0,1037.7 L469.3,1039.0 L469.6,1040.3 L469.9,1041.6 L470.2,1042.9 L470.5,1044.2 L470.8,1045.5 L471.1,1046.8 L471.4,1048.1 L471.7,1049.5 L472.0,1050.8 L472.3,1052.1 L472.6,1053.5 L472.9,1054.8 L473.2,1056.1 L473.5,1057.5 L473.8,1058.8 L474.1,1060.2 L474.4,1061.5 L474.7,1062.9 L475.0,1064.3 L475.3,1065.6 L475.6,1067.0 L475.9,1068.4 L476.1,1069.7 L476.4,1071.1 L476.7,1072.5 L477.0,1073.9 L477.3,1075.2 L477.6,1076.6 L477.9,1078.0 L478.2,1079.4 L478.6,1080.8 L478.9,1082.2 L479.2,1083.6 L479.5,1084.9 L479.8,1086.3 L480.1,1087.7 L480.4,1089.1 L480.7,1090.5 L481.0,1091.9 L481.3,1093.3 L481.6,1094.7 L481.9,1096.1 L482.3,1097.5 L482.6,1098.9 L482.9,1100.3 L483.2,1101.7 L483.5,1103.1 L483.9,1104.5 L484.2,1105.9 L484.5,1107.3 L484.8,1108.6 L485.2,1110.0 L485.5,1111.4 L485.8,1112.8 L486.2,1114.2 L486.5,1115.6 L486.8,1117.0 L487.2,1118.3 L487.5,1119.7 L487.9,1121.1 L488.2,1122.5 L488.6,1123.8 L488.9,1125.2 L489.3,1126.6 L489.6,1127.9 L490.0,1129.3 L490.4,1130.7 L490.7,1132.0 L491.1,1133.4 L491.5,1134.7 L491.8,1136.0 L492.2,1137.4 L492.6,1138.7 L493.0,1140.1 L493.3,1141.4 L493.7,1142.7 L494.1,1144.0 L494.5,1145.3 L494.9,1146.6 L495.3,1148.0 L495.7,1149.3 L496.1,1150.6 L496.5,1151.9 L496.9,1153.1 L497.3,1154.4 L497.7,1155.7 L498.2,1157.0 L498.6,1158.3 L499.0,1159.6 L499.4,1160.8 L499.9,1162.1 L500.3,1163.4 L500.8,1164.7 L501.2,1165.9 L501.6,1167.2 L502.1,1168.5 L502.6,1169.7 L503.0,1171.0 L503.5,1172.3 L504.0,1173.5 L504.4,1174.8 L504.9,1176.1 L505.4,1177.3 L505.9,1178.6 L506.4,1179.9 L506.8,1181.1 L507.3,1182.4 L507.9,1183.7 L508.4,1185.0 L508.9,1186.2 L509.4,1187.5 L509.9,1188.8 L510.4,1190.1 L511.0,1191.4 L511.5,1192.6 L512.0,1193.9 L512.6,1195.2 L513.1,1196.5 L513.7,1197.8 L514.3,1199.1 L514.8,1200.4 L515.4,1201.7 L516.0,1203.0 L516.6,1204.3 L517.2,1205.6 L517.7,1206.9 L518.3,1208.2 L519.0,1209.4 L519.6,1210.7 L520.2,1212.0 L520.8,1213.3 L521.4,1214.6 L522.1,1215.9 L522.7,1217.2 L523.4,1218.4 L524.0,1219.7 L524.7,1221.0 L525.4,1222.3 L526.1,1223.5 L526.7,1224.8 L527.4,1226.0 L528.1,1227.3 L528.9,1228.5 L529.6,1229.8 L530.3,1231.0 L531.0,1232.2 L531.8,1233.4 L532.5,1234.7 L533.3,1235.9 L534.0,1237.1 L534.8,1238.3 L535.6,1239.5 L536.4,1240.6 L537.2,1241.8 L538.0,1243.0 L538.8,1244.1 L539.6,1245.3 L540.4,1246.4 L541.3,1247.5 L542.1,1248.7 L543.0,1249.8 L543.8,1250.9 L544.7,1252.0 L545.6,1253.0 L546.5,1254.1 L547.4,1255.2 L548.3,1256.2 L549.2,1257.2 L550.1,1258.3 L551.1,1259.3 L552.0,1260.3 L553.0,1261.2 L553.9,1262.2 L554.9,1263.2 L555.9,1264.1 L556.9,1265.1 L557.9,1266.0 L558.9,1266.9 L559.9,1267.8 L561.0,1268.7 L562.0,1269.5 L563.1,1270.4 L564.1,1271.2 L565.2,1272.1 L566.3,1272.9 L567.4,1273.7 L568.5,1274.5 L569.6,1275.3 L570.7,1276.1 L571.8,1276.8 L573.0,1277.6 L574.1,1278.3 L575.2,1279.0 L576.4,1279.8 L577.6,1280.5 L578.7,1281.2 L579.9,1281.9 L581.1,1282.5 L582.3,1283.2 L583.5,1283.9 L584.7,1284.5 L585.9,1285.1 L587.1,1285.8 L588.3,1286.4 L589.6,1287.0 L590.8,1287.6 L592.0,1288.1 L593.3,1288.7 L594.5,1289.3 L595.8,1289.8 L597.1,1290.4 L598.3,1290.9 L599.6,1291.5 L600.9,1292.0 L602.2,1292.5 L603.5,1293.0 L604.8,1293.5 L606.1,1294.0 L607.4,1294.4 L608.7,1294.9 L610.0,1295.4 L611.4,1295.8 L612.7,1296.3 L614.0,1296.7 L615.3,1297.1 L616.7,1297.5 L618.0,1298.0 L619.4,1298.4 L620.7,1298.8 L622.1,1299.1 L623.4,1299.5 L624.8,1299.9 L626.2,1300.3 L627.5,1300.6 L628.9,1301.0 L630.3,1301.3 L631.7,1301.7 L633.0,1302.0 L634.4,1302.3 L635.8,1302.7 L637.2,1303.0 L638.6,1303.3 L640.0,1303.6 L641.4,1303.9 L642.8,1304.2 L644.2,1304.5 L645.6,1304.7 L647.0,1305.0 L648.4,1305.3 L649.8,1305.6 L651.2,1305.8 L652.6,1306.1 L654.0,1306.3 L655.4,1306.6 L656.8,1306.8 L658.2,1307.0 L659.6,1307.3 L661.0,1307.5 L662.4,1307.7 L663.9,1307.9 L665.3,1308.2 L666.7,1308.4 L668.1,1308.6 L669.5,1308.8 L670.9,1309.0 L672.3,1309.2 L673.7,1309.4 L675.1,1309.5 L676.5,1309.7 L678.0,1309.9 L679.4,1310.1 L680.8,1310.3 L682.2,1310.4 L683.6,1310.6 L685.0,1310.8 L686.4,1310.9 L687.8,1311.1 L689.2,1311.2 L690.6,1311.4 L692.0,1311.5 L693.4,1311.7 L694.8,1311.8 L696.2,1312.0 L697.6,1312.1 L699.0,1312.2 L700.4,1312.4 L701.8,1312.5 L703.2,1312.6 L704.6,1312.8 L706.0,1312.9 L707.4,1313.1 L708.8,1313.2 L710.2,1313.4 L711.6,1313.5 L713.0,1313.7 L714.4,1313.8 L715.8,1313.9 L717.2,1314.1 L718.5,1314.2 L719.9,1314.3 L721.3,1314.4 L722.7,1314.6 L724.1,1314.7 L725.5,1314.8 L726.9,1314.9 L728.3,1315.0 L729.7,1315.1 L731.1,1315.2 L732.5,1315.3 L733.9,1315.4 L735.3,1315.5 L736.6,1315.6 L738.0,1315.7 L739.4,1315.7 L740.8,1315.8 L742.2,1315.9 L743.6,1316.0 L745.0,1316.0 L746.4,1316.1 L747.8,1316.2 L749.1,1316.2 L750.5,1316.3 L751.9,1316.4 L753.3,1316.4 L754.7,1316.5 L756.1,1316.5 L757.5,1316.6 L758.9,1316.6 L760.3,1316.7 L761.6,1316.7 L763.0,1316.8 L764.4,1316.8 L765.8,1316.8 L767.2,1316.9 L768.6,1316.9 L770.0,1316.9 L771.4,1317.0 L772.7,1317.0 L774.1,1317.0 L775.5,1317.1 L776.9,1317.1 L778.3,1317.1 L779.7,1317.1 L781.1,1317.2 L782.4,1317.2 L783.8,1317.2 L785.2,1317.2 L786.6,1317.2 L788.0,1317.2 L789.4,1317.2 L790.8,1317.3 L792.2,1317.3 L793.6,1317.3 L794.9,1317.3 L796.3,1317.3 L797.7,1317.3 L799.1,1317.3 L800.5,1317.3 L801.9,1317.3 L803.3,1317.3 L804.7,1317.3 L806.0,1317.3 L807.4,1317.3 L808.8,1317.3 L810.2,1317.3 L811.6,1317.3 L813.0,1317.3 L814.4,1317.3 L815.8,1317.3 L817.2,1317.3 L818.6,1317.3 L820.0,1317.3 L821.3,1317.3 L822.7,1317.3 L824.1,1317.3 L825.5,1317.3 L826.9,1317.3 L828.3,1317.3 L829.7,1317.3 L831.1,1317.3 L832.5,1317.3 L833.9,1317.2 L835.3,1317.2 L836.7,1317.2 L838.1,1317.2 L839.5,1317.2 L840.9,1317.2 L842.3,1317.2 L843.7,1317.2 L845.1,1317.2 L846.5,1317.2 L847.9,1317.2 L849.3,1317.2 L850.7,1317.2 L852.1,1317.2 L853.5,1317.2 L854.9,1317.2 L856.3,1317.2 L857.7,1317.2 L859.1,1317.2 L860.5,1317.2 L861.9,1317.3 L863.3,1317.3 L864.7,1317.3 L866.1,1317.3 L867.5,1317.3 L868.9,1317.3 L870.3,1317.3 L871.7,1317.3 L873.1,1317.3 L874.5,1317.4 L875.9,1317.4 L877.4,1317.4 L878.8,1317.4 L880.2,1317.4 L881.6,1317.5 L883.0,1317.5 L884.4,1317.5 L885.8,1317.6 L887.2,1317.6 L888.7,1317.6 L890.1,1317.7 L891.5,1317.7 L892.9,1317.7 L894.3,1317.8 L895.7,1317.8 L897.2,1317.9 L898.6,1317.9 L900.0,1318.0 L1960.0,1318.0"/>
<path stroke="#008000" d="M356.0,1318.0 L422.3,1318.0 L423.0,1316.1 L423.7,1314.3 L424.4,1312.5 L425.0,1311.0 L425.6,1309.6 L426.1,1308.1 L426.6,1306.7 L427.1,1305.2 L427.5,1303.7 L427.9,1302.1 L428.3,1300.6 L428.6,1299.1 L429.0,1297.5 L429.3,1296.0 L429.5,1294.4 L429.8,1292.8 L430.1,1291.3 L430.3,1289.7 L430.5,1288.1 L430.7,1286.5 L430.9,1284.9 L431.1,1283.3 L431.3,1281.7 L431.5,1280.1 L431.7,1278.5 L431.9,1276.9 L432.0,1275.3 L432.2,1273.7 L432.4,1272.1 L432.6,1270.5 L432.7,1268.9 L432.9,1267.3 L433.1,1265.7 L433.2,1264.2 L433.4,1262.6 L433.6,1261.0 L433.7,1259.4 L433.9,1257.8 L434.0,1256.2 L434.2,1254.6 L434.4,1253.1 L434.5,1251.5 L434.7,1249.9 L434.8,1248.3 L435.0,1246.7 L435.1,1245.2 L435.3,1243.6 L435.4,1242.0 L435.6,1240.4 L435.7,1238.8 L435.8,1237.3 L436.0,1235.7 L436.1,1234.1 L436.3,1232.5 L436.4,1230.9 L436.6,1229.4 L436.7,1227.8 L436.8,1226.2 L437.0,1224.6 L437.1,1223.1 L437.2,1221.5 L437.4,1219.9 L437.5,1218.3 L437.6,1216.8 L437.8,1215.2 L437.9,1213.6 L438.0,1212.0 L438.2,1210.5 L438.3,1208.9 L438.4,1207.3 L438.5,1205.7 L438.7,1204.1 L438.8,1202.6 L438.9,1201.0 L439.1,1199.4 L439.2,1197.8 L439.3,1196.2 L439.4,1194.7 L439.6,1193.1 L439.7,1191.5 L439.8,1189.9 L439.9,1188.3 L440.0,1186.8 L440.2,1185.2 L440.3,1183.6 L440.4,1182.0 L440.5,1180.4 L440.6,1178.8 L440.8,1177.2 L440.9,1175.6 L441.0,1174.0 L441.1,1172.5 L441.3,1170.9 L441.4,1169.3 L441.5,1167.7 L441.6,1166.1 L441.7,1164.5 L441.9,1162.9 L442.0,1161.3 L442.1,1159.7 L442.2,1158.1 L442.3,1156.5 L442.5,1154.9 L442.6,1153.3 L442.7,1151.7 L442.8,1150.1 L442.9,1148.5 L443.1,1146.9 L443.2,1145.3 L443.3,1143.7 L443.5,1142.1 L443.6,1140.4 L443.7,1138.8 L443.8,1137.2 L444.0,1135.6 L444.1,1134.0 L444.2,1132.4 L444.4,1130.8 L444.5,1129.2 L444.6,1127.6 L444.8,1126.0 L444.9,1124.4 L445.0,1122.8 L445.2,1121.2 L445.3,1119.7 L445.5,1118.1 L445.6,1116.5 L445.8,1114.9 L445.9,1113.3 L446.1,1111.7 L446.2,1110.1 L446.4,1108.5 L446.5,1106.9 L446.7,1105.4 L446.8,1103.8 L447.0,1102.2 L447.2,1100.6 L447.3,1099.0 L447.5,1097.5 L447.7,1095.9 L447.8,1094.3 L448.0,1092.8 L448.2,1091.2 L448.4,1089.6 L448.5,1088.1 L448.7,1086.5 L448.9,1085.0 L449.1,1083.4 L449.3,1081.8 L449.5,1080.3 L449.7,1078.8 L449.9,1077.2 L450.1,1075.7 L450.3,1074.1 L450.5,1072.6 L450.7,1071.0 L450.9,1069.5 L451.1,1068.0 L451.3,1066.4 L451.5,1064.9 L451.7,1063.3 L452.0,1061.8 L452.2,1060.2 L452.4,1058.7 L452.6,1057.1 L452.8,1055.6 L453.0,1054.0 L453.2,1052.4 L453.5,1050.9 L453.7,1049.3 L453.9,1047.7 L454.1,1046.1 L454.3,1044.5 L454.5,1042.9 L454.7,1041.3 L454.9,1039.6 L455.1,1038.0 L455.3,1036.4 L455.5,1034.7 L455.7,1033.1 L455.9,1031.4 L456.1,1029.7 L456.3,1028.0 L456.6,1026.3 L456.8,1024.7 L457.1,1023.0 L457.4,1021.3 L457.8,1019.7 L458.2,1018.0 L458.6,1016.4 L459.1,1014.8 L459.7,1013.2 L460.3,1011.6 L460.9,1010.1 L461.7,1008.6 L462.5,1007.2 L463.3,1005.8 L464.2,1004.7 L465.2,1003.8 L466.2,1003.2 L467.2,1002.9 L468.2,1003.0 L469.2,1003.5 L470.2,1004.2 L471.3,1005.2 L472.2,1006.4 L473.2,1007.8 L474.0,1009.4 L474.9,1011.0 L475.6,1012.8 L476.4,1014.6 L477.0,1016.3 L477.7,1018.1 L478.3,1019.8 L478.8,1021.5 L479.4,1023.1 L479.9,1024.6 L480.4,1026.1 L480.8,1027.6 L481.3,1029.1 L481.8,1030.6 L482.2,1032.0 L482.7,1033.5 L483.2,1035.0 L483.6,1036.5 L484.1,1038.0 L484.6,1039.5 L485.0,1041.1 L485.5,1042.6 L485.9,1044.1 L486.4,1045.6 L486.9,1047.2 L487.3,1048.7 L487.8,1050.3 L488.2,1051.8 L488.7,1053.3 L489.1,1054.9 L489.5,1056.4 L490.0,1058.0 L490.4,1059.5 L490.9,1061.0 L491.3,1062.6 L491.7,1064.1 L492.1,1065.6 L492.6,1067.2 L493.0,1068.7 L493.4,1070.3 L493.9,1071.8 L494.3,1073.3 L494.7,1074.9 L495.1,1076.4 L495.5,1077.9 L496.0,1079.5 L496.4,1081.0 L496.8,1082.5 L497.2,1084.1 L497.6,1085.6 L498.1,1087.1 L498.5,1088.6 L498.9,1090.2 L499.3,1091.7 L499.7,1093.2 L500.1,1094.8 L500.6,1096.3 L501.0,1097.8 L501.4,1099.3 L501.8,1100.9 L502.3,1102.4 L502.7,1103.9 L503.1,1105.4 L503.5,1106.9 L504.0,1108.5 L504.4,1110.0 L504.8,1111.5 L505.3,1113.0 L505.7,1114.5 L506.2,1116.1 L506.6,1117.6 L507.1,1119.1 L507.5,1120.6 L508.0,1122.1 L508.4,1123.6 L508.9,1125.1 L509.3,1126.6 L509.8,1128.1 L510.3,1129.6 L510.7,1131.1 L511.2,1132.7 L511.7,1134.2 L512.2,1135.7 L512.7,1137.2 L513.2,1138.7 L513.6,1140.1 L514.1,1141.6 L514.7,1143.1 L515.2,1144.6 L515.7,1146.1 L516.2,1147.6 L516.7,1149.1 L517.2,1150.6 L517.8,1152.1 L518.3,1153.6 L518.9,1155.0 L519.4,1156.5 L520.0,1158.0 L520.5,1159.5 L521.1,1161.0 L521.7,1162.4 L522.3,1163.9 L522.8,1165.4 L523.4,1166.9 L524.0,1168.3 L524.6,1169.8 L525.3,1171.3 L525.9,1172.7 L526.5,1174.2 L527.1,1175.7 L527.8,1177.1 L528.4,1178.6 L529.1,1180.0 L529.7,1181.5 L530.4,1182.9 L531.1,1184.4 L531.8,1185.8 L532.5,1187.3 L533.2,1188.7 L533.9,1190.2 L534.6,1191.6 L535.4,1193.0 L536.1,1194.5 L536.8,1195.9 L537.6,1197.4 L538.4,1198.8 L539.1,1200.2 L539.9,1201.6 L540.7,1203.0 L541.5,1204.5 L542.3,1205.9 L543.1,1207.3 L544.0,1208.7 L544.8,1210.1 L545.6,1211.5 L546.5,1212.9 L547.3,1214.2 L548.2,1215.6 L549.1,1217.0 L550.0,1218.3 L550.9,1219.7 L551.8,1221.1 L552.7,1222.4 L553.6,1223.7 L554.5,1225.1 L555.5,1226.4 L556.4,1227.7 L557.4,1229.0 L558.3,1230.3 L559.3,1231.6 L560.3,1232.9 L561.3,1234.2 L562.3,1235.4 L563.3,1236.7 L564.3,1237.9 L565.3,1239.2 L566.3,1240.4 L567.4,1241.6 L568.4,1242.8 L569.5,1244.0 L570.6,1245.2 L571.6,1246.4 L572.7,1247.5 L573.8,1248.7 L574.9,1249.8 L576.0,1251.0 L577.2,1252.1 L578.3,1253.2 L579.4,1254.3 L580.6,1255.4 L581.7,1256.4 L582.9,1257.5 L584.1,1258.5 L585.2,1259.5 L586.4,1260.6 L587.6,1261.6 L588.8,1262.5 L590.1,1263.5 L591.3,1264.5 L592.5,1265.4 L593.8,1266.3 L595.0,1267.3 L596.3,1268.2 L597.5,1269.1 L598.8,1269.9 L600.1,1270.8 L601.4,1271.6 L602.7,1272.5 L604.0,1273.3 L605.3,1274.1 L606.6,1274.9 L608.0,1275.7 L609.3,1276.5 L610.6,1277.2 L612.0,1278.0 L613.3,1278.7 L614.7,1279.4 L616.1,1280.1 L617.5,1280.8 L618.8,1281.5 L620.2,1282.2 L621.6,1282.9 L623.0,1283.5 L624.4,1284.2 L625.9,1284.8 L627.3,1285.4 L628.7,1286.0 L630.1,1286.6 L631.6,1287.2 L633.0,1287.8 L634.5,1288.4 L635.9,1288.9 L637.4,1289.5 L638.9,1290.0 L640.4,1290.6 L641.8,1291.1 L643.3,1291.6 L644.8,1292.1 L646.3,1292.6 L647.8,1293.1 L649.3,1293.5 L650.8,1294.0 L652.3,1294.5 L653.8,1294.9 L655.4,1295.3 L656.9,1295.8 L658.4,1296.2 L659.9,1296.6 L661.5,1297.0 L663.0,1297.4 L664.6,1297.8 L666.1,1298.2 L667.7,1298.6 L669.2,1298.9 L670.8,1299.3 L672.3,1299.6 L673.9,1300.0 L675.5,1300.3 L677.0,1300.6 L678.6,1301.0 L680.2,1301.3 L681.8,1301.6 L683.4,1301.9 L684.9,1302.2 L686.5,1302.5 L688.1,1302.8 L689.7,1303.0 L691.3,1303.3 L692.9,1303.6 L694.5,1303.8 L696.1,1304.1 L697.7,1304.4 L699.3,1304.6 L700.9,1304.8 L702.5,1305.1 L704.1,1305.3 L705.7,1305.5 L707.3,1305.8 L708.9,1306.0 L710.6,1306.2 L712.2,1306.4 L713.8,1306.6 L715.4,1306.8 L717.0,1307.0 L718.6,1307.2 L720.2,1307.4 L721.9,1307.6 L723.5,1307.7 L725.1,1307.9 L726.7,1308.1 L728.3,1308.3 L729.9,1308.4 L731.6,1308.6 L733.2,1308.8 L734.8,1308.9 L736.4,1309.1 L738.0,1309.2 L739.6,1309.4 L741.2,1309.5 L742.8,1309.7 L744.5,1309.8 L746.1,1310.0 L747.7,1310.1 L749.3,1310.2 L750.9,1310.4 L752.5,1310.5 L754.1,1310.7 L755.7,1310.8 L757.3,1310.9 L758.9,1311.0 L760.5,1311.2 L762.1,1311.3 L763.7,1311.4 L765.3,1311.5 L766.9,1311.7 L768.5,1311.8 L770.1,1311.9 L771.7,1312.0 L773.3,1312.1 L774.9,1312.2 L776.5,1312.3 L778.1,1312.4 L779.7,1312.5 L781.3,1312.6 L782.9,1312.8 L784.5,1312.9 L786.1,1313.0 L787.7,1313.1 L789.3,1313.3 L790.9,1313.4 L792.5,1313.5 L794.1,1313.6 L795.7,1313.7 L797.2,1313.8 L798.8,1313.9 L800.4,1314.0 L802.0,1314.2 L803.6,1314.3 L805.2,1314.4 L806.8,1314.5 L808.4,1314.5 L810.0,1314.6 L811.5,1314.7 L813.1,1314.8 L814.7,1314.9 L816.3,1315.0 L817.9,1315.1 L819.5,1315.2 L821.1,1315.2 L822.6,1315.3 L824.2,1315.4 L825.8,1315.5 L827.4,1315.5 L829.0,1315.6 L830.6,1315.7 L832.1,1315.7 L833.7,1315.8 L835.3,1315.9 L836.9,1315.9 L838.5,1316.0 L840.0,1316.1 L841.6,1316.1 L843.2,1316.2 L844.8,1316.2 L846.4,1316.3 L847.9,1316.3 L849.5,1316.4 L851.1,1316.4 L852.7,1316.5 L854.2,1316.5 L855.8,1316.5 L857.4,1316.6 L859.0,1316.6 L860.6,1316.7 L862.1,1316.7 L863.7,1316.7 L865.3,1316.8 L866.9,1316.8 L868.4,1316.8 L870.0,1316.9 L871.6,1316.9 L873.2,1316.9 L874.8,1316.9 L876.3,1317.0 L877.9,1317.0 L879.5,1317.0 L881.1,1317.0 L882.6,1317.1 L884.2,1317.1 L885.8,1317.1 L887.4,1317.1 L888.9,1317.1 L890.5,1317.2 L892.1,1317.2 L893.7,1317.2 L895.2,1317.2 L896.8,1317.2 L898.4,1317.2 L900.0,1317.2 L901.5,1317.2 L903.1,1317.2 L904.7,1317.3 L906.3,1317.3 L907.8,1317.3 L909.4,1317.3 L911.0,1317.3 L912.6,1317.3 L914.1,1317.3 L915.7,1317.3 L917.3,1317.3 L918.9,1317.3 L920.4,1317.3 L922.0,1317.3 L923.6,1317.3 L925.2,1317.3 L926.8,1317.3 L928.3,1317.3 L929.9,1317.3 L931.5,1317.3 L933.1,1317.3 L934.6,1317.3 L936.2,1317.3 L937.8,1317.3 L939.4,1317.3 L941.0,1317.3 L942.5,1317.2 L944.1,1317.2 L945.7,1317.2 L947.3,1317.2 L948.9,1317.2 L950.4,1317.2 L952.0,1317.2 L953.6,1317.2 L955.2,1317.2 L956.8,1317.2 L958.3,1317.2 L959.9,1317.2 L961.5,1317.2 L963.1,1317.2 L964.7,1317.2 L966.3,1317.1 L967.8,1317.1 L969.4,1317.1 L971.0,1317.1 L972.6,1317.1 L974.2,1317.1 L975.8,1317.1 L977.3,1317.1 L978.9,1317.1 L980.5,1317.1 L982.1,1317.1 L983.7,1317.1 L985.3,1317.1 L986.9,1317.1 L988.5,1317.1 L990.0,1317.0 L991.6,1317.0 L993.2,1317.0 L994.8,1317.0 L996.4,1317.0 L998.0,1317.0 L999.6,1317.0 L1001.2,1317.0 L1002.8,1317.0 L1004.4,1317.0 L1006.0,1317.0 L1007.6,1317.0 L1009.2,1317.0 L1010.7,1317.0 L1012.3,1317.0 L1013.9,1317.0 L1015.5,1317.0 L1017.1,1317.0 L1018.7,1317.0 L1020.3,1317.0 L1021.9,1317.1 L1023.5,1317.1 L1025.1,1317.1 L1026.7,1317.1 L1028.3,1317.1 L1029.9,1317.1 L1031.5,1317.1 L1033.2,1317.1 L1034.8,1317.1 L1036.4,1317.1 L1038.0,1317.2 L1039.6,1317.2 L1041.2,1317.2 L1042.8,1317.2 L1044.4,1317.2 L1046.0,1317.2 L1047.6,1317.3 L1049.2,1317.3 L1050.8,1317.3 L1052.5,1317.3 L1054.1,1317.4 L1055.7,1317.4 L1057.3,1317.4 L1058.9,1317.4 L1060.5,1317.5 L1062.2,1317.5 L1063.8,1317.5 L1065.4,1317.6 L1067.0,1317.6 L1068.6,1317.7 L1070.3,1317.7 L1071.9,1317.7 L1073.5,1317.8 L1075.1,1317.8 L1076.7,1317.9 L1078.4,1317.9 L1080.0,1318.0 L1960.0,1318.0"/>
<path stroke="#000080" d="M356.0,1318.0 L437.0,1318.0 L438.7,1317.6 L440.1,1316.8 L441.2,1315.6 L442.2,1314.2 L443.0,1312.6 L443.7,1311.2 L444.2,1309.8 L444.8,1308.4 L445.3,1307.0 L445.8,1305.5 L446.2,1304.1 L446.6,1302.6 L447.0,1301.2 L447.3,1299.7 L447.6,1298.2 L447.9,1296.7 L448.2,1295.2 L448.5,1293.7 L448.7,1292.2 L449.0,1290.7 L449.2,1289.2 L449.4,1287.7 L449.6,1286.2 L449.9,1284.7 L450.1,1283.2 L450.3,1281.7 L450.5,1280.2 L450.7,1278.7 L450.9,1277.2 L451.1,1275.7 L451.3,1274.2 L451.5,1272.7 L451.6,1271.2 L451.8,1269.7 L452.0,1268.2 L452.2,1266.7 L452.4,1265.2 L452.6,1263.7 L452.8,1262.2 L453.0,1260.7 L453.1,1259.2 L453.3,1257.7 L453.5,1256.2 L453.7,1254.6 L453.9,1253.1 L454.0,1251.6 L454.2,1250.1 L454.4,1248.6 L454.6,1247.1 L454.7,1245.6 L454.9,1244.1 L455.1,1242.6 L455.2,1241.1 L455.4,1239.6 L455.6,1238.1 L455.7,1236.6 L455.9,1235.1 L456.1,1233.6 L456.2,1232.1 L456.4,1230.6 L456.6,1229.1 L456.7,1227.6 L456.9,1226.1 L457.0,1224.6 L457.2,1223.1 L457.3,1221.6 L457.5,1220.1 L457.7,1218.6 L457.8,1217.1 L458.0,1215.6 L458.1,1214.0 L458.3,1212.5 L458.4,1211.0 L458.6,1209.5 L458.7,1208.0 L458.9,1206.5 L459.0,1205.0 L459.1,1203.5 L459.3,1202.0 L459.4,1200.5 L459.6,1199.0 L459.7,1197.5 L459.9,1196.0 L460.0,1194.5 L460.1,1193.0 L460.3,1191.5 L460.4,1190.0 L460.6,1188.5 L460.7,1187.0 L460.8,1185.4 L461.0,1183.9 L461.1,1182.4 L461.2,1180.9 L461.4,1179.4 L461.5,1177.9 L461.6,1176.4 L461.8,1174.9 L461.9,1173.4 L462.0,1171.9 L462.2,1170.4 L462.3,1168.9 L462.4,1167.4 L462.6,1165.9 L462.7,1164.3 L462.8,1162.8 L463.0,1161.3 L463.1,1159.8 L463.2,1158.3 L463.4,1156.8 L463.5,1155.3 L463.6,1153.8 L463.8,1152.3 L463.9,1150.8 L464.0,1149.3 L464.1,1147.8 L464.3,1146.3 L464.4,1144.7 L464.5,1143.2 L464.7,1141.7 L464.8,1140.2 L464.9,1138.7 L465.0,1137.2 L465.2,1135.7 L465.3,1134.2 L465.4,1132.7 L465.6,1131.2 L465.7,1129.7 L465.8,1128.2 L466.0,1126.6 L466.1,1125.1 L466.2,1123.6 L466.3,1122.1 L466.5,1120.6 L466.6,1119.1 L466.7,1117.6 L466.9,1116.1 L467.0,1114.6 L467.1,1113.1 L467.3,1111.6 L467.4,1110.1 L467.5,1108.5 L467.7,1107.0 L467.8,1105.5 L467.9,1104.0 L468.1,1102.5 L468.2,1101.0 L468.4,1099.5 L468.5,1098.0 L468.6,1096.5 L468.8,1095.0 L468.9,1093.5 L469.0,1092.0 L469.2,1090.5 L469.3,1088.9 L469.5,1087.4 L469.6,1085.9 L469.7,1084.4 L469.9,1082.9 L470.0,1081.4 L470.2,1079.9 L470.3,1078.4 L470.5,1076.9 L470.6,1075.4 L470.8,1073.9 L470.9,1072.4 L471.1,1070.9 L471.2,1069.4 L471.4,1067.9 L471.5,1066.3 L471.7,1064.8 L471.8,1063.3 L472.0,1061.8 L472.1,1060.3 L472.3,1058.8 L472.5,1057.3 L472.6,1055.8 L472.8,1054.3 L472.9,1052.8 L473.1,1051.3 L473.3,1049.8 L473.4,1048.3 L473.6,1046.8 L473.8,1045.3 L473.9,1043.8 L474.1,1042.3 L474.3,1040.8 L474.4,1039.3 L474.6,1037.8 L474.8,1036.3 L475.0,1034.8 L475.1,1033.3 L475.3,1031.8 L475.5,1030.3 L475.7,1028.8 L475.9,1027.3 L476.1,1025.8 L476.3,1024.3 L476.5,1022.8 L476.7,1021.3 L476.9,1019.9 L477.2,1018.4 L477.4,1016.9 L477.6,1015.5 L477.9,1014.0 L478.1,1012.5 L478.4,1011.1 L478.6,1009.6 L478.9,1008.2 L479.2,1006.7 L479.4,1005.2 L479.7,1003.8 L479.9,1002.3 L480.2,1000.8 L480.5,999.3 L480.7,997.7 L481.0,996.2 L481.3,994.6 L481.6,993.1 L481.9,991.5 L482.3,989.9 L482.7,988.3 L483.2,986.7 L483.8,985.1 L484.4,983.5 L485.1,982.0 L485.9,980.4 L486.8,979.0 L487.7,977.7 L488.6,976.5 L489.6,975.5 L490.6,974.8 L491.7,974.4 L492.7,974.3 L493.8,974.5 L494.8,975.0 L495.9,975.8 L496.9,976.8 L497.9,977.9 L498.9,979.2 L499.9,980.6 L500.8,982.0 L501.6,983.4 L502.4,984.8 L503.2,986.2 L503.9,987.7 L504.6,989.1 L505.3,990.6 L505.9,992.0 L506.5,993.5 L507.0,994.9 L507.6,996.4 L508.1,997.8 L508.6,999.3 L509.1,1000.8 L509.6,1002.2 L510.1,1003.7 L510.6,1005.2 L511.0,1006.6 L511.5,1008.1 L512.0,1009.5 L512.4,1011.0 L512.9,1012.4 L513.4,1013.9 L513.8,1015.3 L514.3,1016.7 L514.8,1018.2 L515.2,1019.6 L515.7,1021.0 L516.1,1022.5 L516.6,1023.9 L517.0,1025.3 L517.5,1026.8 L517.9,1028.2 L518.4,1029.6 L518.8,1031.1 L519.3,1032.5 L519.7,1033.9 L520.2,1035.3 L520.6,1036.7 L521.0,1038.2 L521.5,1039.6 L521.9,1041.0 L522.4,1042.4 L522.8,1043.8 L523.2,1045.3 L523.7,1046.7 L524.1,1048.1 L524.6,1049.5 L525.0,1050.9 L525.4,1052.4 L525.9,1053.8 L526.3,1055.2 L526.7,1056.6 L527.2,1058.0 L527.6,1059.5 L528.0,1060.9 L528.4,1062.3 L528.9,1063.7 L529.3,1065.2 L529.7,1066.6 L530.2,1068.0 L530.6,1069.4 L531.0,1070.9 L531.5,1072.3 L531.9,1073.7 L532.3,1075.2 L532.7,1076.6 L533.2,1078.0 L533.6,1079.5 L534.0,1080.9 L534.4,1082.4 L534.9,1083.8 L535.3,1085.3 L535.7,1086.7 L536.2,1088.2 L536.6,1089.6 L537.0,1091.1 L537.4,1092.5 L537.9,1094.0 L538.3,1095.4 L538.7,1096.9 L539.2,1098.4 L539.6,1099.8 L540.0,1101.3 L540.5,1102.8 L540.9,1104.2 L541.4,1105.7 L541.8,1107.1 L542.3,1108.6 L542.7,1110.1 L543.1,1111.5 L543.6,1113.0 L544.0,1114.5 L544.5,1115.9 L545.0,1117.4 L545.4,1118.9 L545.9,1120.3 L546.3,1121.8 L546.8,1123.3 L547.3,1124.7 L547.7,1126.2 L548.2,1127.7 L548.7,1129.1 L549.2,1130.6 L549.7,1132.0 L550.1,1133.5 L550.6,1135.0 L551.1,1136.4 L551.6,1137.9 L552.1,1139.3 L552.6,1140.8 L553.1,1142.2 L553.6,1143.7 L554.2,1145.1 L554.7,1146.6 L555.2,1148.0 L555.7,1149.5 L556.3,1150.9 L556.8,1152.3 L557.3,1153.8 L557.9,1155.2 L558.4,1156.6 L559.0,1158.1 L559.5,1159.5 L560.1,1160.9 L560.7,1162.3 L561.3,1163.8 L561.8,1165.2 L562.4,1166.6 L563.0,1168.0 L563.6,1169.4 L564.2,1170.8 L564.8,1172.2 L565.4,1173.6 L566.1,1175.0 L566.7,1176.4 L567.3,1177.8 L567.9,1179.1 L568.6,1180.5 L569.2,1181.9 L569.9,1183.3 L570.6,1184.6 L571.2,1186.0 L571.9,1187.3 L572.6,1188.7 L573.3,1190.0 L574.0,1191.4 L574.7,1192.7 L575.4,1194.1 L576.1,1195.4 L576.8,1196.7 L577.6,1198.0 L578.3,1199.3 L579.1,1200.7 L579.8,1202.0 L580.6,1203.3 L581.4,1204.6 L582.1,1205.8 L582.9,1207.1 L583.7,1208.4 L584.5,1209.7 L585.3,1210.9 L586.2,1212.2 L587.0,1213.4 L587.8,1214.7 L588.7,1215.9 L589.5,1217.2 L590.4,1218.4 L591.3,1219.6 L592.2,1220.8 L593.1,1222.0 L594.0,1223.2 L594.9,1224.4 L595.8,1225.6 L596.7,1226.8 L597.6,1228.0 L598.6,1229.2 L599.5,1230.3 L600.5,1231.5 L601.4,1232.6 L602.4,1233.8 L603.4,1234.9 L604.3,1236.1 L605.3,1237.2 L606.3,1238.3 L607.3,1239.4 L608.4,1240.5 L609.4,1241.6 L610.4,1242.7 L611.4,1243.8 L612.5,1244.9 L613.5,1245.9 L614.6,1247.0 L615.7,1248.0 L616.7,1249.1 L617.8,1250.1 L618.9,1251.1 L620.0,1252.2 L621.1,1253.2 L622.2,1254.2 L623.3,1255.2 L624.4,1256.2 L625.6,1257.2 L626.7,1258.1 L627.8,1259.1 L629.0,1260.1 L630.1,1261.0 L631.3,1262.0 L632.5,1262.9 L633.6,1263.8 L634.8,1264.8 L636.0,1265.7 L637.2,1266.6 L638.4,1267.5 L639.6,1268.4 L640.8,1269.2 L642.0,1270.1 L643.2,1271.0 L644.5,1271.8 L645.7,1272.7 L646.9,1273.5 L648.2,1274.4 L649.4,1275.2 L650.7,1276.0 L651.9,1276.8 L653.2,1277.6 L654.5,1278.4 L655.8,1279.2 L657.0,1279.9 L658.3,1280.7 L659.6,1281.4 L660.9,1282.2 L662.2,1282.9 L663.5,1283.6 L664.9,1284.3 L666.2,1285.1 L667.5,1285.7 L668.8,1286.4 L670.2,1287.1 L671.5,1287.8 L672.9,1288.4 L674.2,1289.1 L675.6,1289.7 L676.9,1290.4 L678.3,1291.0 L679.6,1291.6 L681.0,1292.2 L682.4,1292.8 L683.8,1293.4 L685.2,1293.9 L686.6,1294.5 L688.0,1295.1 L689.4,1295.6 L690.8,1296.1 L692.2,1296.7 L693.6,1297.2 L695.0,1297.7 L696.4,1298.2 L697.9,1298.6 L699.3,1299.1 L700.7,1299.6 L702.1,1300.0 L703.6,1300.5 L705.0,1300.9 L706.5,1301.3 L707.9,1301.7 L709.4,1302.1 L710.9,1302.5 L712.3,1302.9 L713.8,1303.3 L715.3,1303.6 L716.7,1304.0 L718.2,1304.3 L719.7,1304.6 L721.2,1305.0 L722.6,1305.3 L724.1,1305.6 L725.6,1305.8 L727.1,1306.1 L728.6,1306.4 L730.1,1306.7 L731.6,1306.9 L733.1,1307.2 L734.6,1307.4 L736.1,1307.6 L737.7,1307.9 L739.2,1308.1 L740.7,1308.3 L742.2,1308.5 L743.7,1308.7 L745.2,1308.9 L746.8,1309.0 L748.3,1309.2 L749.8,1309.4 L751.3,1309.6 L752.9,1309.7 L754.4,1309.9 L755.9,1310.0 L757.5,1310.1 L759.0,1310.3 L760.5,1310.4 L762.1,1310.5 L763.6,1310.7 L765.2,1310.8 L766.7,1310.9 L768.2,1311.0 L769.8,1311.1 L771.3,1311.2 L772.9,1311.3 L774.4,1311.4 L775.9,1311.5 L777.5,1311.5 L779.0,1311.6 L780.6,1311.7 L782.1,1311.8 L783.7,1311.8 L785.2,1311.9 L786.8,1312.0 L788.3,1312.1 L789.8,1312.1 L791.4,1312.2 L792.9,1312.2 L794.5,1312.3 L796.0,1312.4 L797.5,1312.4 L799.1,1312.5 L800.6,1312.5 L802.2,1312.6 L803.7,1312.7 L805.2,1312.8 L806.8,1312.8 L808.3,1312.9 L809.8,1313.0 L811.3,1313.1 L812.9,1313.1 L814.4,1313.2 L815.9,1313.3 L817.5,1313.4 L819.0,1313.5 L820.5,1313.6 L822.0,1313.6 L823.5,1313.7 L825.0,1313.8 L826.6,1313.9 L828.1,1314.0 L829.6,1314.1 L831.1,1314.2 L832.6,1314.3 L834.1,1314.3 L835.6,1314.4 L837.1,1314.5 L838.7,1314.6 L840.2,1314.7 L841.7,1314.8 L843.2,1314.9 L844.7,1315.0 L846.2,1315.1 L847.7,1315.2 L849.2,1315.3 L850.7,1315.3 L852.2,1315.4 L853.7,1315.5 L855.2,1315.6 L856.7,1315.7 L858.2,1315.8 L859.7,1315.9 L861.2,1316.0 L862.7,1316.1 L864.2,1316.2 L865.6,1316.2 L867.1,1316.3 L868.6,1316.4 L870.1,1316.5 L871.6,1316.6 L873.1,1316.7 L874.6,1316.8 L876.1,1316.9 L877.6,1316.9 L879.1,1317.0 L880.6,1317.1 L882.1,1317.2 L883.5,1317.3 L885.0,1317.4 L886.5,1317.4 L888.0,1317.5 L889.5,1317.6 L891.0,1317.7 L892.5,1317.7 L894.0,1317.8 L895.5,1317.9 L897.0,1318.0 L898.4,1318.0 L899.9,1318.0 L901.4,1318.0 L902.9,1318.0 L904.4,1318.0 L905.9,1318.0 L907.4,1318.0 L908.9,1318.0 L910.4,1318.0 L911.9,1318.0 L913.4,1318.0 L914.9,1318.0 L916.3,1318.0 L917.8,1318.0 L919.3,1318.0 L920.8,1318.0 L922.3,1318.0 L923.8,1318.0 L925.3,1318.0 L926.8,1318.0 L928.3,1318.0 L929.8,1318.0 L931.3,1318.0 L932.8,1318.0 L934.3,1318.0 L935.8,1318.0 L937.3,1318.0 L938.8,1318.0 L940.3,1318.0 L941.8,1318.0 L943.3,1318.0 L944.9,1318.0 L946.4,1318.0 L947.9,1318.0 L949.4,1318.0 L950.9,1318.0 L952.4,1318.0 L953.9,1318.0 L955.4,1318.0 L957.0,1318.0 L958.5,1318.0 L960.0,1318.0 L961.5,1318.0 L963.0,1318.0 L964.6,1318.0 L966.1,1318.0 L967.6,1318.0 L969.1,1318.0 L970.7,1318.0 L972.2,1318.0 L973.7,1318.0 L975.2,1318.0 L976.8,1318.0 L978.3,1318.0 L979.9,1318.0 L981.4,1318.0 L982.9,1318.0 L984.5,1318.0 L986.0,1318.0 L987.6,1318.0 L989.1,1318.0 L990.7,1318.0 L992.2,1318.0 L993.8,1318.0 L995.3,1318.0 L996.9,1318.0 L998.4,1318.0 L1000.0,1317.9 L1960.0,1318.0"/>
</g>
<text class="pl" transform="translate(42.60,837.90) scale(1,1.008)">B</text>
<text class="ti" transform="translate(87.20,1091.40) rotate(-90) scale(1,1.02)" text-anchor="middle">Intensity [%]</text>
<g clip-path="url(#cb)"><text class="xt" transform="translate(1113.80,1469.80) scale(1,1.012)" text-anchor="middle">Size [nm]</text></g>
<rect x="1435.2" y="798.2" width="491.79999999999995" height="356.79999999999995" fill="#fff" stroke="#000" stroke-width="2" stroke-linejoin="round"/>
<path d="M1461.9,831.5 H1569.9" stroke="#000000" stroke-width="4.0" stroke-linecap="round"/>
<text class="lg" transform="translate(1582.20,847.70)">Plain HPMCAS</text>
<path d="M1461.9,890.9 H1569.9" stroke="#ff0000" stroke-width="4.0" stroke-linecap="round"/>
<text class="lg" transform="translate(1582.20,907.06)">Initial</text>
<path d="M1461.9,950.2 H1569.9" stroke="#0000ff" stroke-width="4.0" stroke-linecap="round"/>
<text class="lg" transform="translate(1582.20,966.42)">30 min</text>
<path d="M1461.9,1009.6 H1569.9" stroke="#ff00ff" stroke-width="4.0" stroke-linecap="round"/>
<text class="lg" transform="translate(1582.20,1025.78)">60 min</text>
<path d="M1461.9,1068.9 H1569.9" stroke="#008000" stroke-width="4.0" stroke-linecap="round"/>
<text class="lg" transform="translate(1582.20,1085.14)">120 min</text>
<path d="M1461.9,1128.3 H1569.9" stroke="#000080" stroke-width="4.0" stroke-linecap="round"/>
<text class="lg" transform="translate(1582.20,1144.50)">180 min</text>
</svg>
</body></html>
